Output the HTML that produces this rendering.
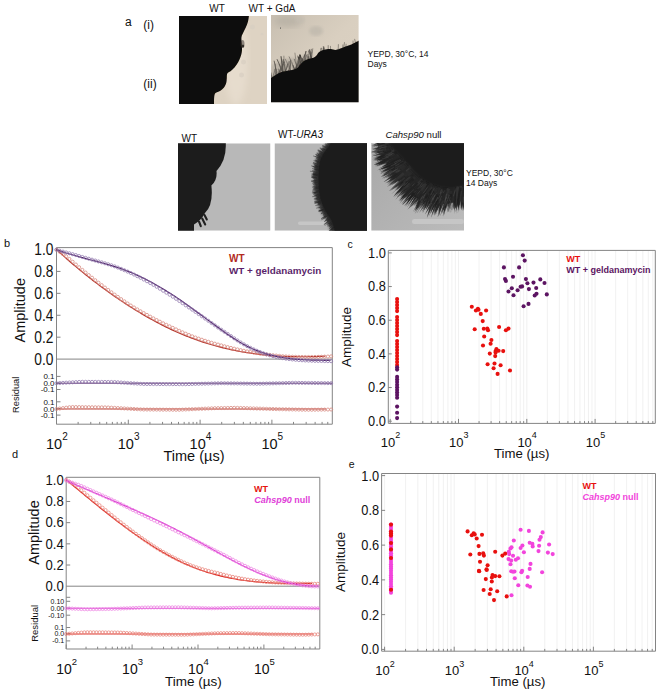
<!DOCTYPE html>
<html><head><meta charset="utf-8"><title>Figure</title>
<style>
html,body{margin:0;padding:0;background:#fff;width:660px;height:694px;overflow:hidden}
svg{display:block}
text{font-family:"Liberation Sans", sans-serif;}
</style></head><body>
<svg width="660" height="694" viewBox="0 0 660 694">
<defs><filter id="bl1" x="-5%" y="-5%" width="110%" height="110%"><feGaussianBlur stdDeviation="0.6"/></filter><filter id="bl2" x="-10%" y="-10%" width="120%" height="120%"><feGaussianBlur stdDeviation="1.6"/></filter><filter id="bl3" x="-10%" y="-10%" width="120%" height="120%"><feGaussianBlur stdDeviation="3"/></filter><clipPath id="c1"><rect x="179" y="16" width="88" height="88"/></clipPath><clipPath id="c2"><rect x="271" y="15" width="87.6" height="87.3"/></clipPath><clipPath id="c3"><rect x="178" y="143.3" width="92.5" height="87.4"/></clipPath><clipPath id="c4"><rect x="274.5" y="143.3" width="92.5" height="87.4"/></clipPath><clipPath id="c5"><rect x="371.2" y="143.3" width="92.8" height="87.4"/></clipPath><linearGradient id="g2" x1="0" y1="0" x2="1" y2="1"><stop offset="0" stop-color="#c8bfb1"/><stop offset="0.5" stop-color="#d9cfc0"/><stop offset="1" stop-color="#dcd2c3"/></linearGradient><linearGradient id="g5" x1="0" y1="0" x2="1" y2="1"><stop offset="0" stop-color="#a8a8a8"/><stop offset="1" stop-color="#bbbbbb"/></linearGradient></defs>
<g clip-path="url(#c1)">
<rect x="179" y="16" width="88" height="88" fill="#ded3c3"/>
<ellipse cx="236" cy="60" rx="12" ry="45" fill="#e6dccd" filter="url(#bl3)"/>
<circle cx="252.5" cy="27" r="2.5" fill="#d8cfc2" filter="url(#bl1)" opacity="0.7"/>
<circle cx="243.5" cy="62" r="2.5" fill="#d8cfc2" filter="url(#bl1)" opacity="0.7"/>
<circle cx="241.5" cy="75" r="2.5" fill="#d8cfc2" filter="url(#bl1)" opacity="0.7"/>
<circle cx="262" cy="34" r="1.5" fill="#d8cfc2" filter="url(#bl1)" opacity="0.7"/>
<path d="M249.3,13 C249.23,13.52 249.12,14.68 248.9,16.1 C248.68,17.52 248.48,19.68 248,21.5 C247.52,23.32 246.78,25.17 246,27 C245.22,28.83 244.05,30.83 243.3,32.5 C242.55,34.17 241.78,35.42 241.5,37 C241.22,38.58 241.52,40.33 241.6,42 C241.68,43.67 241.97,45.33 242,47 C242.03,48.67 242.05,50.33 241.8,52 C241.55,53.67 241.13,55.25 240.5,57 C239.87,58.75 239,60.75 238,62.5 C237,64.25 235.75,66.05 234.5,67.5 C233.25,68.95 231.7,70.2 230.5,71.2 C229.3,72.2 227.92,72.37 227.3,73.5 C226.68,74.63 226.98,76.42 226.8,78 C226.62,79.58 226.7,81.37 226.2,83 C225.7,84.63 224.83,86.47 223.8,87.8 C222.77,89.13 221.38,90.13 220,91 C218.62,91.87 216.47,92 215.5,93 C214.53,94 214.45,95.17 214.2,97 C213.95,98.83 214.03,102.33 214,104 C213.97,105.67 214,106.5 214,107 L170,107 L170,13 Z" fill="#0b0907" filter="url(#bl1)"/>
<ellipse cx="242.5" cy="44" rx="2" ry="4" fill="#3a3530" opacity="0.5" filter="url(#bl1)"/>
<ellipse cx="243" cy="46" rx="1.2" ry="1.5" fill="#1a1714" opacity="0.8"/>
</g>
<g clip-path="url(#c2)">
<rect x="271" y="15" width="88" height="88" fill="url(#g2)"/>
<ellipse cx="288" cy="21" rx="14" ry="6" fill="#b9b2a6" filter="url(#bl3)" opacity="0.9"/>
<ellipse cx="316" cy="31" rx="7" ry="5" fill="#c2bbaf" filter="url(#bl2)" opacity="0.9"/>
<ellipse cx="300" cy="20" rx="5" ry="3" fill="#c4bdb1" filter="url(#bl2)" opacity="0.8"/>
<circle cx="280.5" cy="28" r="0.6" fill="#333"/>
<line x1="296.5" y1="68.5" x2="300.5" y2="55.2" stroke="#2a2622" stroke-width="1.07" opacity="0.70"/>
<line x1="308.8" y1="59.9" x2="308.7" y2="56.3" stroke="#2a2622" stroke-width="1.07" opacity="0.66"/>
<line x1="307.9" y1="60.4" x2="307.8" y2="56.2" stroke="#2a2622" stroke-width="0.65" opacity="0.62"/>
<line x1="294.5" y1="70.2" x2="293.3" y2="65.2" stroke="#2a2622" stroke-width="0.67" opacity="0.77"/>
<line x1="302.4" y1="63.7" x2="303.5" y2="59.3" stroke="#2a2622" stroke-width="0.58" opacity="0.65"/>
<line x1="276.2" y1="76.0" x2="277.7" y2="71.3" stroke="#2a2622" stroke-width="0.63" opacity="0.49"/>
<line x1="311.3" y1="58.8" x2="309.4" y2="49.3" stroke="#2a2622" stroke-width="1.08" opacity="0.62"/>
<line x1="298.8" y1="66.5" x2="301.7" y2="59.7" stroke="#2a2622" stroke-width="0.91" opacity="0.79"/>
<line x1="307.6" y1="60.6" x2="307.0" y2="55.1" stroke="#2a2622" stroke-width="0.60" opacity="0.46"/>
<line x1="273.7" y1="77.4" x2="274.5" y2="68.9" stroke="#2a2622" stroke-width="0.50" opacity="0.67"/>
<line x1="284.9" y1="72.4" x2="287.4" y2="64.1" stroke="#2a2622" stroke-width="0.79" opacity="0.53"/>
<line x1="290.7" y1="71.1" x2="285.2" y2="58.9" stroke="#2a2622" stroke-width="1.09" opacity="0.41"/>
<line x1="301.7" y1="64.1" x2="297.6" y2="55.7" stroke="#2a2622" stroke-width="0.97" opacity="0.55"/>
<line x1="294.7" y1="70.1" x2="292.8" y2="65.4" stroke="#2a2622" stroke-width="0.61" opacity="0.78"/>
<line x1="279.1" y1="74.4" x2="284.7" y2="61.7" stroke="#2a2622" stroke-width="1.07" opacity="0.54"/>
<line x1="285.5" y1="72.2" x2="288.5" y2="61.3" stroke="#2a2622" stroke-width="0.56" opacity="0.70"/>
<line x1="303.7" y1="62.9" x2="299.7" y2="54.3" stroke="#2a2622" stroke-width="1.07" opacity="0.44"/>
<line x1="285.0" y1="72.3" x2="289.8" y2="61.1" stroke="#2a2622" stroke-width="0.70" opacity="0.77"/>
<line x1="293.4" y1="70.5" x2="291.9" y2="61.9" stroke="#2a2622" stroke-width="0.61" opacity="0.43"/>
<line x1="277.1" y1="75.5" x2="283.2" y2="63.9" stroke="#2a2622" stroke-width="0.60" opacity="0.42"/>
<line x1="311.5" y1="58.7" x2="310.8" y2="51.5" stroke="#2a2622" stroke-width="0.64" opacity="0.64"/>
<line x1="304.9" y1="62.2" x2="304.4" y2="55.6" stroke="#2a2622" stroke-width="0.53" opacity="0.77"/>
<line x1="272.3" y1="78.2" x2="275.8" y2="67.9" stroke="#2a2622" stroke-width="0.58" opacity="0.69"/>
<line x1="309.9" y1="59.4" x2="312.0" y2="51.7" stroke="#2a2622" stroke-width="0.56" opacity="0.57"/>
<line x1="277.1" y1="75.5" x2="274.1" y2="60.7" stroke="#2a2622" stroke-width="0.77" opacity="0.80"/>
<line x1="305.9" y1="61.6" x2="305.5" y2="51.2" stroke="#2a2622" stroke-width="0.79" opacity="0.69"/>
<line x1="290.6" y1="71.1" x2="289.9" y2="62.6" stroke="#2a2622" stroke-width="0.59" opacity="0.55"/>
<line x1="311.5" y1="58.6" x2="312.8" y2="48.4" stroke="#2a2622" stroke-width="0.80" opacity="0.54"/>
<line x1="274.7" y1="76.9" x2="276.8" y2="68.9" stroke="#2a2622" stroke-width="1.02" opacity="0.54"/>
<line x1="303.2" y1="63.2" x2="304.8" y2="54.4" stroke="#2a2622" stroke-width="0.90" opacity="0.70"/>
<line x1="285.9" y1="72.1" x2="283.1" y2="59.0" stroke="#2a2622" stroke-width="0.79" opacity="0.71"/>
<line x1="299.3" y1="66.0" x2="302.7" y2="58.3" stroke="#2a2622" stroke-width="0.89" opacity="0.63"/>
<line x1="271.5" y1="78.6" x2="268.7" y2="67.4" stroke="#2a2622" stroke-width="0.90" opacity="0.59"/>
<line x1="304.5" y1="62.5" x2="306.6" y2="54.7" stroke="#2a2622" stroke-width="0.71" opacity="0.66"/>
<line x1="301.3" y1="64.4" x2="299.9" y2="55.1" stroke="#2a2622" stroke-width="1.01" opacity="0.75"/>
<line x1="299.2" y1="66.1" x2="306.5" y2="51.2" stroke="#2a2622" stroke-width="0.81" opacity="0.61"/>
<line x1="277.8" y1="75.1" x2="284.0" y2="61.5" stroke="#2a2622" stroke-width="0.79" opacity="0.68"/>
<line x1="300.5" y1="65.0" x2="297.9" y2="56.8" stroke="#2a2622" stroke-width="0.97" opacity="0.63"/>
<line x1="298.3" y1="67.0" x2="299.5" y2="57.0" stroke="#2a2622" stroke-width="0.96" opacity="0.65"/>
<line x1="300.5" y1="65.0" x2="299.6" y2="61.5" stroke="#2a2622" stroke-width="0.76" opacity="0.66"/>
<line x1="280.0" y1="73.9" x2="281.7" y2="60.8" stroke="#2a2622" stroke-width="0.53" opacity="0.59"/>
<line x1="280.3" y1="73.8" x2="278.5" y2="68.5" stroke="#2a2622" stroke-width="0.69" opacity="0.47"/>
<line x1="278.9" y1="74.5" x2="278.8" y2="69.1" stroke="#2a2622" stroke-width="0.73" opacity="0.64"/>
<line x1="295.2" y1="69.7" x2="298.0" y2="62.4" stroke="#2a2622" stroke-width="0.50" opacity="0.56"/>
<line x1="282.4" y1="72.9" x2="278.9" y2="63.7" stroke="#2a2622" stroke-width="1.00" opacity="0.55"/>
<line x1="272.5" y1="78.1" x2="267.8" y2="66.7" stroke="#2a2622" stroke-width="0.83" opacity="0.54"/>
<line x1="294.8" y1="70.0" x2="299.9" y2="54.4" stroke="#2a2622" stroke-width="0.75" opacity="0.73"/>
<line x1="297.3" y1="67.8" x2="294.2" y2="58.9" stroke="#2a2622" stroke-width="0.86" opacity="0.63"/>
<line x1="310.2" y1="59.2" x2="311.3" y2="48.9" stroke="#2a2622" stroke-width="0.71" opacity="0.76"/>
<line x1="271.0" y1="78.9" x2="271.4" y2="72.6" stroke="#2a2622" stroke-width="0.87" opacity="0.46"/>
<line x1="296.8" y1="68.3" x2="294.9" y2="52.7" stroke="#2a2622" stroke-width="0.76" opacity="0.49"/>
<line x1="283.0" y1="72.8" x2="281.0" y2="56.2" stroke="#2a2622" stroke-width="1.08" opacity="0.77"/>
<line x1="295.4" y1="69.5" x2="298.9" y2="62.2" stroke="#2a2622" stroke-width="0.80" opacity="0.57"/>
<line x1="284.1" y1="72.5" x2="283.9" y2="55.7" stroke="#2a2622" stroke-width="0.67" opacity="0.59"/>
<line x1="276.0" y1="76.1" x2="275.3" y2="63.7" stroke="#2a2622" stroke-width="0.68" opacity="0.71"/>
<line x1="304.9" y1="62.2" x2="305.0" y2="58.7" stroke="#2a2622" stroke-width="0.66" opacity="0.77"/>
<line x1="303.1" y1="63.3" x2="302.1" y2="58.3" stroke="#2a2622" stroke-width="0.59" opacity="0.80"/>
<line x1="283.0" y1="72.8" x2="282.7" y2="60.5" stroke="#2a2622" stroke-width="0.89" opacity="0.64"/>
<line x1="301.5" y1="64.2" x2="302.4" y2="60.1" stroke="#2a2622" stroke-width="0.68" opacity="0.61"/>
<line x1="284.8" y1="72.4" x2="285.0" y2="63.8" stroke="#2a2622" stroke-width="0.78" opacity="0.54"/>
<line x1="301.5" y1="64.2" x2="298.4" y2="57.3" stroke="#2a2622" stroke-width="0.65" opacity="0.58"/>
<line x1="308.6" y1="60.1" x2="309.0" y2="50.3" stroke="#2a2622" stroke-width="0.51" opacity="0.71"/>
<line x1="288.5" y1="71.5" x2="290.9" y2="59.9" stroke="#2a2622" stroke-width="0.88" opacity="0.59"/>
<line x1="308.4" y1="60.2" x2="307.8" y2="54.0" stroke="#2a2622" stroke-width="1.01" opacity="0.48"/>
<line x1="283.2" y1="72.7" x2="277.0" y2="59.2" stroke="#2a2622" stroke-width="1.00" opacity="0.68"/>
<line x1="288.7" y1="71.5" x2="290.9" y2="63.4" stroke="#2a2622" stroke-width="1.05" opacity="0.46"/>
<line x1="290.6" y1="71.1" x2="290.6" y2="59.5" stroke="#2a2622" stroke-width="0.70" opacity="0.46"/>
<line x1="295.0" y1="69.8" x2="289.0" y2="56.5" stroke="#2a2622" stroke-width="0.64" opacity="0.73"/>
<line x1="303.5" y1="63.1" x2="300.0" y2="55.8" stroke="#2a2622" stroke-width="0.93" opacity="0.79"/>
<line x1="311.9" y1="58.5" x2="308.5" y2="50.8" stroke="#2a2622" stroke-width="1.01" opacity="0.49"/>
<line x1="343.8" y1="48.0" x2="344.5" y2="42.2" stroke="#2a2622" stroke-width="0.7" opacity="0.6"/>
<line x1="323.4" y1="51.3" x2="324.2" y2="47.6" stroke="#2a2622" stroke-width="0.7" opacity="0.6"/>
<line x1="324.0" y1="51.1" x2="323.8" y2="46.3" stroke="#2a2622" stroke-width="0.7" opacity="0.6"/>
<line x1="324.4" y1="50.9" x2="323.2" y2="46.2" stroke="#2a2622" stroke-width="0.7" opacity="0.6"/>
<line x1="322.3" y1="51.8" x2="321.4" y2="47.8" stroke="#2a2622" stroke-width="0.7" opacity="0.6"/>
<line x1="320.3" y1="52.6" x2="320.9" y2="47.9" stroke="#2a2622" stroke-width="0.7" opacity="0.6"/>
<line x1="353.1" y1="44.0" x2="353.0" y2="40.6" stroke="#2a2622" stroke-width="0.7" opacity="0.6"/>
<line x1="330.6" y1="50.7" x2="330.6" y2="45.9" stroke="#2a2622" stroke-width="0.7" opacity="0.6"/>
<line x1="355.5" y1="42.9" x2="354.6" y2="38.9" stroke="#2a2622" stroke-width="0.7" opacity="0.6"/>
<line x1="345.9" y1="47.2" x2="346.1" y2="43.8" stroke="#2a2622" stroke-width="0.7" opacity="0.6"/>
<line x1="338.2" y1="49.9" x2="338.4" y2="44.2" stroke="#2a2622" stroke-width="0.7" opacity="0.6"/>
<line x1="342.8" y1="48.3" x2="342.9" y2="44.5" stroke="#2a2622" stroke-width="0.7" opacity="0.6"/>
<line x1="328.2" y1="50.5" x2="328.2" y2="45.2" stroke="#2a2622" stroke-width="0.7" opacity="0.6"/>
<line x1="323.4" y1="51.4" x2="323.1" y2="47.7" stroke="#2a2622" stroke-width="0.7" opacity="0.6"/>
<path d="M271,80 L271,66 Q285,56 300,58 Q306,52 312,52 L312,60 Z" fill="#8f8a82" opacity="0.35" filter="url(#bl2)"/>
<path d="M268,79.5 C268.52,79.23 269.82,78.65 271.1,77.9 C272.38,77.15 273.97,75.97 275.7,75 C277.43,74.03 279.32,72.83 281.5,72.1 C283.68,71.37 286.62,71.08 288.8,70.6 C290.98,70.12 293.02,69.8 294.6,69.2 C296.18,68.6 297.2,67.97 298.3,67 C299.4,66.03 300.12,64.48 301.2,63.4 C302.28,62.32 303.47,61.28 304.8,60.5 C306.13,59.72 307.75,59.15 309.2,58.7 C310.65,58.25 312.28,58.35 313.5,57.8 C314.72,57.25 315.65,56.28 316.5,55.4 C317.35,54.52 317.63,53.35 318.6,52.5 C319.57,51.65 320.97,50.83 322.3,50.3 C323.63,49.77 325.15,49.5 326.6,49.3 C328.05,49.1 329.53,48.98 331,49.1 C332.47,49.22 333.95,50.05 335.4,50 C336.85,49.95 338.02,49.37 339.7,48.8 C341.38,48.23 343.55,47.32 345.5,46.6 C347.45,45.88 349.7,45.22 351.4,44.5 C353.1,43.78 354.5,42.92 355.7,42.3 C356.9,41.68 357.55,41.35 358.6,40.8 C359.65,40.25 361.43,39.3 362,39 L362,106 L268,106 Z" fill="#0d0b0a" filter="url(#bl1)"/>
</g>
<g clip-path="url(#c3)">
<rect x="178" y="143.3" width="92.5" height="87.4" fill="#b8b8b8"/>
<path d="M225.8,140 L225.8,143.3 Q226.5,160 216.5,171 Q217.5,180 211.4,185.5 Q213.5,205 205,213 Q201,220.5 194,224.5 L194,234 L170,234 L170,140 Z" fill="#1d1d1d" filter="url(#bl1)"/>
<line x1="204.5" y1="215" x2="206.8" y2="219.5" stroke="#1f1f1f" stroke-width="2.1" stroke-linecap="round"/>
<line x1="202.2" y1="218.5" x2="205.2" y2="224.5" stroke="#1f1f1f" stroke-width="2.1" stroke-linecap="round"/>
<line x1="199" y1="221.5" x2="200.8" y2="226.2" stroke="#1f1f1f" stroke-width="2.1" stroke-linecap="round"/>
</g>
<g clip-path="url(#c4)">
<rect x="274.5" y="143.3" width="92.5" height="87.4" fill="#b6b6b6"/>
<rect x="298" y="221.5" width="30" height="3.5" rx="1.7" fill="#c6c6c6" filter="url(#bl1)"/>
<path d="M327.5,138 C327.33,138.88 327.42,141.3 326.5,143.3 C325.58,145.3 323.5,147.72 322,150 C320.5,152.28 318.58,154.83 317.5,157 C316.42,159.17 316,160.5 315.5,163 C315,165.5 314.67,168.33 314.5,172 C314.33,175.67 314.33,181.17 314.5,185 C314.67,188.83 314.92,191.83 315.5,195 C316.08,198.17 316.83,201 318,204 C319.17,207 321,210.33 322.5,213 C324,215.67 325.83,217.83 327,220 C328.17,222.17 328.92,224.17 329.5,226 C330.08,227.83 330.25,229.33 330.5,231 C330.75,232.67 330.92,235.17 331,236 L372,236 L372,138 Z" fill="#2a2a2a" filter="url(#bl2)"/>
<path d="M331.5,138 C331.33,138.88 331.42,141.3 330.5,143.3 C329.58,145.3 327.5,147.72 326,150 C324.5,152.28 322.58,154.83 321.5,157 C320.42,159.17 320,160.5 319.5,163 C319,165.5 318.67,168.33 318.5,172 C318.33,175.67 318.33,181.17 318.5,185 C318.67,188.83 318.92,191.83 319.5,195 C320.08,198.17 320.83,201 322,204 C323.17,207 325,210.33 326.5,213 C328,215.67 329.83,217.83 331,220 C332.17,222.17 332.92,224.17 333.5,226 C334.08,227.83 334.25,229.33 334.5,231 C334.75,232.67 334.92,235.17 335,236 L372,236 L372,138 Z" fill="#1f1f1f" filter="url(#bl1)"/>
<line x1="317.4" y1="191.0" x2="312.2" y2="191.4" stroke="#262626" stroke-width="0.8" opacity="0.55"/>
<line x1="316.7" y1="183.2" x2="314.1" y2="183.1" stroke="#262626" stroke-width="0.8" opacity="0.55"/>
<line x1="316.5" y1="165.4" x2="314.3" y2="164.8" stroke="#262626" stroke-width="0.8" opacity="0.55"/>
<line x1="336.3" y1="239.0" x2="334.0" y2="242.7" stroke="#262626" stroke-width="0.8" opacity="0.55"/>
<line x1="347.7" y1="123.4" x2="345.9" y2="119.5" stroke="#262626" stroke-width="0.8" opacity="0.55"/>
<line x1="334.1" y1="227.3" x2="331.6" y2="230.3" stroke="#262626" stroke-width="0.8" opacity="0.55"/>
<line x1="332.3" y1="223.0" x2="330.7" y2="224.3" stroke="#262626" stroke-width="0.8" opacity="0.55"/>
<line x1="316.4" y1="192.7" x2="312.6" y2="193.0" stroke="#262626" stroke-width="0.8" opacity="0.55"/>
<line x1="316.5" y1="184.4" x2="312.9" y2="184.5" stroke="#262626" stroke-width="0.8" opacity="0.55"/>
<line x1="349.8" y1="122.2" x2="348.0" y2="117.6" stroke="#262626" stroke-width="0.8" opacity="0.55"/>
<line x1="324.4" y1="208.4" x2="321.8" y2="209.9" stroke="#262626" stroke-width="0.8" opacity="0.55"/>
<line x1="326.8" y1="148.3" x2="322.7" y2="145.6" stroke="#262626" stroke-width="0.8" opacity="0.55"/>
<line x1="344.7" y1="125.6" x2="343.5" y2="124.0" stroke="#262626" stroke-width="0.8" opacity="0.55"/>
<line x1="339.5" y1="131.1" x2="336.2" y2="126.8" stroke="#262626" stroke-width="0.8" opacity="0.55"/>
<line x1="338.9" y1="240.0" x2="336.3" y2="243.9" stroke="#262626" stroke-width="0.8" opacity="0.55"/>
<line x1="338.1" y1="237.6" x2="334.4" y2="241.6" stroke="#262626" stroke-width="0.8" opacity="0.55"/>
<line x1="334.9" y1="234.4" x2="333.5" y2="236.3" stroke="#262626" stroke-width="0.8" opacity="0.55"/>
<line x1="329.9" y1="145.1" x2="326.8" y2="142.6" stroke="#262626" stroke-width="0.8" opacity="0.55"/>
<line x1="330.6" y1="224.3" x2="328.6" y2="225.8" stroke="#262626" stroke-width="0.8" opacity="0.55"/>
<line x1="334.5" y1="235.1" x2="332.8" y2="237.2" stroke="#262626" stroke-width="0.8" opacity="0.55"/>
<line x1="346.5" y1="124.8" x2="345.3" y2="122.0" stroke="#262626" stroke-width="0.8" opacity="0.55"/>
<line x1="330.7" y1="220.8" x2="326.5" y2="223.6" stroke="#262626" stroke-width="0.8" opacity="0.55"/>
<line x1="334.7" y1="238.6" x2="333.0" y2="240.8" stroke="#262626" stroke-width="0.8" opacity="0.55"/>
<line x1="327.6" y1="147.8" x2="325.0" y2="146.3" stroke="#262626" stroke-width="0.8" opacity="0.55"/>
<line x1="337.0" y1="238.2" x2="335.2" y2="240.4" stroke="#262626" stroke-width="0.8" opacity="0.55"/>
<line x1="320.3" y1="201.8" x2="315.2" y2="203.1" stroke="#262626" stroke-width="0.8" opacity="0.55"/>
<line x1="315.5" y1="173.5" x2="312.8" y2="173.2" stroke="#262626" stroke-width="0.8" opacity="0.55"/>
<line x1="338.3" y1="130.0" x2="336.4" y2="127.8" stroke="#262626" stroke-width="0.8" opacity="0.55"/>
<line x1="322.7" y1="150.3" x2="320.6" y2="148.6" stroke="#262626" stroke-width="0.8" opacity="0.55"/>
<line x1="335.8" y1="133.2" x2="333.3" y2="130.8" stroke="#262626" stroke-width="0.8" opacity="0.55"/>
<line x1="342.3" y1="244.2" x2="340.6" y2="246.5" stroke="#262626" stroke-width="0.8" opacity="0.55"/>
<line x1="326.0" y1="216.4" x2="322.6" y2="218.6" stroke="#262626" stroke-width="0.8" opacity="0.55"/>
<line x1="331.1" y1="226.6" x2="329.5" y2="228.1" stroke="#262626" stroke-width="0.8" opacity="0.55"/>
<line x1="315.4" y1="175.7" x2="311.3" y2="175.3" stroke="#262626" stroke-width="0.8" opacity="0.55"/>
<line x1="341.1" y1="131.4" x2="339.8" y2="129.8" stroke="#262626" stroke-width="0.8" opacity="0.55"/>
<line x1="319.8" y1="191.7" x2="317.2" y2="192.0" stroke="#262626" stroke-width="0.8" opacity="0.55"/>
<line x1="318.7" y1="174.5" x2="315.6" y2="173.5" stroke="#262626" stroke-width="0.8" opacity="0.55"/>
<line x1="348.1" y1="124.7" x2="346.2" y2="120.7" stroke="#262626" stroke-width="0.8" opacity="0.55"/>
<line x1="334.2" y1="230.5" x2="332.6" y2="231.8" stroke="#262626" stroke-width="0.8" opacity="0.55"/>
<line x1="319.4" y1="155.1" x2="317.6" y2="154.1" stroke="#262626" stroke-width="0.8" opacity="0.55"/>
<line x1="316.3" y1="186.8" x2="313.2" y2="186.4" stroke="#262626" stroke-width="0.8" opacity="0.55"/>
<line x1="338.9" y1="239.5" x2="335.7" y2="242.8" stroke="#262626" stroke-width="0.8" opacity="0.55"/>
<line x1="323.4" y1="151.2" x2="319.7" y2="148.2" stroke="#262626" stroke-width="0.8" opacity="0.55"/>
<line x1="320.3" y1="204.6" x2="315.3" y2="205.6" stroke="#262626" stroke-width="0.8" opacity="0.55"/>
<line x1="317.2" y1="196.0" x2="312.2" y2="196.7" stroke="#262626" stroke-width="0.8" opacity="0.55"/>
<line x1="318.2" y1="166.7" x2="314.4" y2="165.3" stroke="#262626" stroke-width="0.8" opacity="0.55"/>
<line x1="338.0" y1="239.4" x2="334.2" y2="243.3" stroke="#262626" stroke-width="0.8" opacity="0.55"/>
<line x1="323.9" y1="153.0" x2="320.0" y2="150.6" stroke="#262626" stroke-width="0.8" opacity="0.55"/>
<line x1="316.4" y1="192.7" x2="314.1" y2="192.8" stroke="#262626" stroke-width="0.8" opacity="0.55"/>
<line x1="344.3" y1="243.6" x2="342.6" y2="246.8" stroke="#262626" stroke-width="0.8" opacity="0.55"/>
<line x1="321.1" y1="156.4" x2="317.6" y2="154.1" stroke="#262626" stroke-width="0.8" opacity="0.55"/>
<line x1="329.3" y1="214.7" x2="326.6" y2="216.1" stroke="#262626" stroke-width="0.8" opacity="0.55"/>
<line x1="331.9" y1="221.3" x2="327.6" y2="224.2" stroke="#262626" stroke-width="0.8" opacity="0.55"/>
<line x1="316.1" y1="192.6" x2="313.0" y2="192.8" stroke="#262626" stroke-width="0.8" opacity="0.55"/>
<line x1="331.2" y1="222.5" x2="327.0" y2="224.9" stroke="#262626" stroke-width="0.8" opacity="0.55"/>
<line x1="336.2" y1="134.2" x2="333.4" y2="131.2" stroke="#262626" stroke-width="0.8" opacity="0.55"/>
<line x1="332.8" y1="232.7" x2="329.0" y2="235.8" stroke="#262626" stroke-width="0.8" opacity="0.55"/>
<line x1="320.3" y1="153.8" x2="317.5" y2="152.6" stroke="#262626" stroke-width="0.8" opacity="0.55"/>
<line x1="318.7" y1="191.1" x2="316.0" y2="191.4" stroke="#262626" stroke-width="0.8" opacity="0.55"/>
<line x1="317.7" y1="166.4" x2="314.9" y2="165.2" stroke="#262626" stroke-width="0.8" opacity="0.55"/>
<line x1="348.8" y1="125.4" x2="347.5" y2="123.6" stroke="#262626" stroke-width="0.8" opacity="0.55"/>
<line x1="336.4" y1="136.1" x2="333.5" y2="132.6" stroke="#262626" stroke-width="0.8" opacity="0.55"/>
<line x1="322.5" y1="210.1" x2="320.7" y2="211.1" stroke="#262626" stroke-width="0.8" opacity="0.55"/>
<line x1="319.8" y1="190.5" x2="314.9" y2="191.2" stroke="#262626" stroke-width="0.8" opacity="0.55"/>
<line x1="334.2" y1="230.4" x2="331.2" y2="233.4" stroke="#262626" stroke-width="0.8" opacity="0.55"/>
<line x1="317.1" y1="165.6" x2="312.8" y2="163.5" stroke="#262626" stroke-width="0.8" opacity="0.55"/>
<line x1="321.2" y1="158.7" x2="317.8" y2="157.4" stroke="#262626" stroke-width="0.8" opacity="0.55"/>
<line x1="347.1" y1="244.5" x2="345.2" y2="248.6" stroke="#262626" stroke-width="0.8" opacity="0.55"/>
<line x1="326.8" y1="213.6" x2="322.9" y2="215.6" stroke="#262626" stroke-width="0.8" opacity="0.55"/>
<line x1="316.4" y1="167.7" x2="313.2" y2="166.5" stroke="#262626" stroke-width="0.8" opacity="0.55"/>
<line x1="340.0" y1="132.8" x2="337.2" y2="128.4" stroke="#262626" stroke-width="0.8" opacity="0.55"/>
<line x1="333.1" y1="233.8" x2="329.8" y2="236.4" stroke="#262626" stroke-width="0.8" opacity="0.55"/>
<line x1="319.6" y1="201.2" x2="314.6" y2="202.0" stroke="#262626" stroke-width="0.8" opacity="0.55"/>
<line x1="343.8" y1="128.2" x2="341.2" y2="124.8" stroke="#262626" stroke-width="0.8" opacity="0.55"/>
<line x1="321.7" y1="152.7" x2="318.1" y2="150.4" stroke="#262626" stroke-width="0.8" opacity="0.55"/>
<line x1="328.7" y1="221.8" x2="323.8" y2="224.3" stroke="#262626" stroke-width="0.8" opacity="0.55"/>
<line x1="315.6" y1="179.0" x2="312.6" y2="178.3" stroke="#262626" stroke-width="0.8" opacity="0.55"/>
<line x1="333.6" y1="136.7" x2="332.0" y2="135.1" stroke="#262626" stroke-width="0.8" opacity="0.55"/>
<line x1="315.7" y1="177.1" x2="312.0" y2="177.1" stroke="#262626" stroke-width="0.8" opacity="0.55"/>
<line x1="330.6" y1="143.4" x2="326.7" y2="140.6" stroke="#262626" stroke-width="0.8" opacity="0.55"/>
<line x1="320.9" y1="206.9" x2="318.6" y2="207.9" stroke="#262626" stroke-width="0.8" opacity="0.55"/>
<line x1="316.0" y1="182.0" x2="311.1" y2="181.4" stroke="#262626" stroke-width="0.8" opacity="0.55"/>
<line x1="343.9" y1="128.0" x2="340.6" y2="123.8" stroke="#262626" stroke-width="0.8" opacity="0.55"/>
<line x1="329.7" y1="219.8" x2="327.0" y2="221.3" stroke="#262626" stroke-width="0.8" opacity="0.55"/>
<line x1="317.9" y1="164.5" x2="313.2" y2="162.7" stroke="#262626" stroke-width="0.8" opacity="0.55"/>
<line x1="324.0" y1="209.1" x2="319.3" y2="210.5" stroke="#262626" stroke-width="0.8" opacity="0.55"/>
<line x1="329.1" y1="222.4" x2="324.7" y2="225.5" stroke="#262626" stroke-width="0.8" opacity="0.55"/>
<line x1="318.4" y1="174.3" x2="314.6" y2="173.6" stroke="#262626" stroke-width="0.8" opacity="0.55"/>
<line x1="319.4" y1="169.9" x2="314.2" y2="168.5" stroke="#262626" stroke-width="0.8" opacity="0.55"/>
<line x1="317.7" y1="198.3" x2="313.8" y2="199.0" stroke="#262626" stroke-width="0.8" opacity="0.55"/>
<line x1="322.3" y1="158.1" x2="318.7" y2="156.5" stroke="#262626" stroke-width="0.8" opacity="0.55"/>
<line x1="344.3" y1="125.4" x2="342.8" y2="122.9" stroke="#262626" stroke-width="0.8" opacity="0.55"/>
<line x1="333.4" y1="234.1" x2="329.6" y2="237.2" stroke="#262626" stroke-width="0.8" opacity="0.55"/>
<line x1="318.2" y1="187.6" x2="315.5" y2="187.6" stroke="#262626" stroke-width="0.8" opacity="0.55"/>
<line x1="342.2" y1="131.0" x2="339.0" y2="127.5" stroke="#262626" stroke-width="0.8" opacity="0.55"/>
<line x1="332.2" y1="222.5" x2="328.8" y2="225.4" stroke="#262626" stroke-width="0.8" opacity="0.55"/>
<line x1="320.4" y1="204.1" x2="318.1" y2="204.6" stroke="#262626" stroke-width="0.8" opacity="0.55"/>
<line x1="333.6" y1="234.7" x2="331.8" y2="237.0" stroke="#262626" stroke-width="0.8" opacity="0.55"/>
<line x1="317.2" y1="180.1" x2="313.9" y2="179.9" stroke="#262626" stroke-width="0.8" opacity="0.55"/>
<line x1="318.5" y1="180.4" x2="315.8" y2="180.0" stroke="#262626" stroke-width="0.8" opacity="0.55"/>
<line x1="317.9" y1="164.5" x2="313.2" y2="162.7" stroke="#262626" stroke-width="0.8" opacity="0.55"/>
<line x1="334.0" y1="137.0" x2="331.2" y2="133.4" stroke="#262626" stroke-width="0.8" opacity="0.55"/>
<line x1="339.0" y1="132.3" x2="337.4" y2="129.6" stroke="#262626" stroke-width="0.8" opacity="0.55"/>
<line x1="328.1" y1="221.4" x2="324.2" y2="224.7" stroke="#262626" stroke-width="0.8" opacity="0.55"/>
<line x1="327.8" y1="218.1" x2="325.5" y2="219.9" stroke="#262626" stroke-width="0.8" opacity="0.55"/>
<line x1="330.8" y1="139.0" x2="327.0" y2="136.1" stroke="#262626" stroke-width="0.8" opacity="0.55"/>
<line x1="318.1" y1="197.9" x2="316.1" y2="198.4" stroke="#262626" stroke-width="0.8" opacity="0.55"/>
<line x1="318.2" y1="157.6" x2="313.1" y2="155.9" stroke="#262626" stroke-width="0.8" opacity="0.55"/>
<line x1="316.0" y1="183.5" x2="312.2" y2="183.2" stroke="#262626" stroke-width="0.8" opacity="0.55"/>
<line x1="333.0" y1="222.7" x2="331.3" y2="224.4" stroke="#262626" stroke-width="0.8" opacity="0.55"/>
<line x1="316.9" y1="177.1" x2="312.9" y2="176.9" stroke="#262626" stroke-width="0.8" opacity="0.55"/>
<line x1="332.7" y1="223.7" x2="328.5" y2="226.2" stroke="#262626" stroke-width="0.8" opacity="0.55"/>
<line x1="342.5" y1="131.0" x2="341.5" y2="129.0" stroke="#262626" stroke-width="0.8" opacity="0.55"/>
<line x1="316.3" y1="189.7" x2="313.2" y2="189.9" stroke="#262626" stroke-width="0.8" opacity="0.55"/>
<line x1="317.3" y1="182.2" x2="313.2" y2="182.5" stroke="#262626" stroke-width="0.8" opacity="0.55"/>
<line x1="319.9" y1="155.3" x2="317.5" y2="154.2" stroke="#262626" stroke-width="0.8" opacity="0.55"/>
<line x1="324.7" y1="151.6" x2="322.3" y2="150.4" stroke="#262626" stroke-width="0.8" opacity="0.55"/>
<line x1="319.2" y1="182.7" x2="314.1" y2="182.0" stroke="#262626" stroke-width="0.8" opacity="0.55"/>
<line x1="320.1" y1="154.8" x2="316.3" y2="153.0" stroke="#262626" stroke-width="0.8" opacity="0.55"/>
<line x1="317.3" y1="170.2" x2="312.2" y2="168.4" stroke="#262626" stroke-width="0.8" opacity="0.55"/>
<line x1="325.6" y1="216.4" x2="321.4" y2="218.3" stroke="#262626" stroke-width="0.8" opacity="0.55"/>
<line x1="329.6" y1="141.5" x2="326.1" y2="137.7" stroke="#262626" stroke-width="0.8" opacity="0.55"/>
<line x1="319.7" y1="156.3" x2="315.4" y2="154.3" stroke="#262626" stroke-width="0.8" opacity="0.55"/>
<line x1="324.6" y1="154.3" x2="321.9" y2="152.8" stroke="#262626" stroke-width="0.8" opacity="0.55"/>
<line x1="347.4" y1="244.1" x2="345.2" y2="247.7" stroke="#262626" stroke-width="0.8" opacity="0.55"/>
<line x1="327.5" y1="219.5" x2="324.0" y2="221.9" stroke="#262626" stroke-width="0.8" opacity="0.55"/>
<line x1="318.5" y1="161.4" x2="314.9" y2="160.1" stroke="#262626" stroke-width="0.8" opacity="0.55"/>
<line x1="350.8" y1="123.4" x2="349.2" y2="119.3" stroke="#262626" stroke-width="0.8" opacity="0.55"/>
<line x1="349.4" y1="127.3" x2="347.7" y2="123.5" stroke="#262626" stroke-width="0.8" opacity="0.55"/>
<line x1="327.7" y1="215.5" x2="325.9" y2="216.7" stroke="#262626" stroke-width="0.8" opacity="0.55"/>
<line x1="321.7" y1="200.8" x2="318.9" y2="201.2" stroke="#262626" stroke-width="0.8" opacity="0.55"/>
<line x1="316.9" y1="177.3" x2="311.6" y2="176.5" stroke="#262626" stroke-width="0.8" opacity="0.55"/>
<line x1="350.2" y1="123.8" x2="347.6" y2="119.7" stroke="#262626" stroke-width="0.8" opacity="0.55"/>
<line x1="316.2" y1="170.2" x2="314.1" y2="169.5" stroke="#262626" stroke-width="0.8" opacity="0.55"/>
<line x1="332.5" y1="228.3" x2="330.5" y2="230.1" stroke="#262626" stroke-width="0.8" opacity="0.55"/>
<line x1="319.4" y1="169.1" x2="314.2" y2="167.7" stroke="#262626" stroke-width="0.8" opacity="0.55"/>
<line x1="316.5" y1="180.6" x2="313.2" y2="180.5" stroke="#262626" stroke-width="0.8" opacity="0.55"/>
<line x1="318.3" y1="162.1" x2="315.6" y2="160.8" stroke="#262626" stroke-width="0.8" opacity="0.55"/>
<line x1="326.6" y1="210.2" x2="324.1" y2="211.7" stroke="#262626" stroke-width="0.8" opacity="0.55"/>
<line x1="331.6" y1="229.7" x2="328.9" y2="231.7" stroke="#262626" stroke-width="0.8" opacity="0.55"/>
<line x1="326.8" y1="151.4" x2="322.6" y2="147.8" stroke="#262626" stroke-width="0.8" opacity="0.55"/>
<line x1="338.1" y1="240.9" x2="336.0" y2="243.7" stroke="#262626" stroke-width="0.8" opacity="0.55"/>
<line x1="348.0" y1="126.9" x2="346.6" y2="123.3" stroke="#262626" stroke-width="0.8" opacity="0.55"/>
<line x1="323.1" y1="153.4" x2="318.7" y2="150.3" stroke="#262626" stroke-width="0.8" opacity="0.55"/>
<line x1="319.0" y1="170.1" x2="315.0" y2="169.0" stroke="#262626" stroke-width="0.8" opacity="0.55"/>
<line x1="332.3" y1="220.8" x2="329.4" y2="223.4" stroke="#262626" stroke-width="0.8" opacity="0.55"/>
<line x1="317.1" y1="192.3" x2="313.5" y2="192.9" stroke="#262626" stroke-width="0.8" opacity="0.55"/>
<line x1="317.5" y1="172.8" x2="312.9" y2="171.8" stroke="#262626" stroke-width="0.8" opacity="0.55"/>
<line x1="349.9" y1="122.3" x2="347.7" y2="118.4" stroke="#262626" stroke-width="0.8" opacity="0.55"/>
<line x1="333.4" y1="236.9" x2="330.1" y2="240.3" stroke="#262626" stroke-width="0.8" opacity="0.55"/>
<line x1="321.7" y1="203.1" x2="317.5" y2="204.3" stroke="#262626" stroke-width="0.8" opacity="0.55"/>
<line x1="316.7" y1="171.2" x2="312.1" y2="170.6" stroke="#262626" stroke-width="0.8" opacity="0.55"/>
<line x1="326.0" y1="217.6" x2="321.3" y2="219.8" stroke="#262626" stroke-width="0.8" opacity="0.55"/>
<line x1="344.4" y1="240.7" x2="342.9" y2="243.2" stroke="#262626" stroke-width="0.8" opacity="0.55"/>
<line x1="319.4" y1="167.3" x2="315.5" y2="166.6" stroke="#262626" stroke-width="0.8" opacity="0.55"/>
<line x1="337.2" y1="238.9" x2="334.6" y2="241.9" stroke="#262626" stroke-width="0.8" opacity="0.55"/>
<line x1="320.2" y1="201.6" x2="317.6" y2="202.4" stroke="#262626" stroke-width="0.8" opacity="0.55"/>
<line x1="323.5" y1="149.9" x2="321.5" y2="148.9" stroke="#262626" stroke-width="0.8" opacity="0.55"/>
<line x1="328.7" y1="141.7" x2="324.9" y2="139.0" stroke="#262626" stroke-width="0.8" opacity="0.55"/>
<line x1="319.3" y1="194.6" x2="314.6" y2="195.5" stroke="#262626" stroke-width="0.8" opacity="0.55"/>
<line x1="316.5" y1="161.6" x2="313.6" y2="160.4" stroke="#262626" stroke-width="0.8" opacity="0.55"/>
<line x1="323.3" y1="149.5" x2="320.3" y2="147.7" stroke="#262626" stroke-width="0.8" opacity="0.55"/>
<line x1="335.4" y1="238.6" x2="334.1" y2="240.5" stroke="#262626" stroke-width="0.8" opacity="0.55"/>
<line x1="317.1" y1="175.3" x2="312.7" y2="174.8" stroke="#262626" stroke-width="0.8" opacity="0.55"/>
<line x1="328.8" y1="148.1" x2="326.6" y2="146.4" stroke="#262626" stroke-width="0.8" opacity="0.55"/>
<line x1="338.8" y1="238.0" x2="335.8" y2="241.4" stroke="#262626" stroke-width="0.8" opacity="0.55"/>
<line x1="326.9" y1="212.0" x2="323.9" y2="213.2" stroke="#262626" stroke-width="0.8" opacity="0.55"/>
<line x1="322.0" y1="202.0" x2="317.7" y2="203.2" stroke="#262626" stroke-width="0.8" opacity="0.55"/>
<line x1="339.3" y1="128.6" x2="336.2" y2="124.4" stroke="#262626" stroke-width="0.8" opacity="0.55"/>
<line x1="329.6" y1="143.7" x2="327.1" y2="141.8" stroke="#262626" stroke-width="0.8" opacity="0.55"/>
<line x1="341.5" y1="127.4" x2="339.8" y2="125.0" stroke="#262626" stroke-width="0.8" opacity="0.55"/>
<line x1="321.0" y1="202.4" x2="317.8" y2="203.5" stroke="#262626" stroke-width="0.8" opacity="0.55"/>
<line x1="330.9" y1="223.3" x2="327.1" y2="226.2" stroke="#262626" stroke-width="0.8" opacity="0.55"/>
<line x1="330.8" y1="138.1" x2="329.0" y2="136.2" stroke="#262626" stroke-width="0.8" opacity="0.55"/>
<line x1="336.6" y1="134.5" x2="335.2" y2="132.9" stroke="#262626" stroke-width="0.8" opacity="0.55"/>
<line x1="316.6" y1="178.1" x2="311.3" y2="177.2" stroke="#262626" stroke-width="0.8" opacity="0.55"/>
<line x1="330.4" y1="144.2" x2="327.7" y2="141.4" stroke="#262626" stroke-width="0.8" opacity="0.55"/>
<line x1="339.1" y1="237.0" x2="335.9" y2="240.3" stroke="#262626" stroke-width="0.8" opacity="0.55"/>
<line x1="337.5" y1="238.9" x2="335.8" y2="240.8" stroke="#262626" stroke-width="0.8" opacity="0.55"/>
<line x1="319.4" y1="163.4" x2="316.9" y2="162.3" stroke="#262626" stroke-width="0.8" opacity="0.55"/>
<line x1="315.8" y1="181.2" x2="312.4" y2="181.1" stroke="#262626" stroke-width="0.8" opacity="0.55"/>
<line x1="346.4" y1="125.5" x2="344.7" y2="122.2" stroke="#262626" stroke-width="0.8" opacity="0.55"/>
<line x1="322.0" y1="153.1" x2="317.4" y2="150.7" stroke="#262626" stroke-width="0.8" opacity="0.55"/>
<line x1="329.4" y1="138.9" x2="326.0" y2="135.2" stroke="#262626" stroke-width="0.8" opacity="0.55"/>
<line x1="329.5" y1="137.4" x2="325.8" y2="133.5" stroke="#262626" stroke-width="0.8" opacity="0.55"/>
<line x1="316.0" y1="180.9" x2="311.2" y2="180.7" stroke="#262626" stroke-width="0.8" opacity="0.55"/>
<line x1="319.9" y1="195.1" x2="315.4" y2="195.1" stroke="#262626" stroke-width="0.8" opacity="0.55"/>
<line x1="321.4" y1="200.9" x2="318.8" y2="201.7" stroke="#262626" stroke-width="0.8" opacity="0.55"/>
<line x1="322.9" y1="212.5" x2="321.0" y2="213.5" stroke="#262626" stroke-width="0.8" opacity="0.55"/>
<line x1="334.0" y1="236.0" x2="331.2" y2="239.8" stroke="#262626" stroke-width="0.8" opacity="0.55"/>
<line x1="340.7" y1="240.3" x2="337.9" y2="243.3" stroke="#262626" stroke-width="0.8" opacity="0.55"/>
<line x1="344.7" y1="241.2" x2="343.4" y2="243.5" stroke="#262626" stroke-width="0.8" opacity="0.55"/>
<line x1="328.1" y1="218.5" x2="324.8" y2="221.0" stroke="#262626" stroke-width="0.8" opacity="0.55"/>
<line x1="332.4" y1="223.8" x2="330.3" y2="225.3" stroke="#262626" stroke-width="0.8" opacity="0.55"/>
<line x1="323.3" y1="209.4" x2="318.8" y2="211.3" stroke="#262626" stroke-width="0.8" opacity="0.55"/>
<line x1="325.5" y1="216.1" x2="321.1" y2="218.8" stroke="#262626" stroke-width="0.8" opacity="0.55"/>
<line x1="314.9" y1="177.4" x2="311.2" y2="177.2" stroke="#262626" stroke-width="0.8" opacity="0.55"/>
<line x1="341.0" y1="243.2" x2="338.4" y2="247.3" stroke="#262626" stroke-width="0.8" opacity="0.55"/>
<line x1="316.9" y1="180.5" x2="314.0" y2="179.8" stroke="#262626" stroke-width="0.8" opacity="0.55"/>
<line x1="319.8" y1="162.3" x2="317.9" y2="161.5" stroke="#262626" stroke-width="0.8" opacity="0.55"/>
<line x1="318.9" y1="202.2" x2="314.5" y2="203.2" stroke="#262626" stroke-width="0.8" opacity="0.55"/>
<line x1="333.6" y1="227.8" x2="331.4" y2="230.0" stroke="#262626" stroke-width="0.8" opacity="0.55"/>
<line x1="334.5" y1="134.8" x2="332.2" y2="131.3" stroke="#262626" stroke-width="0.8" opacity="0.55"/>
<line x1="326.5" y1="214.6" x2="324.2" y2="215.7" stroke="#262626" stroke-width="0.8" opacity="0.55"/>
<line x1="347.6" y1="246.6" x2="344.8" y2="250.7" stroke="#262626" stroke-width="0.8" opacity="0.55"/>
<line x1="338.8" y1="237.8" x2="336.4" y2="241.7" stroke="#262626" stroke-width="0.8" opacity="0.55"/>
<line x1="317.5" y1="187.1" x2="312.1" y2="187.1" stroke="#262626" stroke-width="0.8" opacity="0.55"/>
<line x1="333.9" y1="136.7" x2="330.5" y2="133.3" stroke="#262626" stroke-width="0.8" opacity="0.55"/>
<line x1="341.3" y1="131.9" x2="338.1" y2="128.1" stroke="#262626" stroke-width="0.8" opacity="0.55"/>
<line x1="316.8" y1="178.2" x2="314.3" y2="177.7" stroke="#262626" stroke-width="0.8" opacity="0.55"/>
<line x1="324.3" y1="209.0" x2="322.3" y2="210.0" stroke="#262626" stroke-width="0.8" opacity="0.55"/>
<line x1="316.5" y1="189.0" x2="313.2" y2="188.9" stroke="#262626" stroke-width="0.8" opacity="0.55"/>
<line x1="335.8" y1="236.1" x2="333.1" y2="238.4" stroke="#262626" stroke-width="0.8" opacity="0.55"/>
<line x1="329.8" y1="138.6" x2="328.3" y2="137.2" stroke="#262626" stroke-width="0.8" opacity="0.55"/>
<line x1="323.0" y1="155.5" x2="319.5" y2="153.6" stroke="#262626" stroke-width="0.8" opacity="0.55"/>
<line x1="346.0" y1="246.6" x2="344.0" y2="250.9" stroke="#262626" stroke-width="0.8" opacity="0.55"/>
<line x1="318.4" y1="168.1" x2="315.3" y2="167.1" stroke="#262626" stroke-width="0.8" opacity="0.55"/>
<line x1="325.1" y1="210.6" x2="322.0" y2="211.8" stroke="#262626" stroke-width="0.8" opacity="0.55"/>
<line x1="328.5" y1="215.0" x2="324.7" y2="217.5" stroke="#262626" stroke-width="0.8" opacity="0.55"/>
<line x1="343.6" y1="127.8" x2="341.1" y2="124.0" stroke="#262626" stroke-width="0.8" opacity="0.55"/>
<line x1="331.3" y1="140.6" x2="329.3" y2="139.1" stroke="#262626" stroke-width="0.8" opacity="0.55"/>
<line x1="318.8" y1="158.7" x2="316.4" y2="157.7" stroke="#262626" stroke-width="0.8" opacity="0.55"/>
<line x1="330.7" y1="138.0" x2="329.0" y2="136.5" stroke="#262626" stroke-width="0.8" opacity="0.55"/>
<line x1="333.7" y1="227.7" x2="331.5" y2="230.3" stroke="#262626" stroke-width="0.8" opacity="0.55"/>
<line x1="340.9" y1="130.3" x2="338.8" y2="127.1" stroke="#262626" stroke-width="0.8" opacity="0.55"/>
<line x1="325.3" y1="147.2" x2="322.5" y2="145.4" stroke="#262626" stroke-width="0.8" opacity="0.55"/>
<line x1="320.8" y1="196.1" x2="317.4" y2="196.5" stroke="#262626" stroke-width="0.8" opacity="0.55"/>
<line x1="348.0" y1="124.1" x2="346.2" y2="120.2" stroke="#262626" stroke-width="0.8" opacity="0.55"/>
<line x1="346.4" y1="243.4" x2="344.7" y2="246.1" stroke="#262626" stroke-width="0.8" opacity="0.55"/>
<line x1="335.8" y1="236.0" x2="333.1" y2="238.6" stroke="#262626" stroke-width="0.8" opacity="0.55"/>
<line x1="329.5" y1="139.2" x2="327.7" y2="137.3" stroke="#262626" stroke-width="0.8" opacity="0.55"/>
<line x1="338.4" y1="131.4" x2="336.4" y2="128.9" stroke="#262626" stroke-width="0.8" opacity="0.55"/>
<line x1="332.0" y1="232.4" x2="328.1" y2="236.1" stroke="#262626" stroke-width="0.8" opacity="0.55"/>
<line x1="321.1" y1="153.5" x2="318.9" y2="151.9" stroke="#262626" stroke-width="0.8" opacity="0.55"/>
<line x1="319.0" y1="166.6" x2="316.8" y2="166.1" stroke="#262626" stroke-width="0.8" opacity="0.55"/>
<line x1="316.2" y1="173.4" x2="313.2" y2="172.4" stroke="#262626" stroke-width="0.8" opacity="0.55"/>
<line x1="320.8" y1="203.1" x2="318.4" y2="203.5" stroke="#262626" stroke-width="0.8" opacity="0.55"/>
<line x1="331.5" y1="234.1" x2="328.7" y2="236.8" stroke="#262626" stroke-width="0.8" opacity="0.55"/>
<line x1="318.0" y1="176.0" x2="313.1" y2="174.5" stroke="#262626" stroke-width="0.8" opacity="0.55"/>
<line x1="329.0" y1="140.4" x2="327.4" y2="138.6" stroke="#262626" stroke-width="0.8" opacity="0.55"/>
<line x1="323.5" y1="212.8" x2="320.9" y2="213.9" stroke="#262626" stroke-width="0.8" opacity="0.55"/>
<line x1="331.4" y1="139.9" x2="328.3" y2="137.6" stroke="#262626" stroke-width="0.8" opacity="0.55"/>
<line x1="345.1" y1="241.8" x2="341.6" y2="246.0" stroke="#262626" stroke-width="0.8" opacity="0.55"/>
<line x1="319.5" y1="162.0" x2="315.6" y2="160.2" stroke="#262626" stroke-width="0.8" opacity="0.55"/>
<line x1="319.3" y1="200.6" x2="314.8" y2="202.3" stroke="#262626" stroke-width="0.8" opacity="0.55"/>
<line x1="331.0" y1="222.5" x2="329.0" y2="224.0" stroke="#262626" stroke-width="0.8" opacity="0.55"/>
<line x1="318.5" y1="174.8" x2="314.7" y2="174.4" stroke="#262626" stroke-width="0.8" opacity="0.55"/>
<line x1="317.8" y1="174.9" x2="313.5" y2="174.7" stroke="#262626" stroke-width="0.8" opacity="0.55"/>
<line x1="320.8" y1="160.6" x2="315.9" y2="158.4" stroke="#262626" stroke-width="0.8" opacity="0.55"/>
<line x1="317.8" y1="188.5" x2="313.6" y2="188.5" stroke="#262626" stroke-width="0.8" opacity="0.55"/>
<line x1="324.9" y1="148.4" x2="322.1" y2="145.9" stroke="#262626" stroke-width="0.8" opacity="0.55"/>
<line x1="330.0" y1="137.0" x2="327.6" y2="134.6" stroke="#262626" stroke-width="0.8" opacity="0.55"/>
<line x1="315.2" y1="174.7" x2="311.4" y2="174.0" stroke="#262626" stroke-width="0.8" opacity="0.55"/>
<line x1="316.3" y1="193.9" x2="313.2" y2="194.7" stroke="#262626" stroke-width="0.8" opacity="0.55"/>
<line x1="321.7" y1="152.1" x2="317.8" y2="149.7" stroke="#262626" stroke-width="0.8" opacity="0.55"/>
<line x1="326.1" y1="150.3" x2="322.4" y2="148.5" stroke="#262626" stroke-width="0.8" opacity="0.55"/>
<line x1="333.6" y1="234.4" x2="331.1" y2="237.2" stroke="#262626" stroke-width="0.8" opacity="0.55"/>
<line x1="341.3" y1="242.1" x2="339.4" y2="245.4" stroke="#262626" stroke-width="0.8" opacity="0.55"/>
<line x1="324.3" y1="209.8" x2="321.9" y2="211.2" stroke="#262626" stroke-width="0.8" opacity="0.55"/>
<line x1="338.3" y1="129.2" x2="336.1" y2="125.4" stroke="#262626" stroke-width="0.8" opacity="0.55"/>
<line x1="317.0" y1="195.4" x2="314.2" y2="195.6" stroke="#262626" stroke-width="0.8" opacity="0.55"/>
<line x1="315.2" y1="174.6" x2="313.0" y2="174.0" stroke="#262626" stroke-width="0.8" opacity="0.55"/>
<line x1="333.4" y1="234.7" x2="330.3" y2="239.1" stroke="#262626" stroke-width="0.8" opacity="0.55"/>
<line x1="329.1" y1="216.6" x2="326.6" y2="218.6" stroke="#262626" stroke-width="0.8" opacity="0.55"/>
<line x1="336.7" y1="131.2" x2="334.5" y2="128.7" stroke="#262626" stroke-width="0.8" opacity="0.55"/>
<line x1="319.2" y1="172.7" x2="317.2" y2="172.0" stroke="#262626" stroke-width="0.8" opacity="0.55"/>
<line x1="323.8" y1="209.8" x2="318.7" y2="211.1" stroke="#262626" stroke-width="0.8" opacity="0.55"/>
<line x1="318.7" y1="188.1" x2="315.7" y2="187.9" stroke="#262626" stroke-width="0.8" opacity="0.55"/>
<line x1="338.6" y1="133.3" x2="335.4" y2="129.5" stroke="#262626" stroke-width="0.8" opacity="0.55"/>
<line x1="318.9" y1="188.1" x2="313.8" y2="187.6" stroke="#262626" stroke-width="0.8" opacity="0.55"/>
<line x1="330.3" y1="222.6" x2="328.0" y2="223.9" stroke="#262626" stroke-width="0.8" opacity="0.55"/>
<line x1="343.1" y1="240.1" x2="340.7" y2="243.9" stroke="#262626" stroke-width="0.8" opacity="0.55"/>
<line x1="337.2" y1="130.5" x2="334.1" y2="127.3" stroke="#262626" stroke-width="0.8" opacity="0.55"/>
<line x1="319.1" y1="155.8" x2="315.7" y2="154.6" stroke="#262626" stroke-width="0.8" opacity="0.55"/>
<line x1="330.4" y1="219.0" x2="326.9" y2="221.8" stroke="#262626" stroke-width="0.8" opacity="0.55"/>
<line x1="332.7" y1="224.3" x2="329.1" y2="226.8" stroke="#262626" stroke-width="0.8" opacity="0.55"/>
<line x1="319.4" y1="201.9" x2="314.4" y2="203.1" stroke="#262626" stroke-width="0.8" opacity="0.55"/>
<line x1="330.2" y1="218.3" x2="325.6" y2="220.9" stroke="#262626" stroke-width="0.8" opacity="0.55"/>
<line x1="325.3" y1="213.7" x2="323.1" y2="214.4" stroke="#262626" stroke-width="0.8" opacity="0.55"/>
<line x1="317.8" y1="192.6" x2="314.0" y2="193.5" stroke="#262626" stroke-width="0.8" opacity="0.55"/>
<line x1="318.3" y1="170.4" x2="315.5" y2="169.5" stroke="#262626" stroke-width="0.8" opacity="0.55"/>
<line x1="338.2" y1="237.5" x2="335.6" y2="241.3" stroke="#262626" stroke-width="0.8" opacity="0.55"/>
<line x1="325.5" y1="213.2" x2="323.0" y2="214.1" stroke="#262626" stroke-width="0.8" opacity="0.55"/>
<line x1="350.4" y1="126.7" x2="349.0" y2="123.4" stroke="#262626" stroke-width="0.8" opacity="0.55"/>
<line x1="317.7" y1="200.5" x2="314.2" y2="201.7" stroke="#262626" stroke-width="0.8" opacity="0.55"/>
<line x1="316.3" y1="176.4" x2="313.1" y2="175.7" stroke="#262626" stroke-width="0.8" opacity="0.55"/>
<line x1="327.8" y1="146.0" x2="325.0" y2="143.5" stroke="#262626" stroke-width="0.8" opacity="0.55"/>
<line x1="319.9" y1="158.1" x2="314.9" y2="156.3" stroke="#262626" stroke-width="0.8" opacity="0.55"/>
<line x1="328.8" y1="147.4" x2="325.3" y2="145.1" stroke="#262626" stroke-width="0.8" opacity="0.55"/>
<line x1="316.7" y1="192.7" x2="311.9" y2="192.8" stroke="#262626" stroke-width="0.8" opacity="0.55"/>
<line x1="329.0" y1="217.9" x2="326.6" y2="219.4" stroke="#262626" stroke-width="0.8" opacity="0.55"/>
<line x1="319.3" y1="184.5" x2="315.2" y2="184.2" stroke="#262626" stroke-width="0.8" opacity="0.55"/>
<line x1="315.4" y1="173.8" x2="312.8" y2="173.5" stroke="#262626" stroke-width="0.8" opacity="0.55"/>
<line x1="346.1" y1="244.1" x2="344.4" y2="247.1" stroke="#262626" stroke-width="0.8" opacity="0.55"/>
<line x1="325.7" y1="215.6" x2="323.6" y2="216.5" stroke="#262626" stroke-width="0.8" opacity="0.55"/>
<line x1="316.8" y1="174.6" x2="312.1" y2="174.1" stroke="#262626" stroke-width="0.8" opacity="0.55"/>
<line x1="333.2" y1="230.3" x2="331.8" y2="231.8" stroke="#262626" stroke-width="0.8" opacity="0.55"/>
<line x1="317.5" y1="167.0" x2="314.7" y2="166.1" stroke="#262626" stroke-width="0.8" opacity="0.55"/>
<line x1="336.5" y1="239.2" x2="335.0" y2="241.3" stroke="#262626" stroke-width="0.8" opacity="0.55"/>
<line x1="331.7" y1="229.0" x2="327.8" y2="232.0" stroke="#262626" stroke-width="0.8" opacity="0.55"/>
<line x1="340.9" y1="240.2" x2="339.2" y2="243.0" stroke="#262626" stroke-width="0.8" opacity="0.55"/>
<line x1="348.1" y1="127.8" x2="346.6" y2="124.5" stroke="#262626" stroke-width="0.8" opacity="0.55"/>
<line x1="349.9" y1="126.4" x2="348.5" y2="123.1" stroke="#262626" stroke-width="0.8" opacity="0.55"/>
<line x1="344.0" y1="241.4" x2="341.7" y2="246.0" stroke="#262626" stroke-width="0.8" opacity="0.55"/>
<line x1="320.2" y1="198.8" x2="316.9" y2="200.0" stroke="#262626" stroke-width="0.8" opacity="0.55"/>
<line x1="342.8" y1="244.7" x2="340.1" y2="248.5" stroke="#262626" stroke-width="0.8" opacity="0.55"/>
<line x1="330.3" y1="218.0" x2="327.2" y2="220.4" stroke="#262626" stroke-width="0.8" opacity="0.55"/>
<line x1="315.6" y1="189.8" x2="312.3" y2="190.1" stroke="#262626" stroke-width="0.8" opacity="0.55"/>
<line x1="348.3" y1="124.8" x2="347.3" y2="123.0" stroke="#262626" stroke-width="0.8" opacity="0.55"/>
<line x1="320.2" y1="163.6" x2="317.3" y2="162.3" stroke="#262626" stroke-width="0.8" opacity="0.55"/>
<line x1="333.8" y1="135.1" x2="330.3" y2="131.3" stroke="#262626" stroke-width="0.8" opacity="0.55"/>
<line x1="317.8" y1="199.3" x2="314.5" y2="199.8" stroke="#262626" stroke-width="0.8" opacity="0.55"/>
<line x1="330.6" y1="220.1" x2="328.4" y2="221.6" stroke="#262626" stroke-width="0.8" opacity="0.55"/>
<line x1="333.2" y1="226.9" x2="331.2" y2="228.7" stroke="#262626" stroke-width="0.8" opacity="0.55"/>
<line x1="324.0" y1="209.6" x2="318.8" y2="211.4" stroke="#262626" stroke-width="0.8" opacity="0.55"/>
<line x1="334.8" y1="136.5" x2="332.2" y2="134.3" stroke="#262626" stroke-width="0.8" opacity="0.55"/>
<line x1="321.1" y1="157.5" x2="318.3" y2="156.6" stroke="#262626" stroke-width="0.8" opacity="0.55"/>
<line x1="332.6" y1="224.2" x2="329.7" y2="226.0" stroke="#262626" stroke-width="0.8" opacity="0.55"/>
<line x1="323.3" y1="154.8" x2="320.3" y2="153.5" stroke="#262626" stroke-width="0.8" opacity="0.55"/>
<line x1="343.1" y1="129.2" x2="340.7" y2="125.1" stroke="#262626" stroke-width="0.8" opacity="0.55"/>
<line x1="340.3" y1="133.0" x2="338.4" y2="130.5" stroke="#262626" stroke-width="0.8" opacity="0.55"/>
<line x1="337.0" y1="239.9" x2="334.9" y2="242.2" stroke="#262626" stroke-width="0.8" opacity="0.55"/>
<line x1="319.0" y1="181.8" x2="315.6" y2="181.8" stroke="#262626" stroke-width="0.8" opacity="0.55"/>
<line x1="344.0" y1="241.0" x2="342.3" y2="244.7" stroke="#262626" stroke-width="0.8" opacity="0.55"/>
<line x1="323.8" y1="209.1" x2="320.4" y2="210.9" stroke="#262626" stroke-width="0.8" opacity="0.55"/>
<line x1="322.6" y1="155.8" x2="318.7" y2="153.5" stroke="#262626" stroke-width="0.8" opacity="0.55"/>
<line x1="333.6" y1="229.8" x2="331.3" y2="231.7" stroke="#262626" stroke-width="0.8" opacity="0.55"/>
<line x1="319.4" y1="197.3" x2="314.5" y2="198.6" stroke="#262626" stroke-width="0.8" opacity="0.55"/>
<line x1="325.5" y1="211.3" x2="323.2" y2="212.8" stroke="#262626" stroke-width="0.8" opacity="0.55"/>
<line x1="344.9" y1="244.1" x2="342.6" y2="247.3" stroke="#262626" stroke-width="0.8" opacity="0.55"/>
<line x1="348.2" y1="126.5" x2="346.6" y2="122.4" stroke="#262626" stroke-width="0.8" opacity="0.55"/>
<line x1="329.3" y1="220.9" x2="325.5" y2="222.9" stroke="#262626" stroke-width="0.8" opacity="0.55"/>
<line x1="335.3" y1="135.8" x2="332.1" y2="133.0" stroke="#262626" stroke-width="0.8" opacity="0.55"/>
<line x1="318.7" y1="194.3" x2="316.5" y2="194.6" stroke="#262626" stroke-width="0.8" opacity="0.55"/>
<line x1="322.5" y1="207.3" x2="319.8" y2="208.6" stroke="#262626" stroke-width="0.8" opacity="0.55"/>
<line x1="319.1" y1="197.7" x2="316.5" y2="198.1" stroke="#262626" stroke-width="0.8" opacity="0.55"/>
<line x1="330.2" y1="216.6" x2="327.5" y2="218.3" stroke="#262626" stroke-width="0.8" opacity="0.55"/>
<line x1="332.3" y1="230.2" x2="329.0" y2="233.2" stroke="#262626" stroke-width="0.8" opacity="0.55"/>
<line x1="323.1" y1="157.1" x2="320.0" y2="155.7" stroke="#262626" stroke-width="0.8" opacity="0.55"/>
<line x1="340.7" y1="240.1" x2="339.4" y2="241.8" stroke="#262626" stroke-width="0.8" opacity="0.55"/>
<line x1="317.3" y1="172.2" x2="314.2" y2="171.8" stroke="#262626" stroke-width="0.8" opacity="0.55"/>
<line x1="345.7" y1="243.1" x2="343.0" y2="247.4" stroke="#262626" stroke-width="0.8" opacity="0.55"/>
<line x1="326.3" y1="215.5" x2="324.0" y2="216.8" stroke="#262626" stroke-width="0.8" opacity="0.55"/>
<line x1="315.6" y1="167.4" x2="312.4" y2="166.4" stroke="#262626" stroke-width="0.8" opacity="0.55"/>
<line x1="342.8" y1="127.2" x2="340.7" y2="123.6" stroke="#262626" stroke-width="0.8" opacity="0.55"/>
<line x1="319.0" y1="196.5" x2="316.1" y2="196.8" stroke="#262626" stroke-width="0.8" opacity="0.55"/>
<line x1="336.1" y1="134.2" x2="332.3" y2="130.7" stroke="#262626" stroke-width="0.8" opacity="0.55"/>
<line x1="332.8" y1="232.8" x2="330.7" y2="235.1" stroke="#262626" stroke-width="0.8" opacity="0.55"/>
<line x1="348.7" y1="127.0" x2="347.3" y2="124.7" stroke="#262626" stroke-width="0.8" opacity="0.55"/>
<line x1="320.9" y1="159.2" x2="319.1" y2="158.4" stroke="#262626" stroke-width="0.8" opacity="0.55"/>
<line x1="320.4" y1="198.6" x2="316.7" y2="199.3" stroke="#262626" stroke-width="0.8" opacity="0.55"/>
<line x1="316.4" y1="177.5" x2="312.5" y2="176.6" stroke="#262626" stroke-width="0.8" opacity="0.55"/>
<line x1="347.3" y1="126.8" x2="346.0" y2="123.9" stroke="#262626" stroke-width="0.8" opacity="0.55"/>
<line x1="322.5" y1="209.5" x2="318.3" y2="210.9" stroke="#262626" stroke-width="0.8" opacity="0.55"/>
<line x1="345.5" y1="125.3" x2="344.3" y2="123.0" stroke="#262626" stroke-width="0.8" opacity="0.55"/>
<line x1="317.0" y1="185.7" x2="313.7" y2="185.8" stroke="#262626" stroke-width="0.8" opacity="0.55"/>
<line x1="325.0" y1="150.1" x2="322.5" y2="148.7" stroke="#262626" stroke-width="0.8" opacity="0.55"/>
<line x1="324.0" y1="207.2" x2="320.6" y2="208.9" stroke="#262626" stroke-width="0.8" opacity="0.55"/>
<line x1="341.6" y1="238.8" x2="340.1" y2="240.6" stroke="#262626" stroke-width="0.8" opacity="0.55"/>
<line x1="334.9" y1="235.6" x2="331.7" y2="239.1" stroke="#262626" stroke-width="0.8" opacity="0.55"/>
<line x1="331.0" y1="229.1" x2="327.7" y2="232.9" stroke="#262626" stroke-width="0.8" opacity="0.55"/>
<line x1="327.5" y1="216.0" x2="323.4" y2="218.5" stroke="#262626" stroke-width="0.8" opacity="0.55"/>
<line x1="323.4" y1="154.7" x2="319.4" y2="152.7" stroke="#262626" stroke-width="0.8" opacity="0.55"/>
<line x1="321.0" y1="207.0" x2="316.2" y2="208.2" stroke="#262626" stroke-width="0.8" opacity="0.55"/>
<line x1="317.4" y1="174.9" x2="313.0" y2="173.9" stroke="#262626" stroke-width="0.8" opacity="0.55"/>
<line x1="329.4" y1="138.0" x2="327.6" y2="136.3" stroke="#262626" stroke-width="0.8" opacity="0.55"/>
<line x1="320.4" y1="160.7" x2="317.8" y2="160.0" stroke="#262626" stroke-width="0.8" opacity="0.55"/>
<line x1="315.3" y1="171.8" x2="309.9" y2="171.2" stroke="#262626" stroke-width="0.8" opacity="0.55"/>
<line x1="320.6" y1="157.9" x2="316.7" y2="156.2" stroke="#262626" stroke-width="0.8" opacity="0.55"/>
<line x1="341.1" y1="127.1" x2="340.0" y2="125.2" stroke="#262626" stroke-width="0.8" opacity="0.55"/>
<line x1="335.5" y1="233.7" x2="333.3" y2="235.7" stroke="#262626" stroke-width="0.8" opacity="0.55"/>
<line x1="351.0" y1="126.0" x2="349.2" y2="123.3" stroke="#262626" stroke-width="0.8" opacity="0.55"/>
<line x1="317.0" y1="178.4" x2="313.7" y2="178.1" stroke="#262626" stroke-width="0.8" opacity="0.55"/>
<line x1="327.7" y1="142.6" x2="325.3" y2="140.8" stroke="#262626" stroke-width="0.8" opacity="0.55"/>
<line x1="316.4" y1="167.2" x2="311.2" y2="165.8" stroke="#262626" stroke-width="0.8" opacity="0.55"/>
<line x1="320.5" y1="156.8" x2="316.0" y2="155.1" stroke="#262626" stroke-width="0.8" opacity="0.55"/>
<line x1="333.3" y1="224.9" x2="329.5" y2="228.5" stroke="#262626" stroke-width="0.8" opacity="0.55"/>
<line x1="319.0" y1="186.0" x2="315.9" y2="186.4" stroke="#262626" stroke-width="0.8" opacity="0.55"/>
<line x1="318.6" y1="175.3" x2="314.4" y2="174.9" stroke="#262626" stroke-width="0.8" opacity="0.55"/>
<line x1="329.5" y1="218.9" x2="326.9" y2="220.9" stroke="#262626" stroke-width="0.8" opacity="0.55"/>
</g>
<g clip-path="url(#c5)">
<rect x="371.2" y="143.3" width="92.8" height="87.4" fill="url(#g5)"/>
<rect x="412" y="219" width="52" height="5" rx="2.5" fill="#c6c6c6" filter="url(#bl1)"/>
<path d="M480.44,198.54 C479.9,198.62 478.29,198.89 477.21,199.03 C476.13,199.17 475.04,199.29 473.96,199.38 C472.87,199.47 471.78,199.54 470.69,199.58 C469.6,199.62 468.52,199.51 467.42,199.63 C466.33,199.74 465.23,200.02 464.11,200.28 C463,200.53 461.86,200.88 460.71,201.17 C459.55,201.45 458.38,201.75 457.2,202 C456.01,202.24 454.81,202.44 453.59,202.66 C452.37,202.89 451.12,203.15 449.86,203.33 C448.6,203.52 447.33,203.66 446.05,203.79 C444.76,203.91 443.47,203.99 442.15,204.07 C440.83,204.15 439.48,204.24 438.13,204.27 C436.78,204.3 435.38,204.39 434.04,204.27 C432.71,204.14 431.43,203.85 430.15,203.54 C428.86,203.24 427.61,202.84 426.35,202.44 C425.08,202.04 423.8,201.63 422.57,201.14 C421.34,200.65 420.13,200.08 418.94,199.48 C417.76,198.87 416.61,198.2 415.47,197.51 C414.33,196.82 413.2,196.11 412.11,195.33 C411.03,194.56 409.95,193.75 408.95,192.88 C407.94,192 407.01,191.04 406.08,190.09 C405.15,189.13 404.24,188.15 403.36,187.15 C402.48,186.15 401.64,185.12 400.79,184.09 C399.95,183.06 399.1,182.03 398.28,180.98 C397.46,179.93 396.65,178.87 395.86,177.79 C395.07,176.72 394.34,175.61 393.55,174.52 C392.77,173.43 391.94,172.37 391.16,171.27 C390.38,170.17 389.62,169.05 388.88,167.91 C388.14,166.78 387.42,165.62 386.72,164.45 C386.03,163.28 385.38,162.07 384.71,160.87 C384.05,159.67 383.37,158.46 382.73,157.23 C382.09,156 381.47,154.75 380.89,153.49 C380.31,152.22 379.73,150.93 379.23,149.63 C378.72,148.32 378.34,146.98 377.84,145.65 C377.34,144.32 377.78,142.9 376.21,141.66 C374.64,140.41 369.87,139.53 368.43,138.19 C367,136.86 367.77,135.95 367.62,133.67 C367.46,131.38 367.54,125.26 367.52,124.49 C367.49,123.73 367.47,128.32 367.46,129.08 L362,140 L470,140 L470,198.5 Z" fill="#2c2c2c" filter="url(#bl1)"/>
<path d="M386,140 C386.33,140.67 386.17,141.67 388,144 C389.83,146.33 393.67,150.33 397,154 C400.33,157.67 404.5,162.17 408,166 C411.5,169.83 414.67,174 418,177 C421.33,180 424.33,182.17 428,184 C431.67,185.83 436,187.17 440,188 C444,188.83 448,189.17 452,189 C456,188.83 461.67,187.33 464,187 C466.33,186.67 465.67,187 466,187 L466,140 Z" fill="#1c1c1c" filter="url(#bl2)"/>
<path d="M441.7,189.0 L435.5,215.8 L444.0,189.6 Z" fill="#2a2a2a" opacity="0.85"/>
<path d="M401.7,182.7 L396.2,190.1 L403.3,184.2 Z" fill="#242424" opacity="0.85"/>
<path d="M469.7,191.3 L473.3,209.2 L471.5,191.0 Z" fill="#1e1e1e" opacity="0.85"/>
<path d="M409.4,176.7 L393.2,196.9 L411.6,178.6 Z" fill="#2a2a2a" opacity="0.85"/>
<path d="M425.6,192.3 L415.4,210.2 L427.8,193.7 Z" fill="#1e1e1e" opacity="0.85"/>
<path d="M406.1,179.6 L394.4,190.2 L407.0,180.8 Z" fill="#1e1e1e" opacity="0.85"/>
<path d="M404.6,173.4 L388.5,184.7 L405.7,175.3 Z" fill="#333" opacity="0.85"/>
<path d="M436.5,189.9 L425.7,209.6 L437.9,190.7 Z" fill="#2a2a2a" opacity="0.85"/>
<path d="M407.9,188.6 L399.5,201.1 L410.4,190.7 Z" fill="#1e1e1e" opacity="0.85"/>
<path d="M419.6,179.7 L400.6,197.5 L421.0,181.3 Z" fill="#1e1e1e" opacity="0.85"/>
<path d="M390.3,156.4 L374.0,165.0 L391.3,158.8 Z" fill="#333" opacity="0.85"/>
<path d="M408.8,177.2 L389.8,191.0 L410.0,179.0 Z" fill="#1e1e1e" opacity="0.85"/>
<path d="M473.1,194.9 L474.0,207.5 L476.0,195.0 Z" fill="#2a2a2a" opacity="0.85"/>
<path d="M389.7,165.1 L381.2,169.1 L390.4,167.1 Z" fill="#1e1e1e" opacity="0.85"/>
<path d="M420.8,182.0 L404.4,200.3 L422.3,183.5 Z" fill="#333" opacity="0.85"/>
<path d="M470.4,191.4 L471.1,206.8 L473.3,191.5 Z" fill="#2a2a2a" opacity="0.85"/>
<path d="M389.0,167.5 L380.0,173.5 L389.8,169.1 Z" fill="#1e1e1e" opacity="0.85"/>
<path d="M459.6,189.3 L458.8,206.8 L462.0,189.5 Z" fill="#2a2a2a" opacity="0.85"/>
<path d="M447.2,189.2 L439.9,212.6 L449.1,189.8 Z" fill="#242424" opacity="0.85"/>
<path d="M397.9,165.7 L381.3,174.6 L398.6,167.0 Z" fill="#333" opacity="0.85"/>
<path d="M430.3,191.0 L420.3,211.3 L431.8,191.9 Z" fill="#242424" opacity="0.85"/>
<path d="M427.7,184.0 L414.9,210.5 L429.9,185.2 Z" fill="#1e1e1e" opacity="0.85"/>
<path d="M372.9,129.3 L364.8,131.2 L373.1,131.4 Z" fill="#2a2a2a" opacity="0.85"/>
<path d="M373.0,128.1 L361.2,130.6 L373.2,130.3 Z" fill="#333" opacity="0.85"/>
<path d="M420.8,184.3 L407.3,200.8 L422.8,186.1 Z" fill="#333" opacity="0.85"/>
<path d="M390.4,146.3 L377.3,149.1 L390.7,148.7 Z" fill="#242424" opacity="0.85"/>
<path d="M391.4,168.8 L381.0,176.7 L392.7,170.9 Z" fill="#1e1e1e" opacity="0.85"/>
<path d="M400.9,162.4 L384.2,175.1 L402.5,164.7 Z" fill="#2a2a2a" opacity="0.85"/>
<path d="M401.3,172.8 L384.9,183.5 L402.2,174.3 Z" fill="#242424" opacity="0.85"/>
<path d="M383.5,150.0 L376.2,153.0 L384.0,152.0 Z" fill="#1e1e1e" opacity="0.85"/>
<path d="M370.5,121.8 L361.2,123.4 L370.6,124.3 Z" fill="#2a2a2a" opacity="0.85"/>
<path d="M417.6,197.1 L407.4,209.7 L419.2,198.5 Z" fill="#242424" opacity="0.85"/>
<path d="M467.7,191.9 L469.6,205.0 L470.9,191.8 Z" fill="#1e1e1e" opacity="0.85"/>
<path d="M416.5,189.9 L406.8,207.8 L418.7,191.3 Z" fill="#333" opacity="0.85"/>
<path d="M386.0,154.9 L376.1,160.8 L387.2,157.4 Z" fill="#2a2a2a" opacity="0.85"/>
<path d="M470.1,198.8 L472.0,208.4 L472.8,198.7 Z" fill="#1e1e1e" opacity="0.85"/>
<path d="M399.7,158.4 L383.7,169.7 L401.2,161.0 Z" fill="#242424" opacity="0.85"/>
<path d="M403.9,175.6 L389.4,184.9 L404.8,177.0 Z" fill="#242424" opacity="0.85"/>
<path d="M478.3,196.1 L482.9,207.1 L480.9,195.3 Z" fill="#242424" opacity="0.85"/>
<path d="M420.2,197.2 L413.1,211.7 L421.8,198.1 Z" fill="#2a2a2a" opacity="0.85"/>
<path d="M412.4,189.5 L404.2,200.8 L414.5,191.4 Z" fill="#1e1e1e" opacity="0.85"/>
<path d="M377.4,135.3 L361.7,137.9 L377.6,138.3 Z" fill="#333" opacity="0.85"/>
<path d="M380.8,149.1 L376.9,151.7 L381.6,151.2 Z" fill="#333" opacity="0.85"/>
<path d="M388.9,155.4 L374.2,163.3 L389.6,156.9 Z" fill="#1e1e1e" opacity="0.85"/>
<path d="M412.6,177.8 L396.1,194.6 L414.5,179.9 Z" fill="#1e1e1e" opacity="0.85"/>
<path d="M387.1,139.1 L373.8,143.7 L387.5,140.6 Z" fill="#333" opacity="0.85"/>
<path d="M405.9,183.1 L393.3,196.7 L407.7,184.9 Z" fill="#242424" opacity="0.85"/>
<path d="M398.3,164.2 L382.3,174.8 L399.8,166.9 Z" fill="#2a2a2a" opacity="0.85"/>
<path d="M369.1,134.2 L363.8,135.7 L369.3,136.3 Z" fill="#333" opacity="0.85"/>
<path d="M427.9,183.3 L416.4,207.6 L430.2,184.5 Z" fill="#1e1e1e" opacity="0.85"/>
<path d="M383.0,137.5 L362.1,139.9 L383.1,139.1 Z" fill="#242424" opacity="0.85"/>
<path d="M378.5,126.0 L356.8,127.5 L378.5,128.3 Z" fill="#242424" opacity="0.85"/>
<path d="M461.4,192.1 L461.5,208.7 L463.1,192.1 Z" fill="#2a2a2a" opacity="0.85"/>
<path d="M469.1,190.4 L471.2,205.0 L471.8,190.3 Z" fill="#333" opacity="0.85"/>
<path d="M436.7,197.2 L433.4,214.3 L439.8,198.0 Z" fill="#242424" opacity="0.85"/>
<path d="M380.0,125.1 L363.1,128.4 L380.3,127.9 Z" fill="#2a2a2a" opacity="0.85"/>
<path d="M387.2,158.8 L374.2,164.9 L388.2,161.7 Z" fill="#333" opacity="0.85"/>
<path d="M462.5,199.1 L462.1,208.6 L464.0,199.3 Z" fill="#1e1e1e" opacity="0.85"/>
<path d="M393.0,150.5 L371.8,159.4 L393.5,151.9 Z" fill="#1e1e1e" opacity="0.85"/>
<path d="M393.8,149.2 L372.5,160.3 L395.0,151.9 Z" fill="#333" opacity="0.85"/>
<path d="M480.1,198.4 L481.8,204.5 L482.6,198.2 Z" fill="#1e1e1e" opacity="0.85"/>
<path d="M417.2,179.9 L404.0,197.6 L418.3,180.8 Z" fill="#242424" opacity="0.85"/>
<path d="M372.7,132.2 L360.8,135.0 L373.0,134.4 Z" fill="#242424" opacity="0.85"/>
<path d="M445.6,200.4 L443.6,217.1 L447.0,200.7 Z" fill="#242424" opacity="0.85"/>
<path d="M418.1,180.6 L401.1,199.3 L419.9,182.4 Z" fill="#333" opacity="0.85"/>
<path d="M406.0,186.9 L395.3,199.8 L407.3,188.1 Z" fill="#242424" opacity="0.85"/>
<path d="M433.9,200.8 L428.0,215.1 L435.8,201.7 Z" fill="#2a2a2a" opacity="0.85"/>
<path d="M369.9,122.9 L365.3,124.1 L369.7,125.9 Z" fill="#333" opacity="0.85"/>
<path d="M461.3,186.5 L457.7,211.3 L463.8,187.0 Z" fill="#2a2a2a" opacity="0.85"/>
<path d="M403.5,178.2 L395.7,186.9 L404.8,179.6 Z" fill="#1e1e1e" opacity="0.85"/>
<path d="M445.7,202.9 L442.7,216.2 L447.5,203.4 Z" fill="#2a2a2a" opacity="0.85"/>
<path d="M455.0,189.5 L454.4,209.5 L456.9,189.7 Z" fill="#242424" opacity="0.85"/>
<path d="M448.9,199.5 L446.8,207.9 L450.5,200.1 Z" fill="#1e1e1e" opacity="0.85"/>
<path d="M431.1,189.4 L422.4,213.7 L434.0,190.6 Z" fill="#242424" opacity="0.85"/>
<path d="M397.8,171.2 L383.1,182.3 L398.9,172.9 Z" fill="#333" opacity="0.85"/>
<path d="M462.0,196.3 L464.2,209.3 L464.9,196.1 Z" fill="#333" opacity="0.85"/>
<path d="M389.2,162.2 L382.0,166.6 L390.1,164.3 Z" fill="#1e1e1e" opacity="0.85"/>
<path d="M384.9,148.0 L369.9,152.4 L385.5,150.6 Z" fill="#242424" opacity="0.85"/>
<path d="M470.0,185.5 L469.3,207.6 L472.0,185.6 Z" fill="#333" opacity="0.85"/>
<path d="M408.3,181.7 L394.8,194.5 L409.8,183.5 Z" fill="#1e1e1e" opacity="0.85"/>
<path d="M426.8,182.4 L404.9,207.3 L428.0,183.5 Z" fill="#1e1e1e" opacity="0.85"/>
<path d="M393.6,158.5 L374.9,165.3 L394.2,160.3 Z" fill="#242424" opacity="0.85"/>
<path d="M451.9,197.2 L448.4,210.4 L453.4,197.6 Z" fill="#2a2a2a" opacity="0.85"/>
<path d="M389.6,156.8 L376.1,164.7 L390.3,158.2 Z" fill="#2a2a2a" opacity="0.85"/>
<path d="M398.5,171.7 L386.4,182.9 L399.9,173.4 Z" fill="#333" opacity="0.85"/>
<path d="M446.3,198.0 L441.8,213.7 L448.1,198.7 Z" fill="#2a2a2a" opacity="0.85"/>
<path d="M421.1,188.2 L409.4,201.8 L422.4,189.4 Z" fill="#1e1e1e" opacity="0.85"/>
<path d="M381.6,130.6 L361.3,131.3 L381.4,133.7 Z" fill="#333" opacity="0.85"/>
<path d="M376.4,121.9 L357.5,119.2 L376.2,123.4 Z" fill="#1e1e1e" opacity="0.85"/>
<path d="M463.1,193.1 L465.5,211.7 L466.0,192.9 Z" fill="#2a2a2a" opacity="0.85"/>
<path d="M378.4,139.4 L371.3,140.8 L378.4,141.7 Z" fill="#1e1e1e" opacity="0.85"/>
<path d="M460.5,200.0 L461.3,210.1 L463.2,200.2 Z" fill="#333" opacity="0.85"/>
<path d="M437.6,191.6 L431.3,217.7 L440.2,192.4 Z" fill="#333" opacity="0.85"/>
<path d="M466.2,198.4 L465.9,208.4 L468.1,198.7 Z" fill="#2a2a2a" opacity="0.85"/>
<path d="M472.1,190.8 L477.5,209.2 L475.1,190.2 Z" fill="#2a2a2a" opacity="0.85"/>
<path d="M386.5,143.2 L376.5,146.0 L386.9,145.7 Z" fill="#242424" opacity="0.85"/>
<path d="M450.7,191.3 L448.2,212.2 L452.7,191.6 Z" fill="#333" opacity="0.85"/>
<path d="M377.9,139.5 L369.0,141.3 L378.0,142.6 Z" fill="#242424" opacity="0.85"/>
<path d="M402.2,158.2 L378.4,171.6 L403.4,160.6 Z" fill="#2a2a2a" opacity="0.85"/>
<path d="M412.6,193.5 L406.3,204.8 L414.4,194.8 Z" fill="#2a2a2a" opacity="0.85"/>
<path d="M441.3,199.3 L437.5,217.4 L443.8,200.0 Z" fill="#2a2a2a" opacity="0.85"/>
<path d="M416.4,190.1 L407.7,201.0 L417.5,191.1 Z" fill="#333" opacity="0.85"/>
<path d="M411.6,180.3 L397.3,193.5 L413.0,182.0 Z" fill="#242424" opacity="0.85"/>
<path d="M451.7,189.7 L448.4,212.3 L453.7,190.1 Z" fill="#242424" opacity="0.85"/>
<path d="M377.5,139.5 L369.6,141.9 L377.9,141.8 Z" fill="#333" opacity="0.85"/>
<path d="M445.6,199.4 L442.5,212.2 L447.5,200.0 Z" fill="#242424" opacity="0.85"/>
<path d="M469.6,198.1 L470.7,205.4 L471.8,198.1 Z" fill="#2a2a2a" opacity="0.85"/>
<path d="M379.4,145.5 L377.0,147.8 L380.3,148.1 Z" fill="#333" opacity="0.85"/>
<path d="M374.9,125.4 L364.8,125.7 L374.5,128.5 Z" fill="#333" opacity="0.85"/>
<path d="M378.0,125.2 L364.4,127.4 L378.2,127.5 Z" fill="#1e1e1e" opacity="0.85"/>
<path d="M371.5,130.6 L359.6,131.3 L371.4,132.8 Z" fill="#1e1e1e" opacity="0.85"/>
<path d="M478.8,186.1 L486.8,204.8 L481.4,185.2 Z" fill="#242424" opacity="0.85"/>
<path d="M403.6,173.1 L388.5,183.2 L404.4,174.5 Z" fill="#2a2a2a" opacity="0.85"/>
<path d="M412.3,184.7 L402.0,199.3 L414.2,186.3 Z" fill="#1e1e1e" opacity="0.85"/>
<path d="M405.0,189.0 L400.4,196.2 L407.2,191.0 Z" fill="#242424" opacity="0.85"/>
<path d="M422.4,183.4 L406.3,200.9 L424.3,185.3 Z" fill="#2a2a2a" opacity="0.85"/>
<path d="M473.6,187.6 L475.9,209.6 L475.2,187.5 Z" fill="#242424" opacity="0.85"/>
<path d="M393.4,172.1 L387.5,178.2 L394.7,173.7 Z" fill="#333" opacity="0.85"/>
<path d="M434.4,192.3 L428.7,209.4 L437.1,193.4 Z" fill="#1e1e1e" opacity="0.85"/>
<path d="M454.4,201.7 L453.6,208.4 L456.2,202.1 Z" fill="#242424" opacity="0.85"/>
<path d="M445.5,201.5 L444.5,208.7 L447.9,202.3 Z" fill="#242424" opacity="0.85"/>
<path d="M412.5,193.2 L408.1,200.6 L414.8,195.2 Z" fill="#1e1e1e" opacity="0.85"/>
<path d="M453.4,202.1 L453.8,207.4 L454.9,202.2 Z" fill="#333" opacity="0.85"/>
<path d="M420.0,193.5 L413.5,206.7 L421.4,194.3 Z" fill="#242424" opacity="0.85"/>
<path d="M441.2,189.5 L428.5,216.3 L442.5,190.2 Z" fill="#333" opacity="0.85"/>
<path d="M378.8,147.9 L373.8,150.5 L379.3,149.4 Z" fill="#1e1e1e" opacity="0.85"/>
<path d="M431.8,202.8 L428.3,209.9 L433.2,203.7 Z" fill="#2a2a2a" opacity="0.85"/>
<path d="M393.9,154.3 L374.9,165.5 L395.1,156.7 Z" fill="#242424" opacity="0.85"/>
<path d="M428.2,201.1 L425.6,210.2 L431.0,202.4 Z" fill="#1e1e1e" opacity="0.85"/>
<path d="M407.2,169.4 L387.7,185.1 L408.5,171.0 Z" fill="#333" opacity="0.85"/>
<path d="M473.1,198.2 L474.7,204.0 L476.1,198.1 Z" fill="#2a2a2a" opacity="0.85"/>
<path d="M434.9,191.3 L427.1,217.9 L437.5,192.2 Z" fill="#2a2a2a" opacity="0.85"/>
<path d="M377.6,132.9 L359.1,135.2 L377.7,135.8 Z" fill="#1e1e1e" opacity="0.85"/>
<path d="M476.3,187.7 L478.6,205.5 L479.5,187.6 Z" fill="#333" opacity="0.85"/>
<path d="M383.1,154.9 L372.9,160.7 L384.0,157.0 Z" fill="#1e1e1e" opacity="0.85"/>
<path d="M384.8,152.0 L371.5,156.3 L385.3,154.5 Z" fill="#2a2a2a" opacity="0.85"/>
<path d="M383.9,142.7 L370.1,146.1 L384.3,145.0 Z" fill="#333" opacity="0.85"/>
<path d="M396.2,156.0 L382.2,165.4 L397.4,158.1 Z" fill="#2a2a2a" opacity="0.85"/>
<path d="M461.1,192.0 L462.8,205.0 L463.6,191.9 Z" fill="#242424" opacity="0.85"/>
<path d="M469.1,192.3 L470.7,208.4 L470.9,192.2 Z" fill="#333" opacity="0.85"/>
<path d="M416.0,195.1 L410.8,204.2 L418.2,196.8 Z" fill="#1e1e1e" opacity="0.85"/>
<path d="M393.3,153.3 L378.0,160.8 L394.0,155.0 Z" fill="#2a2a2a" opacity="0.85"/>
<path d="M456.5,190.1 L456.9,208.0 L459.5,190.3 Z" fill="#242424" opacity="0.85"/>
<path d="M439.9,193.3 L430.7,217.5 L441.5,194.0 Z" fill="#1e1e1e" opacity="0.85"/>
<path d="M393.6,174.2 L389.1,178.8 L395.2,176.6 Z" fill="#333" opacity="0.85"/>
<path d="M381.2,134.8 L363.4,139.3 L381.6,136.5 Z" fill="#242424" opacity="0.85"/>
<path d="M376.5,132.5 L357.8,134.8 L376.6,134.4 Z" fill="#1e1e1e" opacity="0.85"/>
<path d="M467.9,193.8 L470.2,207.5 L469.9,193.6 Z" fill="#242424" opacity="0.85"/>
<path d="M475.6,199.1 L477.3,202.0 L478.6,198.9 Z" fill="#1e1e1e" opacity="0.85"/>
<path d="M388.0,148.9 L374.8,152.8 L388.4,150.4 Z" fill="#1e1e1e" opacity="0.85"/>
<path d="M388.0,152.4 L379.0,157.6 L388.8,154.4 Z" fill="#242424" opacity="0.85"/>
<path d="M409.1,166.8 L389.3,180.0 L410.2,168.6 Z" fill="#2a2a2a" opacity="0.85"/>
<path d="M401.3,166.7 L387.6,175.4 L402.7,169.3 Z" fill="#333" opacity="0.85"/>
<path d="M422.8,198.2 L414.7,214.1 L424.4,199.1 Z" fill="#333" opacity="0.85"/>
<path d="M456.7,186.3 L454.1,213.8 L459.5,186.7 Z" fill="#333" opacity="0.85"/>
<path d="M410.4,176.7 L394.0,195.1 L411.5,177.7 Z" fill="#242424" opacity="0.85"/>
<path d="M396.2,175.3 L390.3,180.3 L397.3,177.1 Z" fill="#242424" opacity="0.85"/>
<path d="M463.5,189.2 L461.0,207.7 L465.1,189.5 Z" fill="#333" opacity="0.85"/>
<path d="M387.7,159.1 L375.3,166.5 L389.0,161.7 Z" fill="#1e1e1e" opacity="0.85"/>
<path d="M375.0,124.7 L365.0,124.3 L374.7,126.7 Z" fill="#242424" opacity="0.85"/>
<path d="M397.2,174.9 L386.3,182.9 L398.1,176.4 Z" fill="#333" opacity="0.85"/>
<path d="M459.0,189.2 L457.5,208.5 L461.1,189.5 Z" fill="#1e1e1e" opacity="0.85"/>
<path d="M461.7,200.1 L463.4,210.8 L464.7,200.0 Z" fill="#1e1e1e" opacity="0.85"/>
<path d="M402.7,165.8 L385.7,178.2 L404.3,168.3 Z" fill="#2a2a2a" opacity="0.85"/>
<path d="M404.9,168.1 L388.8,180.6 L406.1,169.8 Z" fill="#333" opacity="0.85"/>
<path d="M459.9,185.8 L457.8,213.7 L462.0,186.0 Z" fill="#333" opacity="0.85"/>
<path d="M381.1,147.5 L374.3,151.1 L381.8,149.5 Z" fill="#2a2a2a" opacity="0.85"/>
<path d="M469.3,191.6 L473.1,206.4 L471.8,191.2 Z" fill="#1e1e1e" opacity="0.85"/>
<path d="M377.2,133.4 L359.4,138.2 L377.7,136.1 Z" fill="#333" opacity="0.85"/>
<path d="M396.9,172.4 L390.4,179.4 L398.5,174.3 Z" fill="#1e1e1e" opacity="0.85"/>
<path d="M455.5,201.4 L454.7,209.6 L458.4,202.2 Z" fill="#242424" opacity="0.85"/>
<path d="M394.9,167.5 L384.8,173.4 L396.0,169.8 Z" fill="#2a2a2a" opacity="0.85"/>
<path d="M461.2,199.1 L460.7,206.3 L462.8,199.4 Z" fill="#333" opacity="0.85"/>
<path d="M456.1,190.6 L454.4,210.5 L457.6,190.8 Z" fill="#242424" opacity="0.85"/>
<path d="M426.9,194.9 L420.4,209.5 L428.8,195.9 Z" fill="#2a2a2a" opacity="0.85"/>
<path d="M466.3,192.8 L468.3,207.7 L469.3,192.7 Z" fill="#1e1e1e" opacity="0.85"/>
<path d="M449.2,195.6 L443.9,214.6 L451.1,196.2 Z" fill="#333" opacity="0.85"/>
<path d="M373.7,122.0 L362.3,121.6 L373.4,124.2 Z" fill="#242424" opacity="0.85"/>
<path d="M397.9,179.2 L391.5,185.2 L399.1,180.7 Z" fill="#2a2a2a" opacity="0.85"/>
<path d="M390.2,161.8 L381.6,167.7 L391.3,164.0 Z" fill="#333" opacity="0.85"/>
<path d="M409.3,190.5 L404.6,198.7 L411.3,192.1 Z" fill="#1e1e1e" opacity="0.85"/>
<path d="M473.9,193.0 L476.3,204.3 L476.3,192.8 Z" fill="#333" opacity="0.85"/>
<path d="M406.4,178.5 L395.2,188.7 L407.8,180.2 Z" fill="#242424" opacity="0.85"/>
<path d="M479.8,195.7 L482.8,207.0 L481.3,195.4 Z" fill="#242424" opacity="0.85"/>
<path d="M379.8,142.3 L373.6,144.5 L380.1,143.7 Z" fill="#2a2a2a" opacity="0.85"/>
<path d="M405.5,177.1 L391.5,189.7 L406.9,178.9 Z" fill="#242424" opacity="0.85"/>
<path d="M383.2,136.3 L361.3,140.2 L383.4,138.2 Z" fill="#1e1e1e" opacity="0.85"/>
<path d="M380.8,135.3 L360.2,137.2 L380.8,137.1 Z" fill="#333" opacity="0.85"/>
<path d="M455.6,195.7 L454.2,210.0 L458.5,196.3 Z" fill="#242424" opacity="0.85"/>
<path d="M421.1,178.2 L398.6,199.0 L422.9,180.3 Z" fill="#333" opacity="0.85"/>
<path d="M403.4,158.5 L376.9,170.5 L404.3,160.5 Z" fill="#333" opacity="0.85"/>
<path d="M458.7,201.3 L458.6,207.0 L460.3,201.5 Z" fill="#2a2a2a" opacity="0.85"/>
<path d="M399.5,160.7 L380.6,172.1 L400.8,163.2 Z" fill="#2a2a2a" opacity="0.85"/>
<path d="M440.6,202.6 L438.6,216.7 L442.8,203.2 Z" fill="#242424" opacity="0.85"/>
<path d="M449.1,190.5 L441.1,213.2 L451.7,191.5 Z" fill="#2a2a2a" opacity="0.85"/>
<path d="M457.1,192.1 L456.5,210.8 L460.0,192.5 Z" fill="#333" opacity="0.85"/>
<path d="M418.7,188.5 L412.1,202.7 L421.4,190.1 Z" fill="#242424" opacity="0.85"/>
<path d="M412.0,176.6 L396.4,190.5 L413.0,177.8 Z" fill="#242424" opacity="0.85"/>
<path d="M463.7,185.2 L461.3,203.9 L465.7,185.6 Z" fill="#242424" opacity="0.85"/>
<path d="M404.6,160.5 L384.2,171.0 L405.2,161.8 Z" fill="#1e1e1e" opacity="0.85"/>
<path d="M400.4,156.4 L378.5,168.7 L401.6,159.0 Z" fill="#1e1e1e" opacity="0.85"/>
<path d="M379.6,140.7 L370.6,143.3 L380.0,142.5 Z" fill="#242424" opacity="0.85"/>
<path d="M466.9,185.4 L466.1,209.6 L469.4,185.6 Z" fill="#2a2a2a" opacity="0.85"/>
<path d="M423.7,182.0 L404.3,205.8 L425.2,183.2 Z" fill="#2a2a2a" opacity="0.85"/>
<path d="M430.6,183.2 L417.9,208.5 L433.0,184.6 Z" fill="#2a2a2a" opacity="0.85"/>
<path d="M371.4,136.3 L360.4,138.4 L371.6,138.3 Z" fill="#1e1e1e" opacity="0.85"/>
<path d="M396.1,150.7 L376.0,161.2 L397.0,152.7 Z" fill="#1e1e1e" opacity="0.85"/>
<path d="M415.8,178.2 L398.8,201.8 L418.0,179.9 Z" fill="#242424" opacity="0.85"/>
<path d="M424.1,191.2 L413.3,206.1 L425.3,192.2 Z" fill="#2a2a2a" opacity="0.85"/>
<path d="M417.4,186.5 L404.8,206.5 L419.2,187.8 Z" fill="#2a2a2a" opacity="0.85"/>
<path d="M374.2,127.5 L360.2,130.4 L374.5,130.3 Z" fill="#242424" opacity="0.85"/>
<path d="M421.3,179.9 L405.7,205.5 L423.6,181.5 Z" fill="#1e1e1e" opacity="0.85"/>
<path d="M405.6,170.6 L389.8,184.4 L407.4,173.0 Z" fill="#1e1e1e" opacity="0.85"/>
<path d="M424.2,194.1 L416.9,209.1 L426.1,195.1 Z" fill="#242424" opacity="0.85"/>
<path d="M427.9,200.3 L424.1,210.1 L430.0,201.4 Z" fill="#1e1e1e" opacity="0.85"/>
<path d="M437.1,191.4 L427.8,209.8 L439.3,192.7 Z" fill="#2a2a2a" opacity="0.85"/>
<path d="M460.4,192.4 L458.9,211.3 L462.1,192.6 Z" fill="#333" opacity="0.85"/>
<path d="M399.1,172.6 L387.7,183.1 L400.8,174.8 Z" fill="#242424" opacity="0.85"/>
<path d="M387.7,164.9 L377.9,170.3 L388.5,166.8 Z" fill="#242424" opacity="0.85"/>
<path d="M441.3,189.6 L428.7,216.6 L442.7,190.3 Z" fill="#1e1e1e" opacity="0.85"/>
<path d="M457.7,188.5 L456.9,206.9 L459.7,188.7 Z" fill="#2a2a2a" opacity="0.85"/>
<path d="M456.4,196.3 L456.7,206.5 L458.5,196.4 Z" fill="#1e1e1e" opacity="0.85"/>
<path d="M479.3,196.7 L483.1,204.5 L482.4,195.9 Z" fill="#2a2a2a" opacity="0.85"/>
<path d="M424.7,182.9 L409.1,207.1 L427.0,184.5 Z" fill="#333" opacity="0.85"/>
<path d="M395.6,164.5 L379.8,172.3 L396.6,166.9 Z" fill="#242424" opacity="0.85"/>
<path d="M396.6,167.7 L384.4,177.1 L398.0,169.8 Z" fill="#1e1e1e" opacity="0.85"/>
<path d="M382.3,137.9 L366.0,139.8 L382.4,139.6 Z" fill="#333" opacity="0.85"/>
<path d="M424.3,179.6 L403.9,206.4 L426.3,181.3 Z" fill="#242424" opacity="0.85"/>
<path d="M381.1,137.4 L369.6,139.3 L381.2,140.5 Z" fill="#1e1e1e" opacity="0.85"/>
<path d="M475.4,192.4 L477.6,202.8 L478.5,192.2 Z" fill="#2a2a2a" opacity="0.85"/>
<path d="M468.3,193.4 L469.0,206.9 L470.6,193.4 Z" fill="#2a2a2a" opacity="0.85"/>
<path d="M414.9,182.4 L399.5,203.8 L417.0,184.1 Z" fill="#333" opacity="0.85"/>
<path d="M408.8,190.8 L399.9,201.7 L410.6,192.6 Z" fill="#2a2a2a" opacity="0.85"/>
<path d="M446.7,193.5 L443.7,208.3 L448.8,194.1 Z" fill="#2a2a2a" opacity="0.85"/>
<path d="M413.4,172.6 L395.6,190.7 L415.5,174.9 Z" fill="#242424" opacity="0.85"/>
<path d="M368.1,120.6 L361.4,122.3 L368.2,123.6 Z" fill="#1e1e1e" opacity="0.85"/>
<path d="M385.7,151.0 L374.4,154.9 L386.1,152.7 Z" fill="#242424" opacity="0.85"/>
<path d="M434.0,196.9 L424.6,215.1 L435.9,198.1 Z" fill="#2a2a2a" opacity="0.85"/>
<path d="M389.5,157.3 L374.8,164.8 L390.5,159.9 Z" fill="#242424" opacity="0.85"/>
<path d="M448.0,193.1 L444.3,210.2 L449.7,193.6 Z" fill="#1e1e1e" opacity="0.85"/>
<path d="M383.7,152.1 L375.5,155.2 L384.2,154.1 Z" fill="#333" opacity="0.85"/>
<path d="M423.1,193.3 L414.3,210.7 L425.7,194.9 Z" fill="#333" opacity="0.85"/>
<path d="M474.3,196.8 L475.5,209.8 L476.0,196.7 Z" fill="#2a2a2a" opacity="0.85"/>
<path d="M410.7,166.4 L390.2,178.6 L411.9,168.7 Z" fill="#2a2a2a" opacity="0.85"/>
<path d="M404.2,175.6 L389.4,190.7 L405.7,177.3 Z" fill="#242424" opacity="0.85"/>
<path d="M455.1,192.6 L452.7,210.5 L457.7,193.2 Z" fill="#1e1e1e" opacity="0.85"/>
<path d="M394.0,171.7 L381.8,178.5 L394.8,173.2 Z" fill="#242424" opacity="0.85"/>
<path d="M409.6,186.2 L398.8,196.7 L411.1,188.1 Z" fill="#2a2a2a" opacity="0.85"/>
<path d="M422.7,197.3 L416.0,209.5 L424.6,198.5 Z" fill="#242424" opacity="0.85"/>
<path d="M400.9,161.8 L384.2,171.5 L402.1,164.2 Z" fill="#242424" opacity="0.85"/>
<path d="M385.2,145.4 L372.4,149.2 L385.8,148.3 Z" fill="#2a2a2a" opacity="0.85"/>
<path d="M419.8,199.9 L415.0,211.2 L421.7,200.9 Z" fill="#1e1e1e" opacity="0.85"/>
<path d="M476.4,184.9 L478.6,207.8 L479.3,184.8 Z" fill="#1e1e1e" opacity="0.85"/>
<path d="M415.0,184.6 L402.2,205.6 L417.2,186.1 Z" fill="#242424" opacity="0.85"/>
<path d="M434.2,201.3 L430.6,212.5 L436.4,202.3 Z" fill="#242424" opacity="0.85"/>
<path d="M445.8,192.6 L443.3,211.1 L447.7,193.0 Z" fill="#2a2a2a" opacity="0.85"/>
<path d="M387.1,147.4 L373.7,152.9 L387.8,149.6 Z" fill="#242424" opacity="0.85"/>
<path d="M396.8,172.4 L387.6,180.2 L398.0,174.0 Z" fill="#1e1e1e" opacity="0.85"/>
<path d="M396.7,151.1 L372.8,157.7 L397.2,153.4 Z" fill="#1e1e1e" opacity="0.85"/>
<path d="M433.0,185.8 L419.8,206.4 L434.8,187.1 Z" fill="#1e1e1e" opacity="0.85"/>
<path d="M383.3,154.8 L374.2,158.8 L384.0,157.2 Z" fill="#1e1e1e" opacity="0.85"/>
<path d="M454.4,197.0 L451.8,209.9 L455.9,197.4 Z" fill="#242424" opacity="0.85"/>
<path d="M384.1,141.9 L376.1,143.0 L384.2,143.3 Z" fill="#242424" opacity="0.85"/>
<path d="M388.6,153.6 L377.6,159.2 L389.4,155.6 Z" fill="#2a2a2a" opacity="0.85"/>
<path d="M478.0,192.4 L479.9,206.2 L480.3,192.3 Z" fill="#1e1e1e" opacity="0.85"/>
<path d="M382.6,149.1 L374.2,151.9 L383.0,151.2 Z" fill="#1e1e1e" opacity="0.85"/>
<path d="M477.8,189.7 L480.4,206.3 L481.0,189.5 Z" fill="#333" opacity="0.85"/>
<path d="M390.2,155.3 L379.9,160.8 L391.3,158.1 Z" fill="#1e1e1e" opacity="0.85"/>
<path d="M430.4,182.6 L410.4,207.8 L432.7,184.5 Z" fill="#242424" opacity="0.85"/>
<path d="M387.4,141.0 L376.8,143.1 L387.6,142.9 Z" fill="#242424" opacity="0.85"/>
<path d="M376.7,133.8 L358.9,135.0 L376.7,135.5 Z" fill="#1e1e1e" opacity="0.85"/>
<path d="M442.9,196.0 L437.9,212.5 L445.7,197.1 Z" fill="#1e1e1e" opacity="0.85"/>
<path d="M403.1,158.0 L383.9,168.0 L404.2,160.7 Z" fill="#1e1e1e" opacity="0.85"/>
<path d="M431.9,189.5 L418.1,210.7 L434.2,191.3 Z" fill="#1e1e1e" opacity="0.85"/>
<path d="M437.5,203.1 L433.7,215.3 L439.1,203.7 Z" fill="#1e1e1e" opacity="0.85"/>
<path d="M432.5,196.8 L425.5,214.1 L434.4,197.7 Z" fill="#333" opacity="0.85"/>
<path d="M370.5,130.4 L360.3,132.1 L370.6,131.9 Z" fill="#2a2a2a" opacity="0.85"/>
<path d="M380.3,141.7 L377.0,144.1 L381.0,144.5 Z" fill="#333" opacity="0.85"/>
<path d="M378.2,124.3 L361.9,125.8 L378.2,127.0 Z" fill="#242424" opacity="0.85"/>
<path d="M390.6,149.7 L378.9,155.1 L391.4,151.7 Z" fill="#1e1e1e" opacity="0.85"/>
<path d="M446.6,189.0 L434.8,214.6 L448.1,189.8 Z" fill="#333" opacity="0.85"/>
<path d="M439.7,187.3 L426.2,213.0 L441.2,188.2 Z" fill="#242424" opacity="0.85"/>
<path d="M443.9,187.2 L434.6,211.7 L446.7,188.5 Z" fill="#1e1e1e" opacity="0.85"/>
<path d="M389.7,152.1 L378.3,156.2 L390.3,154.8 Z" fill="#242424" opacity="0.85"/>
<path d="M429.0,193.1 L419.3,208.3 L430.6,194.2 Z" fill="#242424" opacity="0.85"/>
<path d="M458.3,188.9 L455.9,206.7 L460.4,189.3 Z" fill="#2a2a2a" opacity="0.85"/>
<path d="M427.8,192.8 L422.4,209.1 L430.7,194.0 Z" fill="#2a2a2a" opacity="0.85"/>
<path d="M384.6,142.0 L373.3,146.4 L385.2,143.8 Z" fill="#1e1e1e" opacity="0.85"/>
<path d="M435.6,195.1 L432.5,210.4 L438.6,196.1 Z" fill="#333" opacity="0.85"/>
<path d="M411.8,173.8 L391.4,194.2 L412.9,175.0 Z" fill="#333" opacity="0.85"/>
<path d="M386.5,158.0 L373.1,164.9 L387.2,159.3 Z" fill="#242424" opacity="0.85"/>
<path d="M376.4,121.5 L365.3,123.3 L376.5,123.5 Z" fill="#333" opacity="0.85"/>
<path d="M413.3,192.1 L401.9,205.2 L415.1,193.9 Z" fill="#1e1e1e" opacity="0.85"/>
<path d="M403.0,160.4 L383.6,173.2 L403.8,161.7 Z" fill="#333" opacity="0.85"/>
<path d="M457.4,199.3 L458.3,208.3 L460.1,199.4 Z" fill="#242424" opacity="0.85"/>
<path d="M474.8,188.2 L476.8,204.6 L477.9,188.2 Z" fill="#1e1e1e" opacity="0.85"/>
<path d="M448.4,195.2 L443.1,213.7 L450.5,196.0 Z" fill="#1e1e1e" opacity="0.85"/>
<path d="M463.0,196.5 L462.4,211.6 L464.9,196.7 Z" fill="#333" opacity="0.85"/>
<path d="M398.2,154.9 L379.3,164.8 L398.9,156.3 Z" fill="#333" opacity="0.85"/>
<path d="M431.8,192.2 L419.1,213.1 L434.3,193.9 Z" fill="#333" opacity="0.85"/>
<path d="M400.5,159.9 L383.3,166.8 L401.1,161.6 Z" fill="#2a2a2a" opacity="0.85"/>
<path d="M384.8,137.9 L368.9,143.5 L385.5,140.8 Z" fill="#1e1e1e" opacity="0.85"/>
<path d="M404.4,171.8 L388.9,182.1 L405.6,173.7 Z" fill="#2a2a2a" opacity="0.85"/>
<path d="M463.5,188.3 L462.9,203.6 L465.9,188.5 Z" fill="#242424" opacity="0.85"/>
<path d="M427.9,185.0 L414.9,208.6 L429.2,185.7 Z" fill="#2a2a2a" opacity="0.85"/>
<path d="M439.9,188.9 L432.1,214.0 L442.7,190.0 Z" fill="#1e1e1e" opacity="0.85"/>
<path d="M461.6,192.9 L460.6,209.2 L464.7,193.3 Z" fill="#333" opacity="0.85"/>
<path d="M390.4,145.5 L370.5,148.6 L390.6,147.6 Z" fill="#2a2a2a" opacity="0.85"/>
<path d="M368.7,119.9 L364.7,121.4 L368.7,122.9 Z" fill="#1e1e1e" opacity="0.85"/>
<path d="M379.3,148.6 L376.4,150.3 L379.8,150.8 Z" fill="#2a2a2a" opacity="0.85"/>
<path d="M416.0,184.0 L398.2,200.7 L417.3,185.5 Z" fill="#2a2a2a" opacity="0.85"/>
<path d="M419.7,197.8 L414.7,206.3 L421.1,198.7 Z" fill="#242424" opacity="0.85"/>
<path d="M417.4,179.6 L402.2,196.9 L419.4,181.7 Z" fill="#333" opacity="0.85"/>
<path d="M396.8,154.4 L379.7,161.5 L397.6,156.8 Z" fill="#242424" opacity="0.85"/>
<path d="M412.2,173.8 L395.7,187.3 L413.5,175.5 Z" fill="#1e1e1e" opacity="0.85"/>
<path d="M416.0,181.5 L401.8,197.9 L418.2,183.7 Z" fill="#1e1e1e" opacity="0.85"/>
<path d="M479.7,197.2 L481.3,205.1 L481.6,197.1 Z" fill="#242424" opacity="0.85"/>
<path d="M402.6,185.8 L398.6,190.7 L404.2,187.7 Z" fill="#1e1e1e" opacity="0.85"/>
<path d="M431.0,202.3 L426.8,217.7 L433.0,203.0 Z" fill="#242424" opacity="0.85"/>
<path d="M381.9,150.7 L375.4,153.2 L382.4,152.7 Z" fill="#1e1e1e" opacity="0.85"/>
<path d="M446.5,188.6 L438.7,214.9 L447.9,189.0 Z" fill="#242424" opacity="0.85"/>
<path d="M479.4,198.3 L481.4,202.8 L480.9,197.9 Z" fill="#2a2a2a" opacity="0.85"/>
<path d="M403.9,186.2 L399.3,191.3 L405.5,188.4 Z" fill="#2a2a2a" opacity="0.85"/>
<path d="M478.3,193.0 L481.8,206.0 L480.9,192.5 Z" fill="#1e1e1e" opacity="0.85"/>
<path d="M438.8,187.4 L430.5,211.5 L440.9,188.2 Z" fill="#2a2a2a" opacity="0.85"/>
<path d="M467.4,186.8 L468.2,210.0 L469.2,186.8 Z" fill="#242424" opacity="0.85"/>
<path d="M462.4,193.9 L464.4,210.1 L465.3,193.8 Z" fill="#333" opacity="0.85"/>
<path d="M395.7,165.4 L382.7,176.7 L397.6,167.9 Z" fill="#1e1e1e" opacity="0.85"/>
<path d="M392.9,153.7 L378.4,160.8 L393.7,155.7 Z" fill="#2a2a2a" opacity="0.85"/>
<path d="M382.1,150.4 L377.9,153.2 L382.9,153.4 Z" fill="#2a2a2a" opacity="0.85"/>
<path d="M449.9,193.7 L446.9,213.1 L452.2,194.2 Z" fill="#1e1e1e" opacity="0.85"/>
<path d="M441.4,189.8 L434.2,215.6 L443.4,190.5 Z" fill="#333" opacity="0.85"/>
<path d="M383.9,156.5 L374.6,160.5 L384.7,159.4 Z" fill="#1e1e1e" opacity="0.85"/>
<path d="M476.7,193.8 L478.6,203.7 L478.6,193.6 Z" fill="#1e1e1e" opacity="0.85"/>
<path d="M407.8,170.1 L389.5,185.9 L409.6,172.6 Z" fill="#2a2a2a" opacity="0.85"/>
<path d="M466.5,190.3 L469.7,203.4 L469.6,189.9 Z" fill="#2a2a2a" opacity="0.85"/>
<path d="M470.3,193.6 L472.7,210.3 L472.6,193.5 Z" fill="#2a2a2a" opacity="0.85"/>
<path d="M373.8,134.8 L363.2,136.4 L373.8,137.5 Z" fill="#2a2a2a" opacity="0.85"/>
<path d="M383.6,146.6 L372.3,149.6 L383.9,148.3 Z" fill="#2a2a2a" opacity="0.85"/>
<path d="M420.4,189.8 L409.0,207.1 L422.0,191.0 Z" fill="#242424" opacity="0.85"/>
<path d="M440.4,189.3 L427.8,212.4 L442.2,190.4 Z" fill="#2a2a2a" opacity="0.85"/>
<path d="M460.5,200.2 L461.1,207.0 L462.4,200.3 Z" fill="#242424" opacity="0.85"/>
<path d="M441.2,199.9 L440.5,210.3 L444.1,200.5 Z" fill="#333" opacity="0.85"/>
<path d="M400.7,168.9 L383.6,182.3 L402.2,171.2 Z" fill="#242424" opacity="0.85"/>
<path d="M372.2,121.9 L357.1,122.8 L372.1,124.5 Z" fill="#242424" opacity="0.85"/>
<path d="M397.6,168.0 L380.5,177.3 L398.6,170.1 Z" fill="#333" opacity="0.85"/>
<path d="M446.4,197.3 L441.8,213.1 L448.4,198.0 Z" fill="#1e1e1e" opacity="0.85"/>
<path d="M480.1,195.1 L483.9,205.7 L483.2,194.5 Z" fill="#242424" opacity="0.85"/>
<path d="M423.4,196.6 L414.0,212.4 L425.1,197.8 Z" fill="#333" opacity="0.85"/>
<path d="M401.0,163.2 L384.1,174.7 L402.2,165.2 Z" fill="#333" opacity="0.85"/>
<path d="M409.8,165.0 L382.7,179.0 L410.7,166.9 Z" fill="#2a2a2a" opacity="0.85"/>
<path d="M458.5,190.6 L457.3,206.3 L460.9,190.9 Z" fill="#1e1e1e" opacity="0.85"/>
<path d="M388.8,148.1 L369.5,153.6 L389.2,149.9 Z" fill="#2a2a2a" opacity="0.85"/>
<path d="M456.2,193.2 L456.2,214.1 L457.6,193.2 Z" fill="#333" opacity="0.85"/>
<path d="M442.5,195.8 L437.5,211.2 L444.5,196.6 Z" fill="#333" opacity="0.85"/>
<path d="M431.2,190.5 L421.6,212.8 L433.9,191.9 Z" fill="#1e1e1e" opacity="0.85"/>
<path d="M418.9,177.6 L401.5,198.7 L420.7,179.3 Z" fill="#242424" opacity="0.85"/>
<path d="M377.2,140.7 L372.5,142.8 L377.6,143.2 Z" fill="#2a2a2a" opacity="0.85"/>
<path d="M394.0,167.3 L386.0,173.3 L395.1,169.1 Z" fill="#1e1e1e" opacity="0.85"/>
<path d="M386.0,147.8 L376.8,150.4 L386.4,150.4 Z" fill="#333" opacity="0.85"/>
<path d="M402.7,172.1 L387.1,187.0 L404.6,174.4 Z" fill="#333" opacity="0.85"/>
<path d="M457.7,195.7 L458.0,210.4 L460.9,196.0 Z" fill="#1e1e1e" opacity="0.85"/>
<path d="M405.6,160.8 L385.9,171.4 L406.6,163.0 Z" fill="#2a2a2a" opacity="0.85"/>
<path d="M433.3,186.0 L424.8,208.8 L434.9,186.7 Z" fill="#2a2a2a" opacity="0.85"/>
<path d="M378.4,142.4 L372.7,144.9 L378.9,144.1 Z" fill="#1e1e1e" opacity="0.85"/>
<path d="M463.4,193.0 L465.2,207.9 L464.9,192.9 Z" fill="#333" opacity="0.85"/>
<path d="M384.8,149.2 L371.6,155.2 L385.3,150.5 Z" fill="#2a2a2a" opacity="0.85"/>
<path d="M463.3,188.8 L465.8,205.7 L465.8,188.6 Z" fill="#1e1e1e" opacity="0.85"/>
<path d="M435.7,193.8 L430.9,213.5 L438.6,194.7 Z" fill="#1e1e1e" opacity="0.85"/>
<path d="M421.7,192.4 L415.8,207.3 L424.5,193.8 Z" fill="#242424" opacity="0.85"/>
<path d="M437.7,202.1 L434.3,216.2 L440.0,202.9 Z" fill="#333" opacity="0.85"/>
<path d="M380.8,124.0 L359.4,123.5 L380.6,126.4 Z" fill="#333" opacity="0.85"/>
<path d="M439.1,201.7 L434.8,212.7 L440.7,202.5 Z" fill="#242424" opacity="0.85"/>
<path d="M460.3,191.3 L458.6,204.3 L462.3,191.8 Z" fill="#2a2a2a" opacity="0.85"/>
<path d="M467.0,192.8 L468.1,205.5 L468.6,192.8 Z" fill="#1e1e1e" opacity="0.85"/>
<path d="M421.3,198.6 L415.6,210.2 L423.2,199.7 Z" fill="#2a2a2a" opacity="0.85"/>
<path d="M453.3,187.3 L449.3,213.0 L454.9,187.6 Z" fill="#242424" opacity="0.85"/>
<path d="M469.2,189.1 L473.2,209.3 L471.4,188.8 Z" fill="#242424" opacity="0.85"/>
<path d="M461.1,190.7 L461.6,210.5 L464.2,190.9 Z" fill="#242424" opacity="0.85"/>
<path d="M443.0,194.6 L437.3,209.8 L445.4,195.7 Z" fill="#2a2a2a" opacity="0.85"/>
<path d="M407.5,175.4 L388.6,191.6 L408.8,177.0 Z" fill="#242424" opacity="0.85"/>
<path d="M465.0,196.1 L467.6,208.1 L467.9,195.8 Z" fill="#333" opacity="0.85"/>
<path d="M477.2,195.1 L480.8,202.2 L479.8,194.3 Z" fill="#242424" opacity="0.85"/>
<path d="M394.8,153.5 L378.1,158.2 L395.1,154.9 Z" fill="#2a2a2a" opacity="0.85"/>
<path d="M384.4,152.2 L377.0,154.7 L384.7,153.7 Z" fill="#2a2a2a" opacity="0.85"/>
<path d="M464.9,195.5 L466.4,204.5 L467.9,195.5 Z" fill="#242424" opacity="0.85"/>
<path d="M379.3,130.9 L362.1,131.6 L379.2,133.5 Z" fill="#333" opacity="0.85"/>
<path d="M477.8,194.4 L479.2,205.3 L480.0,194.4 Z" fill="#1e1e1e" opacity="0.85"/>
<path d="M459.1,187.5 L455.5,212.8 L461.7,188.0 Z" fill="#1e1e1e" opacity="0.85"/>
<path d="M427.3,194.4 L417.7,209.5 L428.7,195.4 Z" fill="#1e1e1e" opacity="0.85"/>
<path d="M409.0,182.6 L393.8,197.7 L410.2,184.0 Z" fill="#333" opacity="0.85"/>
<path d="M399.5,160.3 L380.5,169.5 L400.3,162.2 Z" fill="#1e1e1e" opacity="0.85"/>
<path d="M466.7,196.0 L466.9,207.9 L469.6,196.3 Z" fill="#1e1e1e" opacity="0.85"/>
<path d="M372.0,124.5 L365.0,126.1 L372.0,127.3 Z" fill="#2a2a2a" opacity="0.85"/>
<path d="M399.0,155.2 L376.5,166.8 L400.1,157.7 Z" fill="#242424" opacity="0.85"/>
<path d="M447.1,188.1 L440.2,216.5 L450.0,189.0 Z" fill="#333" opacity="0.85"/>
<path d="M412.7,187.4 L403.6,198.7 L414.8,189.5 Z" fill="#242424" opacity="0.85"/>
<path d="M421.5,181.7 L400.4,204.5 L423.2,183.5 Z" fill="#242424" opacity="0.85"/>
<path d="M404.8,187.9 L396.7,196.9 L406.1,189.2 Z" fill="#1e1e1e" opacity="0.85"/>
<path d="M460.8,190.9 L459.6,205.1 L462.4,191.1 Z" fill="#333" opacity="0.85"/>
<path d="M404.0,165.1 L386.4,176.8 L405.2,167.0 Z" fill="#2a2a2a" opacity="0.85"/>
<path d="M403.1,161.5 L380.1,174.0 L403.9,163.1 Z" fill="#1e1e1e" opacity="0.85"/>
<path d="M407.4,184.6 L399.2,193.4 L409.0,186.4 Z" fill="#333" opacity="0.85"/>
<path d="M386.3,146.2 L375.5,148.8 L386.5,147.6 Z" fill="#333" opacity="0.85"/>
<path d="M456.3,187.3 L455.8,208.6 L459.0,187.5 Z" fill="#333" opacity="0.85"/>
<path d="M379.4,126.9 L361.3,127.5 L379.3,128.9 Z" fill="#1e1e1e" opacity="0.85"/>
<path d="M474.6,191.5 L478.4,210.2 L477.3,191.2 Z" fill="#2a2a2a" opacity="0.85"/>
<path d="M373.7,123.8 L364.4,124.6 L373.7,126.0 Z" fill="#242424" opacity="0.85"/>
<path d="M392.4,152.9 L377.4,161.1 L393.2,154.6 Z" fill="#2a2a2a" opacity="0.85"/>
<path d="M408.1,165.3 L386.6,185.0 L409.4,166.9 Z" fill="#242424" opacity="0.85"/>
<path d="M444.7,189.5 L435.4,213.2 L447.5,190.8 Z" fill="#242424" opacity="0.85"/>
<path d="M468.3,195.5 L469.3,204.8 L470.4,195.5 Z" fill="#2a2a2a" opacity="0.85"/>
<path d="M440.4,192.7 L434.2,214.1 L443.1,193.7 Z" fill="#242424" opacity="0.85"/>
<path d="M472.4,186.3 L473.7,208.9 L475.6,186.3 Z" fill="#333" opacity="0.85"/>
<path d="M369.3,137.6 L361.5,139.3 L369.5,139.3 Z" fill="#2a2a2a" opacity="0.85"/>
<path d="M404.2,177.0 L394.6,186.9 L405.3,178.3 Z" fill="#333" opacity="0.85"/>
<path d="M469.2,185.7 L473.1,205.8 L471.8,185.4 Z" fill="#1e1e1e" opacity="0.85"/>
<path d="M477.0,193.3 L480.2,208.6 L478.7,193.1 Z" fill="#1e1e1e" opacity="0.85"/>
<path d="M400.5,168.7 L386.3,179.7 L401.7,170.5 Z" fill="#242424" opacity="0.85"/>
<path d="M381.2,136.2 L363.3,139.6 L381.5,138.6 Z" fill="#2a2a2a" opacity="0.85"/>
<line x1="407.9" y1="182.3" x2="403.7" y2="186.1" stroke="#5a5a5a" stroke-width="0.7" opacity="0.5"/>
<line x1="422.9" y1="195.7" x2="419.8" y2="201.0" stroke="#5a5a5a" stroke-width="0.7" opacity="0.5"/>
<line x1="425.6" y1="198.7" x2="423.7" y2="201.5" stroke="#5a5a5a" stroke-width="0.7" opacity="0.5"/>
<line x1="396.4" y1="163.3" x2="390.7" y2="166.0" stroke="#5a5a5a" stroke-width="0.7" opacity="0.5"/>
<line x1="426.0" y1="192.7" x2="423.0" y2="198.3" stroke="#5a5a5a" stroke-width="0.7" opacity="0.5"/>
<line x1="382.4" y1="145.8" x2="376.3" y2="146.6" stroke="#5a5a5a" stroke-width="0.7" opacity="0.5"/>
<line x1="451.3" y1="202.1" x2="450.4" y2="208.5" stroke="#5a5a5a" stroke-width="0.7" opacity="0.5"/>
<line x1="405.3" y1="182.3" x2="399.7" y2="187.6" stroke="#5a5a5a" stroke-width="0.7" opacity="0.5"/>
<line x1="450.1" y1="197.1" x2="449.3" y2="201.3" stroke="#5a5a5a" stroke-width="0.7" opacity="0.5"/>
<line x1="376.8" y1="129.9" x2="370.0" y2="130.5" stroke="#5a5a5a" stroke-width="0.7" opacity="0.5"/>
<line x1="382.6" y1="150.2" x2="378.8" y2="151.1" stroke="#5a5a5a" stroke-width="0.7" opacity="0.5"/>
<line x1="399.5" y1="163.9" x2="394.8" y2="166.3" stroke="#5a5a5a" stroke-width="0.7" opacity="0.5"/>
<line x1="391.5" y1="170.3" x2="384.8" y2="173.9" stroke="#5a5a5a" stroke-width="0.7" opacity="0.5"/>
<line x1="381.4" y1="148.2" x2="374.8" y2="150.3" stroke="#5a5a5a" stroke-width="0.7" opacity="0.5"/>
<line x1="413.9" y1="189.5" x2="408.7" y2="194.4" stroke="#5a5a5a" stroke-width="0.7" opacity="0.5"/>
<line x1="393.7" y1="182.2" x2="389.2" y2="185.5" stroke="#5a5a5a" stroke-width="0.7" opacity="0.5"/>
<line x1="395.9" y1="169.7" x2="389.4" y2="174.1" stroke="#5a5a5a" stroke-width="0.7" opacity="0.5"/>
<line x1="423.6" y1="183.9" x2="420.5" y2="187.7" stroke="#5a5a5a" stroke-width="0.7" opacity="0.5"/>
<line x1="432.3" y1="186.9" x2="430.5" y2="189.6" stroke="#5a5a5a" stroke-width="0.7" opacity="0.5"/>
<line x1="373.2" y1="132.2" x2="369.6" y2="132.6" stroke="#5a5a5a" stroke-width="0.7" opacity="0.5"/>
<line x1="382.9" y1="138.9" x2="375.1" y2="140.5" stroke="#5a5a5a" stroke-width="0.7" opacity="0.5"/>
<line x1="465.9" y1="198.1" x2="465.9" y2="202.8" stroke="#5a5a5a" stroke-width="0.7" opacity="0.5"/>
<line x1="380.4" y1="150.1" x2="374.1" y2="152.4" stroke="#5a5a5a" stroke-width="0.7" opacity="0.5"/>
<line x1="449.1" y1="193.5" x2="447.6" y2="198.9" stroke="#5a5a5a" stroke-width="0.7" opacity="0.5"/>
<line x1="433.2" y1="198.0" x2="430.3" y2="204.5" stroke="#5a5a5a" stroke-width="0.7" opacity="0.5"/>
<line x1="435.1" y1="194.6" x2="433.0" y2="200.3" stroke="#5a5a5a" stroke-width="0.7" opacity="0.5"/>
<line x1="380.3" y1="139.0" x2="375.6" y2="139.4" stroke="#5a5a5a" stroke-width="0.7" opacity="0.5"/>
<line x1="478.1" y1="201.2" x2="478.5" y2="206.4" stroke="#5a5a5a" stroke-width="0.7" opacity="0.5"/>
<line x1="422.5" y1="182.7" x2="420.0" y2="186.1" stroke="#5a5a5a" stroke-width="0.7" opacity="0.5"/>
<line x1="367.5" y1="136.8" x2="361.2" y2="136.9" stroke="#5a5a5a" stroke-width="0.7" opacity="0.5"/>
<line x1="409.7" y1="176.9" x2="403.4" y2="181.7" stroke="#5a5a5a" stroke-width="0.7" opacity="0.5"/>
<line x1="446.2" y1="197.5" x2="445.0" y2="200.4" stroke="#5a5a5a" stroke-width="0.7" opacity="0.5"/>
<line x1="416.2" y1="190.4" x2="414.0" y2="192.7" stroke="#5a5a5a" stroke-width="0.7" opacity="0.5"/>
<line x1="470.9" y1="196.3" x2="471.0" y2="202.5" stroke="#5a5a5a" stroke-width="0.7" opacity="0.5"/>
<line x1="378.2" y1="150.4" x2="371.9" y2="152.1" stroke="#5a5a5a" stroke-width="0.7" opacity="0.5"/>
<line x1="449.4" y1="206.3" x2="448.2" y2="211.8" stroke="#5a5a5a" stroke-width="0.7" opacity="0.5"/>
<line x1="414.5" y1="183.7" x2="411.9" y2="186.2" stroke="#5a5a5a" stroke-width="0.7" opacity="0.5"/>
<line x1="452.6" y1="203.2" x2="451.5" y2="209.8" stroke="#5a5a5a" stroke-width="0.7" opacity="0.5"/>
<line x1="411.8" y1="200.6" x2="409.1" y2="204.3" stroke="#5a5a5a" stroke-width="0.7" opacity="0.5"/>
<line x1="420.6" y1="185.9" x2="417.7" y2="188.9" stroke="#5a5a5a" stroke-width="0.7" opacity="0.5"/>
<line x1="401.2" y1="180.0" x2="396.3" y2="184.5" stroke="#5a5a5a" stroke-width="0.7" opacity="0.5"/>
<line x1="434.4" y1="188.0" x2="430.8" y2="195.1" stroke="#5a5a5a" stroke-width="0.7" opacity="0.5"/>
<line x1="405.4" y1="183.4" x2="402.5" y2="185.7" stroke="#5a5a5a" stroke-width="0.7" opacity="0.5"/>
<line x1="368.9" y1="139.6" x2="365.5" y2="140.2" stroke="#5a5a5a" stroke-width="0.7" opacity="0.5"/>
<line x1="422.7" y1="196.6" x2="420.5" y2="199.4" stroke="#5a5a5a" stroke-width="0.7" opacity="0.5"/>
<line x1="392.1" y1="154.3" x2="385.7" y2="157.1" stroke="#5a5a5a" stroke-width="0.7" opacity="0.5"/>
<line x1="471.4" y1="201.4" x2="471.8" y2="206.1" stroke="#5a5a5a" stroke-width="0.7" opacity="0.5"/>
<line x1="386.6" y1="146.7" x2="379.4" y2="148.1" stroke="#5a5a5a" stroke-width="0.7" opacity="0.5"/>
<line x1="434.3" y1="203.2" x2="431.3" y2="208.8" stroke="#5a5a5a" stroke-width="0.7" opacity="0.5"/>
<line x1="388.7" y1="157.1" x2="381.5" y2="159.3" stroke="#5a5a5a" stroke-width="0.7" opacity="0.5"/>
<line x1="377.5" y1="125.4" x2="373.5" y2="124.9" stroke="#5a5a5a" stroke-width="0.7" opacity="0.5"/>
<line x1="399.8" y1="169.9" x2="395.4" y2="172.2" stroke="#5a5a5a" stroke-width="0.7" opacity="0.5"/>
<line x1="371.6" y1="136.8" x2="367.9" y2="136.9" stroke="#5a5a5a" stroke-width="0.7" opacity="0.5"/>
<line x1="447.8" y1="199.7" x2="445.5" y2="205.6" stroke="#5a5a5a" stroke-width="0.7" opacity="0.5"/>
<line x1="470.7" y1="189.8" x2="470.9" y2="197.4" stroke="#5a5a5a" stroke-width="0.7" opacity="0.5"/>
<line x1="441.9" y1="195.9" x2="439.5" y2="200.6" stroke="#5a5a5a" stroke-width="0.7" opacity="0.5"/>
<line x1="392.3" y1="171.0" x2="385.4" y2="174.3" stroke="#5a5a5a" stroke-width="0.7" opacity="0.5"/>
<line x1="441.4" y1="192.1" x2="438.4" y2="199.0" stroke="#5a5a5a" stroke-width="0.7" opacity="0.5"/>
<line x1="388.4" y1="161.2" x2="384.7" y2="163.2" stroke="#5a5a5a" stroke-width="0.7" opacity="0.5"/>
<line x1="473.9" y1="193.5" x2="474.9" y2="200.9" stroke="#5a5a5a" stroke-width="0.7" opacity="0.5"/>
<line x1="420.6" y1="182.1" x2="418.2" y2="185.5" stroke="#5a5a5a" stroke-width="0.7" opacity="0.5"/>
<line x1="464.7" y1="187.8" x2="464.3" y2="191.1" stroke="#5a5a5a" stroke-width="0.7" opacity="0.5"/>
<line x1="402.9" y1="185.2" x2="400.7" y2="187.3" stroke="#5a5a5a" stroke-width="0.7" opacity="0.5"/>
<line x1="409.3" y1="168.3" x2="405.8" y2="171.3" stroke="#5a5a5a" stroke-width="0.7" opacity="0.5"/>
<line x1="435.0" y1="206.6" x2="433.8" y2="209.5" stroke="#5a5a5a" stroke-width="0.7" opacity="0.5"/>
<line x1="398.1" y1="182.2" x2="394.9" y2="184.3" stroke="#5a5a5a" stroke-width="0.7" opacity="0.5"/>
<line x1="394.2" y1="153.1" x2="388.3" y2="154.7" stroke="#5a5a5a" stroke-width="0.7" opacity="0.5"/>
<line x1="373.9" y1="126.8" x2="366.3" y2="126.1" stroke="#5a5a5a" stroke-width="0.7" opacity="0.5"/>
<line x1="476.2" y1="191.3" x2="477.2" y2="197.4" stroke="#5a5a5a" stroke-width="0.7" opacity="0.5"/>
<line x1="422.3" y1="200.1" x2="419.0" y2="206.4" stroke="#5a5a5a" stroke-width="0.7" opacity="0.5"/>
<line x1="476.8" y1="189.6" x2="477.2" y2="195.2" stroke="#5a5a5a" stroke-width="0.7" opacity="0.5"/>
<line x1="434.5" y1="195.3" x2="432.2" y2="199.4" stroke="#5a5a5a" stroke-width="0.7" opacity="0.5"/>
<line x1="386.6" y1="144.8" x2="378.9" y2="146.3" stroke="#5a5a5a" stroke-width="0.7" opacity="0.5"/>
<line x1="450.7" y1="200.2" x2="449.1" y2="207.0" stroke="#5a5a5a" stroke-width="0.7" opacity="0.5"/>
<line x1="476.1" y1="196.3" x2="476.8" y2="202.5" stroke="#5a5a5a" stroke-width="0.7" opacity="0.5"/>
<line x1="393.8" y1="167.4" x2="389.6" y2="169.6" stroke="#5a5a5a" stroke-width="0.7" opacity="0.5"/>
<line x1="446.7" y1="193.8" x2="445.4" y2="199.5" stroke="#5a5a5a" stroke-width="0.7" opacity="0.5"/>
<line x1="379.4" y1="155.9" x2="375.8" y2="156.9" stroke="#5a5a5a" stroke-width="0.7" opacity="0.5"/>
<line x1="421.1" y1="206.4" x2="417.0" y2="212.9" stroke="#5a5a5a" stroke-width="0.7" opacity="0.5"/>
<line x1="465.1" y1="195.6" x2="464.7" y2="199.6" stroke="#5a5a5a" stroke-width="0.7" opacity="0.5"/>
<line x1="446.6" y1="200.5" x2="444.2" y2="206.7" stroke="#5a5a5a" stroke-width="0.7" opacity="0.5"/>
<line x1="378.6" y1="145.7" x2="371.9" y2="147.0" stroke="#5a5a5a" stroke-width="0.7" opacity="0.5"/>
<line x1="431.8" y1="203.0" x2="429.2" y2="207.5" stroke="#5a5a5a" stroke-width="0.7" opacity="0.5"/>
<line x1="452.0" y1="204.9" x2="450.7" y2="212.3" stroke="#5a5a5a" stroke-width="0.7" opacity="0.5"/>
<line x1="452.6" y1="202.7" x2="451.9" y2="205.8" stroke="#5a5a5a" stroke-width="0.7" opacity="0.5"/>
<line x1="478.4" y1="198.4" x2="479.3" y2="205.9" stroke="#5a5a5a" stroke-width="0.7" opacity="0.5"/>
<line x1="436.8" y1="192.7" x2="434.3" y2="196.9" stroke="#5a5a5a" stroke-width="0.7" opacity="0.5"/>
<line x1="428.7" y1="200.9" x2="425.9" y2="207.6" stroke="#5a5a5a" stroke-width="0.7" opacity="0.5"/>
<line x1="477.6" y1="197.0" x2="478.3" y2="201.2" stroke="#5a5a5a" stroke-width="0.7" opacity="0.5"/>
<line x1="438.2" y1="197.3" x2="436.2" y2="201.2" stroke="#5a5a5a" stroke-width="0.7" opacity="0.5"/>
<line x1="406.9" y1="198.6" x2="402.4" y2="203.9" stroke="#5a5a5a" stroke-width="0.7" opacity="0.5"/>
<line x1="369.0" y1="136.2" x2="361.3" y2="137.4" stroke="#5a5a5a" stroke-width="0.7" opacity="0.5"/>
<line x1="444.5" y1="190.5" x2="443.2" y2="193.2" stroke="#5a5a5a" stroke-width="0.7" opacity="0.5"/>
<line x1="449.5" y1="195.0" x2="447.3" y2="200.6" stroke="#5a5a5a" stroke-width="0.7" opacity="0.5"/>
<line x1="455.3" y1="189.6" x2="453.4" y2="196.3" stroke="#5a5a5a" stroke-width="0.7" opacity="0.5"/>
<line x1="400.3" y1="159.5" x2="394.1" y2="162.5" stroke="#5a5a5a" stroke-width="0.7" opacity="0.5"/>
<line x1="427.4" y1="187.4" x2="422.8" y2="193.5" stroke="#5a5a5a" stroke-width="0.7" opacity="0.5"/>
<line x1="392.3" y1="152.4" x2="385.3" y2="155.3" stroke="#5a5a5a" stroke-width="0.7" opacity="0.5"/>
<line x1="441.0" y1="198.9" x2="439.0" y2="203.3" stroke="#5a5a5a" stroke-width="0.7" opacity="0.5"/>
<line x1="420.3" y1="190.5" x2="417.1" y2="194.4" stroke="#5a5a5a" stroke-width="0.7" opacity="0.5"/>
<line x1="400.5" y1="170.4" x2="396.3" y2="172.6" stroke="#5a5a5a" stroke-width="0.7" opacity="0.5"/>
<line x1="410.9" y1="176.5" x2="406.6" y2="180.9" stroke="#5a5a5a" stroke-width="0.7" opacity="0.5"/>
<line x1="463.5" y1="196.8" x2="462.9" y2="202.6" stroke="#5a5a5a" stroke-width="0.7" opacity="0.5"/>
<line x1="400.9" y1="160.3" x2="394.5" y2="164.1" stroke="#5a5a5a" stroke-width="0.7" opacity="0.5"/>
<line x1="466.4" y1="201.4" x2="466.2" y2="209.2" stroke="#5a5a5a" stroke-width="0.7" opacity="0.5"/>
<line x1="478.6" y1="189.5" x2="479.4" y2="195.1" stroke="#5a5a5a" stroke-width="0.7" opacity="0.5"/>
<line x1="401.3" y1="193.2" x2="397.0" y2="196.9" stroke="#5a5a5a" stroke-width="0.7" opacity="0.5"/>
<line x1="378.6" y1="131.7" x2="370.8" y2="131.4" stroke="#5a5a5a" stroke-width="0.7" opacity="0.5"/>
<line x1="376.4" y1="129.4" x2="373.1" y2="129.3" stroke="#5a5a5a" stroke-width="0.7" opacity="0.5"/>
<line x1="477.3" y1="190.4" x2="478.9" y2="198.0" stroke="#5a5a5a" stroke-width="0.7" opacity="0.5"/>
<line x1="474.3" y1="198.6" x2="475.4" y2="206.3" stroke="#5a5a5a" stroke-width="0.7" opacity="0.5"/>
<line x1="441.7" y1="189.2" x2="439.9" y2="194.1" stroke="#5a5a5a" stroke-width="0.7" opacity="0.5"/>
<line x1="437.7" y1="197.0" x2="434.1" y2="204.1" stroke="#5a5a5a" stroke-width="0.7" opacity="0.5"/>
<line x1="446.4" y1="197.1" x2="444.8" y2="202.5" stroke="#5a5a5a" stroke-width="0.7" opacity="0.5"/>
<line x1="461.1" y1="200.2" x2="460.0" y2="207.5" stroke="#5a5a5a" stroke-width="0.7" opacity="0.5"/>
<line x1="379.2" y1="141.1" x2="375.0" y2="141.7" stroke="#5a5a5a" stroke-width="0.7" opacity="0.5"/>
<line x1="369.7" y1="126.6" x2="363.1" y2="125.8" stroke="#5a5a5a" stroke-width="0.7" opacity="0.5"/>
<line x1="383.1" y1="152.0" x2="379.8" y2="152.9" stroke="#5a5a5a" stroke-width="0.7" opacity="0.5"/>
<line x1="476.0" y1="197.3" x2="476.5" y2="202.3" stroke="#5a5a5a" stroke-width="0.7" opacity="0.5"/>
<line x1="397.8" y1="168.8" x2="392.4" y2="172.0" stroke="#5a5a5a" stroke-width="0.7" opacity="0.5"/>
</g>
<text x="125" y="25.6" font-size="12" fill="#111" text-anchor="start" font-weight="normal" font-style="normal" >a</text>
<text x="143.3" y="29" font-size="12" fill="#111" text-anchor="start" font-weight="normal" font-style="normal" >(i)</text>
<text x="143.3" y="88" font-size="12" fill="#111" text-anchor="start" font-weight="normal" font-style="normal" >(ii)</text>
<text x="209.3" y="11.8" font-size="10" fill="#111" text-anchor="start" font-weight="normal" font-style="normal" >WT</text>
<text x="248.6" y="11.8" font-size="10" fill="#111" text-anchor="start" font-weight="normal" font-style="normal" >WT + GdA</text>
<text x="367.5" y="56.7" font-size="8.5" fill="#111" text-anchor="start" font-weight="normal" font-style="normal" >YEPD, 30°C, 14</text>
<text x="367.5" y="67.2" font-size="8.5" fill="#111" text-anchor="start" font-weight="normal" font-style="normal" >Days</text>
<text x="181.5" y="141.7" font-size="10" fill="#111" text-anchor="start" font-weight="normal" font-style="normal" >WT</text>
<text x="278" y="138.3" font-size="10" fill="#111">WT-<tspan font-style="italic">URA3</tspan></text>
<text x="385.5" y="138.3" font-size="9.6" fill="#111"><tspan font-style="italic">Cahsp90</tspan> null</text>
<text x="466" y="175.9" font-size="8.5" fill="#111" text-anchor="start" font-weight="normal" font-style="normal" >YEPD, 30°C</text>
<text x="466" y="186.4" font-size="8.5" fill="#111" text-anchor="start" font-weight="normal" font-style="normal" >14 Days</text>
<text x="4" y="246.8" font-size="11" fill="#111">b</text>
<line x1="56.5" y1="247.6" x2="332.3" y2="247.6" stroke="#848484" stroke-width="1"/>
<line x1="56.5" y1="247.6" x2="56.5" y2="424.2" stroke="#848484" stroke-width="1"/>
<line x1="332.3" y1="247.6" x2="332.3" y2="424.2" stroke="#848484" stroke-width="1"/>
<line x1="56.5" y1="424.2" x2="332.3" y2="424.2" stroke="#848484" stroke-width="1"/>
<line x1="56.5" y1="359.1" x2="332.3" y2="359.1" stroke="#848484" stroke-width="1"/>
<text transform="matrix(0.95 0 0 1.1 53.5 364.54)" font-size="14.5" fill="#111" text-anchor="end">0.0</text>
<line x1="56.5" y1="337.18" x2="60.5" y2="337.18" stroke="#848484" stroke-width="1"/>
<text transform="matrix(0.95 0 0 1.1 53.5 342.62)" font-size="14.5" fill="#111" text-anchor="end">0.2</text>
<line x1="56.5" y1="315.26" x2="60.5" y2="315.26" stroke="#848484" stroke-width="1"/>
<text transform="matrix(0.95 0 0 1.1 53.5 320.7)" font-size="14.5" fill="#111" text-anchor="end">0.4</text>
<line x1="56.5" y1="293.34" x2="60.5" y2="293.34" stroke="#848484" stroke-width="1"/>
<text transform="matrix(0.95 0 0 1.1 53.5 298.78)" font-size="14.5" fill="#111" text-anchor="end">0.6</text>
<line x1="56.5" y1="271.42" x2="60.5" y2="271.42" stroke="#848484" stroke-width="1"/>
<text transform="matrix(0.95 0 0 1.1 53.5 276.86)" font-size="14.5" fill="#111" text-anchor="end">0.8</text>
<text transform="matrix(0.95 0 0 1.1 53.5 254.94)" font-size="14.5" fill="#111" text-anchor="end">1.0</text>
<line x1="56.5" y1="376.4" x2="60.5" y2="376.4" stroke="#848484" stroke-width="1"/>
<text x="54.5" y="379.28" font-size="8" fill="#111" text-anchor="end">0.1</text>
<line x1="56.5" y1="383.1" x2="60.5" y2="383.1" stroke="#848484" stroke-width="1"/>
<text x="54.5" y="385.98" font-size="8" fill="#111" text-anchor="end">0.0</text>
<line x1="56.5" y1="389.5" x2="60.5" y2="389.5" stroke="#848484" stroke-width="1"/>
<text x="54.5" y="392.38" font-size="8" fill="#111" text-anchor="end">-0.1</text>
<line x1="56.5" y1="401.8" x2="60.5" y2="401.8" stroke="#848484" stroke-width="1"/>
<text x="54.5" y="404.68" font-size="8" fill="#111" text-anchor="end">0.1</text>
<line x1="56.5" y1="408.7" x2="60.5" y2="408.7" stroke="#848484" stroke-width="1"/>
<text x="54.5" y="411.58" font-size="8" fill="#111" text-anchor="end">0.0</text>
<line x1="56.5" y1="415.1" x2="60.5" y2="415.1" stroke="#848484" stroke-width="1"/>
<text x="54.5" y="417.98" font-size="8" fill="#111" text-anchor="end">-0.1</text>
<line x1="56.5" y1="424.2" x2="56.5" y2="419.7" stroke="#848484" stroke-width="1"/>
<line x1="78.11" y1="424.2" x2="78.11" y2="421.9" stroke="#848484" stroke-width="1"/>
<line x1="90.76" y1="424.2" x2="90.76" y2="421.9" stroke="#848484" stroke-width="1"/>
<line x1="99.73" y1="424.2" x2="99.73" y2="421.9" stroke="#848484" stroke-width="1"/>
<line x1="106.69" y1="424.2" x2="106.69" y2="421.9" stroke="#848484" stroke-width="1"/>
<line x1="112.37" y1="424.2" x2="112.37" y2="421.9" stroke="#848484" stroke-width="1"/>
<line x1="117.18" y1="424.2" x2="117.18" y2="421.9" stroke="#848484" stroke-width="1"/>
<line x1="121.34" y1="424.2" x2="121.34" y2="421.9" stroke="#848484" stroke-width="1"/>
<line x1="125.01" y1="424.2" x2="125.01" y2="421.9" stroke="#848484" stroke-width="1"/>
<line x1="128.3" y1="424.2" x2="128.3" y2="419.7" stroke="#848484" stroke-width="1"/>
<line x1="149.91" y1="424.2" x2="149.91" y2="421.9" stroke="#848484" stroke-width="1"/>
<line x1="162.56" y1="424.2" x2="162.56" y2="421.9" stroke="#848484" stroke-width="1"/>
<line x1="171.53" y1="424.2" x2="171.53" y2="421.9" stroke="#848484" stroke-width="1"/>
<line x1="178.49" y1="424.2" x2="178.49" y2="421.9" stroke="#848484" stroke-width="1"/>
<line x1="184.17" y1="424.2" x2="184.17" y2="421.9" stroke="#848484" stroke-width="1"/>
<line x1="188.98" y1="424.2" x2="188.98" y2="421.9" stroke="#848484" stroke-width="1"/>
<line x1="193.14" y1="424.2" x2="193.14" y2="421.9" stroke="#848484" stroke-width="1"/>
<line x1="196.81" y1="424.2" x2="196.81" y2="421.9" stroke="#848484" stroke-width="1"/>
<line x1="200.1" y1="424.2" x2="200.1" y2="419.7" stroke="#848484" stroke-width="1"/>
<line x1="221.71" y1="424.2" x2="221.71" y2="421.9" stroke="#848484" stroke-width="1"/>
<line x1="234.36" y1="424.2" x2="234.36" y2="421.9" stroke="#848484" stroke-width="1"/>
<line x1="243.33" y1="424.2" x2="243.33" y2="421.9" stroke="#848484" stroke-width="1"/>
<line x1="250.29" y1="424.2" x2="250.29" y2="421.9" stroke="#848484" stroke-width="1"/>
<line x1="255.97" y1="424.2" x2="255.97" y2="421.9" stroke="#848484" stroke-width="1"/>
<line x1="260.78" y1="424.2" x2="260.78" y2="421.9" stroke="#848484" stroke-width="1"/>
<line x1="264.94" y1="424.2" x2="264.94" y2="421.9" stroke="#848484" stroke-width="1"/>
<line x1="268.61" y1="424.2" x2="268.61" y2="421.9" stroke="#848484" stroke-width="1"/>
<line x1="271.9" y1="424.2" x2="271.9" y2="419.7" stroke="#848484" stroke-width="1"/>
<line x1="293.51" y1="424.2" x2="293.51" y2="421.9" stroke="#848484" stroke-width="1"/>
<line x1="306.16" y1="424.2" x2="306.16" y2="421.9" stroke="#848484" stroke-width="1"/>
<line x1="315.13" y1="424.2" x2="315.13" y2="421.9" stroke="#848484" stroke-width="1"/>
<line x1="322.09" y1="424.2" x2="322.09" y2="421.9" stroke="#848484" stroke-width="1"/>
<line x1="327.77" y1="424.2" x2="327.77" y2="421.9" stroke="#848484" stroke-width="1"/>
<path d="M56.5,249.59 L58.23,251.18 L59.97,252.76 L61.7,254.32 L63.44,255.87 L65.17,257.41 L66.9,258.94 L68.64,260.45 L70.37,261.96 L72.11,263.45 L73.84,264.93 L75.57,266.39 L77.31,267.85 L79.04,269.29 L80.78,270.72 L82.51,272.14 L84.24,273.55 L85.98,274.94 L87.71,276.33 L89.45,277.7 L91.18,279.06 L92.91,280.41 L94.65,281.75 L96.38,283.07 L98.12,284.39 L99.85,285.69 L101.58,286.98 L103.32,288.26 L105.05,289.53 L106.79,290.79 L108.52,292.04 L110.26,293.27 L111.99,294.5 L113.72,295.71 L115.46,296.91 L117.19,298.1 L118.93,299.28 L120.66,300.45 L122.39,301.61 L124.13,302.75 L125.86,303.89 L127.6,305.01 L129.33,306.13 L131.06,307.23 L132.8,308.32 L134.53,309.4 L136.27,310.47 L138,311.53 L139.73,312.58 L141.47,313.62 L143.2,314.64 L144.94,315.65 L146.67,316.65 L148.4,317.64 L150.14,318.62 L151.87,319.58 L153.61,320.53 L155.34,321.47 L157.07,322.4 L158.81,323.31 L160.54,324.22 L162.28,325.1 L164.01,325.98 L165.74,326.84 L167.48,327.69 L169.21,328.53 L170.95,329.35 L172.68,330.16 L174.41,330.95 L176.15,331.73 L177.88,332.5 L179.62,333.26 L181.35,334 L183.08,334.72 L184.82,335.43 L186.55,336.13 L188.29,336.81 L190.02,337.49 L191.75,338.14 L193.49,338.79 L195.22,339.42 L196.96,340.04 L198.69,340.64 L200.43,341.23 L202.16,341.81 L203.89,342.38 L205.63,342.93 L207.36,343.47 L209.1,344 L210.83,344.52 L212.56,345.02 L214.3,345.51 L216.03,345.99 L217.77,346.46 L219.5,346.92 L221.23,347.36 L222.97,347.8 L224.7,348.22 L226.44,348.63 L228.17,349.02 L229.9,349.41 L231.64,349.79 L233.37,350.15 L235.11,350.51 L236.84,350.85 L238.57,351.18 L240.31,351.5 L242.04,351.81 L243.78,352.11 L245.51,352.4 L247.24,352.68 L248.98,352.95 L250.71,353.21 L252.45,353.46 L254.18,353.7 L255.91,353.93 L257.65,354.15 L259.38,354.36 L261.12,354.56 L262.85,354.75 L264.58,354.93 L266.32,355.1 L268.05,355.27 L269.79,355.42 L271.52,355.57 L273.25,355.7 L274.99,355.83 L276.72,355.95 L278.46,356.06 L280.19,356.16 L281.92,356.26 L283.66,356.34 L285.39,356.42 L287.13,356.49 L288.86,356.55 L290.6,356.6 L292.33,356.65 L294.06,356.69 L295.8,356.72 L297.53,356.74 L299.27,356.76 L301,356.77 L302.73,356.77 L304.47,356.76 L306.2,356.75 L307.94,356.73 L309.67,356.7 L311.4,356.67 L313.14,356.63 L314.87,356.58 L316.61,356.53 L318.34,356.47 L320.07,356.4 L321.81,356.33 L323.54,356.25 L325.28,356.17" fill="none" stroke="#b5362c" stroke-width="1.2"/>
<line x1="56.5" y1="409" x2="326" y2="409" stroke="#b5362c" stroke-width="0.9"/>
<circle cx="56.5" cy="249.59" r="1.55" fill="none" stroke="#d5857c" stroke-width="0.75"/>
<circle cx="56.5" cy="409" r="1.55" fill="none" stroke="#d5857c" stroke-width="0.75"/>
<circle cx="59.73" cy="251.88" r="1.55" fill="none" stroke="#d5857c" stroke-width="0.75"/>
<circle cx="59.73" cy="408.55" r="1.55" fill="none" stroke="#d5857c" stroke-width="0.75"/>
<circle cx="62.96" cy="254.13" r="1.55" fill="none" stroke="#d5857c" stroke-width="0.75"/>
<circle cx="62.96" cy="408.1" r="1.55" fill="none" stroke="#d5857c" stroke-width="0.75"/>
<circle cx="66.19" cy="256.33" r="1.55" fill="none" stroke="#d5857c" stroke-width="0.75"/>
<circle cx="66.19" cy="407.65" r="1.55" fill="none" stroke="#d5857c" stroke-width="0.75"/>
<circle cx="69.42" cy="258.95" r="1.55" fill="none" stroke="#d5857c" stroke-width="0.75"/>
<circle cx="69.42" cy="407.2" r="1.55" fill="none" stroke="#d5857c" stroke-width="0.75"/>
<circle cx="72.65" cy="261.75" r="1.55" fill="none" stroke="#d5857c" stroke-width="0.75"/>
<circle cx="72.65" cy="407.02" r="1.55" fill="none" stroke="#d5857c" stroke-width="0.75"/>
<circle cx="75.89" cy="264.51" r="1.55" fill="none" stroke="#d5857c" stroke-width="0.75"/>
<circle cx="75.89" cy="407.06" r="1.55" fill="none" stroke="#d5857c" stroke-width="0.75"/>
<circle cx="79.12" cy="267.23" r="1.55" fill="none" stroke="#d5857c" stroke-width="0.75"/>
<circle cx="79.12" cy="407.09" r="1.55" fill="none" stroke="#d5857c" stroke-width="0.75"/>
<circle cx="82.35" cy="269.9" r="1.55" fill="none" stroke="#d5857c" stroke-width="0.75"/>
<circle cx="82.35" cy="407.13" r="1.55" fill="none" stroke="#d5857c" stroke-width="0.75"/>
<circle cx="85.58" cy="272.54" r="1.55" fill="none" stroke="#d5857c" stroke-width="0.75"/>
<circle cx="85.58" cy="407.16" r="1.55" fill="none" stroke="#d5857c" stroke-width="0.75"/>
<circle cx="88.81" cy="275.13" r="1.55" fill="none" stroke="#d5857c" stroke-width="0.75"/>
<circle cx="88.81" cy="407.2" r="1.55" fill="none" stroke="#d5857c" stroke-width="0.75"/>
<circle cx="92.04" cy="277.69" r="1.55" fill="none" stroke="#d5857c" stroke-width="0.75"/>
<circle cx="92.04" cy="407.24" r="1.55" fill="none" stroke="#d5857c" stroke-width="0.75"/>
<circle cx="95.27" cy="280.2" r="1.55" fill="none" stroke="#d5857c" stroke-width="0.75"/>
<circle cx="95.27" cy="407.27" r="1.55" fill="none" stroke="#d5857c" stroke-width="0.75"/>
<circle cx="98.5" cy="282.67" r="1.55" fill="none" stroke="#d5857c" stroke-width="0.75"/>
<circle cx="98.5" cy="407.31" r="1.55" fill="none" stroke="#d5857c" stroke-width="0.75"/>
<circle cx="101.73" cy="285.13" r="1.55" fill="none" stroke="#d5857c" stroke-width="0.75"/>
<circle cx="101.73" cy="407.34" r="1.55" fill="none" stroke="#d5857c" stroke-width="0.75"/>
<circle cx="104.96" cy="287.56" r="1.55" fill="none" stroke="#d5857c" stroke-width="0.75"/>
<circle cx="104.96" cy="407.38" r="1.55" fill="none" stroke="#d5857c" stroke-width="0.75"/>
<circle cx="108.2" cy="289.95" r="1.55" fill="none" stroke="#d5857c" stroke-width="0.75"/>
<circle cx="108.2" cy="407.48" r="1.55" fill="none" stroke="#d5857c" stroke-width="0.75"/>
<circle cx="111.43" cy="292.31" r="1.55" fill="none" stroke="#d5857c" stroke-width="0.75"/>
<circle cx="111.43" cy="407.67" r="1.55" fill="none" stroke="#d5857c" stroke-width="0.75"/>
<circle cx="114.66" cy="294.62" r="1.55" fill="none" stroke="#d5857c" stroke-width="0.75"/>
<circle cx="114.66" cy="407.86" r="1.55" fill="none" stroke="#d5857c" stroke-width="0.75"/>
<circle cx="117.89" cy="296.9" r="1.55" fill="none" stroke="#d5857c" stroke-width="0.75"/>
<circle cx="117.89" cy="408.05" r="1.55" fill="none" stroke="#d5857c" stroke-width="0.75"/>
<circle cx="121.12" cy="299.13" r="1.55" fill="none" stroke="#d5857c" stroke-width="0.75"/>
<circle cx="121.12" cy="408.24" r="1.55" fill="none" stroke="#d5857c" stroke-width="0.75"/>
<circle cx="124.35" cy="301.33" r="1.55" fill="none" stroke="#d5857c" stroke-width="0.75"/>
<circle cx="124.35" cy="408.43" r="1.55" fill="none" stroke="#d5857c" stroke-width="0.75"/>
<circle cx="127.58" cy="303.49" r="1.55" fill="none" stroke="#d5857c" stroke-width="0.75"/>
<circle cx="127.58" cy="408.62" r="1.55" fill="none" stroke="#d5857c" stroke-width="0.75"/>
<circle cx="130.81" cy="305.51" r="1.55" fill="none" stroke="#d5857c" stroke-width="0.75"/>
<circle cx="130.81" cy="408.81" r="1.55" fill="none" stroke="#d5857c" stroke-width="0.75"/>
<circle cx="134.04" cy="307.47" r="1.55" fill="none" stroke="#d5857c" stroke-width="0.75"/>
<circle cx="134.04" cy="409" r="1.55" fill="none" stroke="#d5857c" stroke-width="0.75"/>
<circle cx="137.27" cy="309.38" r="1.55" fill="none" stroke="#d5857c" stroke-width="0.75"/>
<circle cx="137.27" cy="409.19" r="1.55" fill="none" stroke="#d5857c" stroke-width="0.75"/>
<circle cx="140.51" cy="311.26" r="1.55" fill="none" stroke="#d5857c" stroke-width="0.75"/>
<circle cx="140.51" cy="409.37" r="1.55" fill="none" stroke="#d5857c" stroke-width="0.75"/>
<circle cx="143.74" cy="313.09" r="1.55" fill="none" stroke="#d5857c" stroke-width="0.75"/>
<circle cx="143.74" cy="409.51" r="1.55" fill="none" stroke="#d5857c" stroke-width="0.75"/>
<circle cx="146.97" cy="314.89" r="1.55" fill="none" stroke="#d5857c" stroke-width="0.75"/>
<circle cx="146.97" cy="409.54" r="1.55" fill="none" stroke="#d5857c" stroke-width="0.75"/>
<circle cx="150.2" cy="316.64" r="1.55" fill="none" stroke="#d5857c" stroke-width="0.75"/>
<circle cx="150.2" cy="409.56" r="1.55" fill="none" stroke="#d5857c" stroke-width="0.75"/>
<circle cx="153.43" cy="318.37" r="1.55" fill="none" stroke="#d5857c" stroke-width="0.75"/>
<circle cx="153.43" cy="409.59" r="1.55" fill="none" stroke="#d5857c" stroke-width="0.75"/>
<circle cx="156.66" cy="320.05" r="1.55" fill="none" stroke="#d5857c" stroke-width="0.75"/>
<circle cx="156.66" cy="409.62" r="1.55" fill="none" stroke="#d5857c" stroke-width="0.75"/>
<circle cx="159.89" cy="321.69" r="1.55" fill="none" stroke="#d5857c" stroke-width="0.75"/>
<circle cx="159.89" cy="409.64" r="1.55" fill="none" stroke="#d5857c" stroke-width="0.75"/>
<circle cx="163.12" cy="323.29" r="1.55" fill="none" stroke="#d5857c" stroke-width="0.75"/>
<circle cx="163.12" cy="409.67" r="1.55" fill="none" stroke="#d5857c" stroke-width="0.75"/>
<circle cx="166.35" cy="324.84" r="1.55" fill="none" stroke="#d5857c" stroke-width="0.75"/>
<circle cx="166.35" cy="409.7" r="1.55" fill="none" stroke="#d5857c" stroke-width="0.75"/>
<circle cx="169.58" cy="326.34" r="1.55" fill="none" stroke="#d5857c" stroke-width="0.75"/>
<circle cx="169.58" cy="409.73" r="1.55" fill="none" stroke="#d5857c" stroke-width="0.75"/>
<circle cx="172.82" cy="327.85" r="1.55" fill="none" stroke="#d5857c" stroke-width="0.75"/>
<circle cx="172.82" cy="409.75" r="1.55" fill="none" stroke="#d5857c" stroke-width="0.75"/>
<circle cx="176.05" cy="329.38" r="1.55" fill="none" stroke="#d5857c" stroke-width="0.75"/>
<circle cx="176.05" cy="409.78" r="1.55" fill="none" stroke="#d5857c" stroke-width="0.75"/>
<circle cx="179.28" cy="330.86" r="1.55" fill="none" stroke="#d5857c" stroke-width="0.75"/>
<circle cx="179.28" cy="409.77" r="1.55" fill="none" stroke="#d5857c" stroke-width="0.75"/>
<circle cx="182.51" cy="332.29" r="1.55" fill="none" stroke="#d5857c" stroke-width="0.75"/>
<circle cx="182.51" cy="409.62" r="1.55" fill="none" stroke="#d5857c" stroke-width="0.75"/>
<circle cx="185.74" cy="333.67" r="1.55" fill="none" stroke="#d5857c" stroke-width="0.75"/>
<circle cx="185.74" cy="409.48" r="1.55" fill="none" stroke="#d5857c" stroke-width="0.75"/>
<circle cx="188.97" cy="335.01" r="1.55" fill="none" stroke="#d5857c" stroke-width="0.75"/>
<circle cx="188.97" cy="409.34" r="1.55" fill="none" stroke="#d5857c" stroke-width="0.75"/>
<circle cx="192.2" cy="336.3" r="1.55" fill="none" stroke="#d5857c" stroke-width="0.75"/>
<circle cx="192.2" cy="409.19" r="1.55" fill="none" stroke="#d5857c" stroke-width="0.75"/>
<circle cx="195.43" cy="337.49" r="1.55" fill="none" stroke="#d5857c" stroke-width="0.75"/>
<circle cx="195.43" cy="409.05" r="1.55" fill="none" stroke="#d5857c" stroke-width="0.75"/>
<circle cx="198.66" cy="338.63" r="1.55" fill="none" stroke="#d5857c" stroke-width="0.75"/>
<circle cx="198.66" cy="408.9" r="1.55" fill="none" stroke="#d5857c" stroke-width="0.75"/>
<circle cx="201.89" cy="339.72" r="1.55" fill="none" stroke="#d5857c" stroke-width="0.75"/>
<circle cx="201.89" cy="408.76" r="1.55" fill="none" stroke="#d5857c" stroke-width="0.75"/>
<circle cx="205.13" cy="340.77" r="1.55" fill="none" stroke="#d5857c" stroke-width="0.75"/>
<circle cx="205.13" cy="408.62" r="1.55" fill="none" stroke="#d5857c" stroke-width="0.75"/>
<circle cx="208.36" cy="341.78" r="1.55" fill="none" stroke="#d5857c" stroke-width="0.75"/>
<circle cx="208.36" cy="408.47" r="1.55" fill="none" stroke="#d5857c" stroke-width="0.75"/>
<circle cx="211.59" cy="342.74" r="1.55" fill="none" stroke="#d5857c" stroke-width="0.75"/>
<circle cx="211.59" cy="408.33" r="1.55" fill="none" stroke="#d5857c" stroke-width="0.75"/>
<circle cx="214.82" cy="343.66" r="1.55" fill="none" stroke="#d5857c" stroke-width="0.75"/>
<circle cx="214.82" cy="408.19" r="1.55" fill="none" stroke="#d5857c" stroke-width="0.75"/>
<circle cx="218.05" cy="344.54" r="1.55" fill="none" stroke="#d5857c" stroke-width="0.75"/>
<circle cx="218.05" cy="408.13" r="1.55" fill="none" stroke="#d5857c" stroke-width="0.75"/>
<circle cx="221.28" cy="345.37" r="1.55" fill="none" stroke="#d5857c" stroke-width="0.75"/>
<circle cx="221.28" cy="408.07" r="1.55" fill="none" stroke="#d5857c" stroke-width="0.75"/>
<circle cx="224.51" cy="346.25" r="1.55" fill="none" stroke="#d5857c" stroke-width="0.75"/>
<circle cx="224.51" cy="408.01" r="1.55" fill="none" stroke="#d5857c" stroke-width="0.75"/>
<circle cx="227.74" cy="347.1" r="1.55" fill="none" stroke="#d5857c" stroke-width="0.75"/>
<circle cx="227.74" cy="407.95" r="1.55" fill="none" stroke="#d5857c" stroke-width="0.75"/>
<circle cx="230.97" cy="347.9" r="1.55" fill="none" stroke="#d5857c" stroke-width="0.75"/>
<circle cx="230.97" cy="407.89" r="1.55" fill="none" stroke="#d5857c" stroke-width="0.75"/>
<circle cx="234.2" cy="348.67" r="1.55" fill="none" stroke="#d5857c" stroke-width="0.75"/>
<circle cx="234.2" cy="407.83" r="1.55" fill="none" stroke="#d5857c" stroke-width="0.75"/>
<circle cx="237.44" cy="349.4" r="1.55" fill="none" stroke="#d5857c" stroke-width="0.75"/>
<circle cx="237.44" cy="407.85" r="1.55" fill="none" stroke="#d5857c" stroke-width="0.75"/>
<circle cx="240.67" cy="350.1" r="1.55" fill="none" stroke="#d5857c" stroke-width="0.75"/>
<circle cx="240.67" cy="407.96" r="1.55" fill="none" stroke="#d5857c" stroke-width="0.75"/>
<circle cx="243.9" cy="350.75" r="1.55" fill="none" stroke="#d5857c" stroke-width="0.75"/>
<circle cx="243.9" cy="408.06" r="1.55" fill="none" stroke="#d5857c" stroke-width="0.75"/>
<circle cx="247.13" cy="351.37" r="1.55" fill="none" stroke="#d5857c" stroke-width="0.75"/>
<circle cx="247.13" cy="408.17" r="1.55" fill="none" stroke="#d5857c" stroke-width="0.75"/>
<circle cx="250.36" cy="351.96" r="1.55" fill="none" stroke="#d5857c" stroke-width="0.75"/>
<circle cx="250.36" cy="408.28" r="1.55" fill="none" stroke="#d5857c" stroke-width="0.75"/>
<circle cx="253.59" cy="352.53" r="1.55" fill="none" stroke="#d5857c" stroke-width="0.75"/>
<circle cx="253.59" cy="408.39" r="1.55" fill="none" stroke="#d5857c" stroke-width="0.75"/>
<circle cx="256.82" cy="353.06" r="1.55" fill="none" stroke="#d5857c" stroke-width="0.75"/>
<circle cx="256.82" cy="408.5" r="1.55" fill="none" stroke="#d5857c" stroke-width="0.75"/>
<circle cx="260.05" cy="353.56" r="1.55" fill="none" stroke="#d5857c" stroke-width="0.75"/>
<circle cx="260.05" cy="408.6" r="1.55" fill="none" stroke="#d5857c" stroke-width="0.75"/>
<circle cx="263.28" cy="354.03" r="1.55" fill="none" stroke="#d5857c" stroke-width="0.75"/>
<circle cx="263.28" cy="408.71" r="1.55" fill="none" stroke="#d5857c" stroke-width="0.75"/>
<circle cx="266.51" cy="354.46" r="1.55" fill="none" stroke="#d5857c" stroke-width="0.75"/>
<circle cx="266.51" cy="408.82" r="1.55" fill="none" stroke="#d5857c" stroke-width="0.75"/>
<circle cx="269.75" cy="354.87" r="1.55" fill="none" stroke="#d5857c" stroke-width="0.75"/>
<circle cx="269.75" cy="408.93" r="1.55" fill="none" stroke="#d5857c" stroke-width="0.75"/>
<circle cx="272.98" cy="355.24" r="1.55" fill="none" stroke="#d5857c" stroke-width="0.75"/>
<circle cx="272.98" cy="409.02" r="1.55" fill="none" stroke="#d5857c" stroke-width="0.75"/>
<circle cx="276.21" cy="355.58" r="1.55" fill="none" stroke="#d5857c" stroke-width="0.75"/>
<circle cx="276.21" cy="409.1" r="1.55" fill="none" stroke="#d5857c" stroke-width="0.75"/>
<circle cx="279.44" cy="355.89" r="1.55" fill="none" stroke="#d5857c" stroke-width="0.75"/>
<circle cx="279.44" cy="409.17" r="1.55" fill="none" stroke="#d5857c" stroke-width="0.75"/>
<circle cx="282.67" cy="356.18" r="1.55" fill="none" stroke="#d5857c" stroke-width="0.75"/>
<circle cx="282.67" cy="409.24" r="1.55" fill="none" stroke="#d5857c" stroke-width="0.75"/>
<circle cx="285.9" cy="356.43" r="1.55" fill="none" stroke="#d5857c" stroke-width="0.75"/>
<circle cx="285.9" cy="409.31" r="1.55" fill="none" stroke="#d5857c" stroke-width="0.75"/>
<circle cx="289.13" cy="356.59" r="1.55" fill="none" stroke="#d5857c" stroke-width="0.75"/>
<circle cx="289.13" cy="409.38" r="1.55" fill="none" stroke="#d5857c" stroke-width="0.75"/>
<circle cx="292.36" cy="356.72" r="1.55" fill="none" stroke="#d5857c" stroke-width="0.75"/>
<circle cx="292.36" cy="409.46" r="1.55" fill="none" stroke="#d5857c" stroke-width="0.75"/>
<circle cx="295.59" cy="356.82" r="1.55" fill="none" stroke="#d5857c" stroke-width="0.75"/>
<circle cx="295.59" cy="409.53" r="1.55" fill="none" stroke="#d5857c" stroke-width="0.75"/>
<circle cx="298.82" cy="356.9" r="1.55" fill="none" stroke="#d5857c" stroke-width="0.75"/>
<circle cx="298.82" cy="409.6" r="1.55" fill="none" stroke="#d5857c" stroke-width="0.75"/>
<circle cx="302.06" cy="356.95" r="1.55" fill="none" stroke="#d5857c" stroke-width="0.75"/>
<circle cx="302.06" cy="409.67" r="1.55" fill="none" stroke="#d5857c" stroke-width="0.75"/>
<circle cx="305.29" cy="356.98" r="1.55" fill="none" stroke="#d5857c" stroke-width="0.75"/>
<circle cx="305.29" cy="409.74" r="1.55" fill="none" stroke="#d5857c" stroke-width="0.75"/>
<circle cx="308.52" cy="356.98" r="1.55" fill="none" stroke="#d5857c" stroke-width="0.75"/>
<circle cx="308.52" cy="409.79" r="1.55" fill="none" stroke="#d5857c" stroke-width="0.75"/>
<circle cx="311.75" cy="356.96" r="1.55" fill="none" stroke="#d5857c" stroke-width="0.75"/>
<circle cx="311.75" cy="409.75" r="1.55" fill="none" stroke="#d5857c" stroke-width="0.75"/>
<circle cx="314.98" cy="356.91" r="1.55" fill="none" stroke="#d5857c" stroke-width="0.75"/>
<circle cx="314.98" cy="409.71" r="1.55" fill="none" stroke="#d5857c" stroke-width="0.75"/>
<circle cx="318.21" cy="356.84" r="1.55" fill="none" stroke="#d5857c" stroke-width="0.75"/>
<circle cx="318.21" cy="409.68" r="1.55" fill="none" stroke="#d5857c" stroke-width="0.75"/>
<circle cx="321.44" cy="356.76" r="1.55" fill="none" stroke="#d5857c" stroke-width="0.75"/>
<circle cx="321.44" cy="409.64" r="1.55" fill="none" stroke="#d5857c" stroke-width="0.75"/>
<circle cx="324.67" cy="356.65" r="1.55" fill="none" stroke="#d5857c" stroke-width="0.75"/>
<circle cx="324.67" cy="409.6" r="1.55" fill="none" stroke="#d5857c" stroke-width="0.75"/>
<circle cx="327.9" cy="356.52" r="1.55" fill="none" stroke="#d5857c" stroke-width="0.75"/>
<circle cx="327.9" cy="409.56" r="1.55" fill="none" stroke="#d5857c" stroke-width="0.75"/>
<circle cx="331.13" cy="356.34" r="1.55" fill="none" stroke="#d5857c" stroke-width="0.75"/>
<circle cx="331.13" cy="409.52" r="1.55" fill="none" stroke="#d5857c" stroke-width="0.75"/>
<path d="M56.5,249.8 L58.23,250.41 L59.97,251 L61.7,251.58 L63.44,252.15 L65.17,252.7 L66.9,253.24 L68.64,253.76 L70.37,254.28 L72.11,254.79 L73.84,255.29 L75.57,255.78 L77.31,256.26 L79.04,256.74 L80.78,257.21 L82.51,257.67 L84.24,258.14 L85.98,258.6 L87.71,259.06 L89.45,259.51 L91.18,259.97 L92.91,260.43 L94.65,260.89 L96.38,261.36 L98.12,261.82 L99.85,262.29 L101.58,262.77 L103.32,263.25 L105.05,263.74 L106.79,264.24 L108.52,264.75 L110.26,265.27 L111.99,265.8 L113.72,266.33 L115.46,266.89 L117.19,267.45 L118.93,268.03 L120.66,268.63 L122.39,269.24 L124.13,269.86 L125.86,270.51 L127.6,271.17 L129.33,271.86 L131.06,272.56 L132.8,273.29 L134.53,274.03 L136.27,274.8 L138,275.58 L139.73,276.38 L141.47,277.21 L143.2,278.05 L144.94,278.91 L146.67,279.78 L148.4,280.68 L150.14,281.59 L151.87,282.52 L153.61,283.47 L155.34,284.44 L157.07,285.42 L158.81,286.42 L160.54,287.43 L162.28,288.47 L164.01,289.51 L165.74,290.58 L167.48,291.65 L169.21,292.75 L170.95,293.85 L172.68,294.97 L174.41,296.11 L176.15,297.26 L177.88,298.43 L179.62,299.6 L181.35,300.79 L183.08,302 L184.82,303.21 L186.55,304.43 L188.29,305.67 L190.02,306.91 L191.75,308.16 L193.49,309.42 L195.22,310.68 L196.96,311.95 L198.69,313.23 L200.43,314.5 L202.16,315.79 L203.89,317.07 L205.63,318.36 L207.36,319.64 L209.1,320.93 L210.83,322.21 L212.56,323.5 L214.3,324.78 L216.03,326.05 L217.77,327.32 L219.5,328.58 L221.23,329.83 L222.97,331.07 L224.7,332.29 L226.44,333.5 L228.17,334.7 L229.9,335.87 L231.64,337.03 L233.37,338.16 L235.11,339.27 L236.84,340.36 L238.57,341.42 L240.31,342.45 L242.04,343.46 L243.78,344.43 L245.51,345.36 L247.24,346.27 L248.98,347.13 L250.71,347.96 L252.45,348.75 L254.18,349.51 L255.91,350.23 L257.65,350.92 L259.38,351.58 L261.12,352.2 L262.85,352.79 L264.58,353.35 L266.32,353.88 L268.05,354.39 L269.79,354.86 L271.52,355.31 L273.25,355.73 L274.99,356.12 L276.72,356.49 L278.46,356.84 L280.19,357.17 L281.92,357.47 L283.66,357.75 L285.39,358.01 L287.13,358.25 L288.86,358.47 L290.6,358.68 L292.33,358.86 L294.06,359.03 L295.8,359.19 L297.53,359.33 L299.27,359.46 L301,359.57 L302.73,359.67 L304.47,359.77 L306.2,359.85 L307.94,359.92 L309.67,359.98 L311.4,360.04 L313.14,360.09 L314.87,360.13 L316.61,360.17 L318.34,360.2 L320.07,360.23 L321.81,360.26 L323.54,360.29 L325.28,360.31 L327.01,360.33 L328.74,360.36 L330.48,360.39" fill="none" stroke="#4f2467" stroke-width="1.2"/>
<line x1="56.5" y1="383.2" x2="332" y2="383.2" stroke="#4f2467" stroke-width="0.9"/>
<circle cx="56.5" cy="249.8" r="1.55" fill="none" stroke="#8e74ab" stroke-width="0.75"/>
<circle cx="56.5" cy="383.2" r="1.55" fill="none" stroke="#8e74ab" stroke-width="0.75"/>
<circle cx="59.73" cy="250.74" r="1.55" fill="none" stroke="#8e74ab" stroke-width="0.75"/>
<circle cx="59.73" cy="383.02" r="1.55" fill="none" stroke="#8e74ab" stroke-width="0.75"/>
<circle cx="62.96" cy="251.63" r="1.55" fill="none" stroke="#8e74ab" stroke-width="0.75"/>
<circle cx="62.96" cy="382.84" r="1.55" fill="none" stroke="#8e74ab" stroke-width="0.75"/>
<circle cx="66.19" cy="252.48" r="1.55" fill="none" stroke="#8e74ab" stroke-width="0.75"/>
<circle cx="66.19" cy="382.66" r="1.55" fill="none" stroke="#8e74ab" stroke-width="0.75"/>
<circle cx="69.42" cy="253.28" r="1.55" fill="none" stroke="#8e74ab" stroke-width="0.75"/>
<circle cx="69.42" cy="382.48" r="1.55" fill="none" stroke="#8e74ab" stroke-width="0.75"/>
<circle cx="72.65" cy="254.17" r="1.55" fill="none" stroke="#8e74ab" stroke-width="0.75"/>
<circle cx="72.65" cy="382.3" r="1.55" fill="none" stroke="#8e74ab" stroke-width="0.75"/>
<circle cx="75.89" cy="255.12" r="1.55" fill="none" stroke="#8e74ab" stroke-width="0.75"/>
<circle cx="75.89" cy="382.12" r="1.55" fill="none" stroke="#8e74ab" stroke-width="0.75"/>
<circle cx="79.12" cy="256.05" r="1.55" fill="none" stroke="#8e74ab" stroke-width="0.75"/>
<circle cx="79.12" cy="381.94" r="1.55" fill="none" stroke="#8e74ab" stroke-width="0.75"/>
<circle cx="82.35" cy="256.96" r="1.55" fill="none" stroke="#8e74ab" stroke-width="0.75"/>
<circle cx="82.35" cy="381.8" r="1.55" fill="none" stroke="#8e74ab" stroke-width="0.75"/>
<circle cx="85.58" cy="257.86" r="1.55" fill="none" stroke="#8e74ab" stroke-width="0.75"/>
<circle cx="85.58" cy="381.82" r="1.55" fill="none" stroke="#8e74ab" stroke-width="0.75"/>
<circle cx="88.81" cy="258.75" r="1.55" fill="none" stroke="#8e74ab" stroke-width="0.75"/>
<circle cx="88.81" cy="381.84" r="1.55" fill="none" stroke="#8e74ab" stroke-width="0.75"/>
<circle cx="92.04" cy="259.65" r="1.55" fill="none" stroke="#8e74ab" stroke-width="0.75"/>
<circle cx="92.04" cy="381.86" r="1.55" fill="none" stroke="#8e74ab" stroke-width="0.75"/>
<circle cx="95.27" cy="260.54" r="1.55" fill="none" stroke="#8e74ab" stroke-width="0.75"/>
<circle cx="95.27" cy="381.88" r="1.55" fill="none" stroke="#8e74ab" stroke-width="0.75"/>
<circle cx="98.5" cy="261.45" r="1.55" fill="none" stroke="#8e74ab" stroke-width="0.75"/>
<circle cx="98.5" cy="381.9" r="1.55" fill="none" stroke="#8e74ab" stroke-width="0.75"/>
<circle cx="101.73" cy="262.37" r="1.55" fill="none" stroke="#8e74ab" stroke-width="0.75"/>
<circle cx="101.73" cy="381.92" r="1.55" fill="none" stroke="#8e74ab" stroke-width="0.75"/>
<circle cx="104.96" cy="263.32" r="1.55" fill="none" stroke="#8e74ab" stroke-width="0.75"/>
<circle cx="104.96" cy="381.94" r="1.55" fill="none" stroke="#8e74ab" stroke-width="0.75"/>
<circle cx="108.2" cy="264.29" r="1.55" fill="none" stroke="#8e74ab" stroke-width="0.75"/>
<circle cx="108.2" cy="381.96" r="1.55" fill="none" stroke="#8e74ab" stroke-width="0.75"/>
<circle cx="111.43" cy="265.29" r="1.55" fill="none" stroke="#8e74ab" stroke-width="0.75"/>
<circle cx="111.43" cy="381.98" r="1.55" fill="none" stroke="#8e74ab" stroke-width="0.75"/>
<circle cx="114.66" cy="266.37" r="1.55" fill="none" stroke="#8e74ab" stroke-width="0.75"/>
<circle cx="114.66" cy="382.05" r="1.55" fill="none" stroke="#8e74ab" stroke-width="0.75"/>
<circle cx="117.89" cy="267.59" r="1.55" fill="none" stroke="#8e74ab" stroke-width="0.75"/>
<circle cx="117.89" cy="382.27" r="1.55" fill="none" stroke="#8e74ab" stroke-width="0.75"/>
<circle cx="121.12" cy="268.86" r="1.55" fill="none" stroke="#8e74ab" stroke-width="0.75"/>
<circle cx="121.12" cy="382.5" r="1.55" fill="none" stroke="#8e74ab" stroke-width="0.75"/>
<circle cx="124.35" cy="270.19" r="1.55" fill="none" stroke="#8e74ab" stroke-width="0.75"/>
<circle cx="124.35" cy="382.72" r="1.55" fill="none" stroke="#8e74ab" stroke-width="0.75"/>
<circle cx="127.58" cy="271.58" r="1.55" fill="none" stroke="#8e74ab" stroke-width="0.75"/>
<circle cx="127.58" cy="382.95" r="1.55" fill="none" stroke="#8e74ab" stroke-width="0.75"/>
<circle cx="130.81" cy="273.04" r="1.55" fill="none" stroke="#8e74ab" stroke-width="0.75"/>
<circle cx="130.81" cy="383.17" r="1.55" fill="none" stroke="#8e74ab" stroke-width="0.75"/>
<circle cx="134.04" cy="274.57" r="1.55" fill="none" stroke="#8e74ab" stroke-width="0.75"/>
<circle cx="134.04" cy="383.4" r="1.55" fill="none" stroke="#8e74ab" stroke-width="0.75"/>
<circle cx="137.27" cy="276.17" r="1.55" fill="none" stroke="#8e74ab" stroke-width="0.75"/>
<circle cx="137.27" cy="383.62" r="1.55" fill="none" stroke="#8e74ab" stroke-width="0.75"/>
<circle cx="140.51" cy="277.83" r="1.55" fill="none" stroke="#8e74ab" stroke-width="0.75"/>
<circle cx="140.51" cy="383.85" r="1.55" fill="none" stroke="#8e74ab" stroke-width="0.75"/>
<circle cx="143.74" cy="279.54" r="1.55" fill="none" stroke="#8e74ab" stroke-width="0.75"/>
<circle cx="143.74" cy="384" r="1.55" fill="none" stroke="#8e74ab" stroke-width="0.75"/>
<circle cx="146.97" cy="281.26" r="1.55" fill="none" stroke="#8e74ab" stroke-width="0.75"/>
<circle cx="146.97" cy="384.02" r="1.55" fill="none" stroke="#8e74ab" stroke-width="0.75"/>
<circle cx="150.2" cy="283.04" r="1.55" fill="none" stroke="#8e74ab" stroke-width="0.75"/>
<circle cx="150.2" cy="384.03" r="1.55" fill="none" stroke="#8e74ab" stroke-width="0.75"/>
<circle cx="153.43" cy="284.88" r="1.55" fill="none" stroke="#8e74ab" stroke-width="0.75"/>
<circle cx="153.43" cy="384.05" r="1.55" fill="none" stroke="#8e74ab" stroke-width="0.75"/>
<circle cx="156.66" cy="286.78" r="1.55" fill="none" stroke="#8e74ab" stroke-width="0.75"/>
<circle cx="156.66" cy="384.06" r="1.55" fill="none" stroke="#8e74ab" stroke-width="0.75"/>
<circle cx="159.89" cy="288.73" r="1.55" fill="none" stroke="#8e74ab" stroke-width="0.75"/>
<circle cx="159.89" cy="384.08" r="1.55" fill="none" stroke="#8e74ab" stroke-width="0.75"/>
<circle cx="163.12" cy="290.75" r="1.55" fill="none" stroke="#8e74ab" stroke-width="0.75"/>
<circle cx="163.12" cy="384.09" r="1.55" fill="none" stroke="#8e74ab" stroke-width="0.75"/>
<circle cx="166.35" cy="292.72" r="1.55" fill="none" stroke="#8e74ab" stroke-width="0.75"/>
<circle cx="166.35" cy="384.11" r="1.55" fill="none" stroke="#8e74ab" stroke-width="0.75"/>
<circle cx="169.58" cy="294.71" r="1.55" fill="none" stroke="#8e74ab" stroke-width="0.75"/>
<circle cx="169.58" cy="384.12" r="1.55" fill="none" stroke="#8e74ab" stroke-width="0.75"/>
<circle cx="172.82" cy="296.74" r="1.55" fill="none" stroke="#8e74ab" stroke-width="0.75"/>
<circle cx="172.82" cy="384.14" r="1.55" fill="none" stroke="#8e74ab" stroke-width="0.75"/>
<circle cx="176.05" cy="298.83" r="1.55" fill="none" stroke="#8e74ab" stroke-width="0.75"/>
<circle cx="176.05" cy="384.15" r="1.55" fill="none" stroke="#8e74ab" stroke-width="0.75"/>
<circle cx="179.28" cy="300.96" r="1.55" fill="none" stroke="#8e74ab" stroke-width="0.75"/>
<circle cx="179.28" cy="384.17" r="1.55" fill="none" stroke="#8e74ab" stroke-width="0.75"/>
<circle cx="182.51" cy="303.14" r="1.55" fill="none" stroke="#8e74ab" stroke-width="0.75"/>
<circle cx="182.51" cy="384.19" r="1.55" fill="none" stroke="#8e74ab" stroke-width="0.75"/>
<circle cx="185.74" cy="305.36" r="1.55" fill="none" stroke="#8e74ab" stroke-width="0.75"/>
<circle cx="185.74" cy="384.2" r="1.55" fill="none" stroke="#8e74ab" stroke-width="0.75"/>
<circle cx="188.97" cy="307.51" r="1.55" fill="none" stroke="#8e74ab" stroke-width="0.75"/>
<circle cx="188.97" cy="384.11" r="1.55" fill="none" stroke="#8e74ab" stroke-width="0.75"/>
<circle cx="192.2" cy="309.68" r="1.55" fill="none" stroke="#8e74ab" stroke-width="0.75"/>
<circle cx="192.2" cy="384.02" r="1.55" fill="none" stroke="#8e74ab" stroke-width="0.75"/>
<circle cx="195.43" cy="311.89" r="1.55" fill="none" stroke="#8e74ab" stroke-width="0.75"/>
<circle cx="195.43" cy="383.93" r="1.55" fill="none" stroke="#8e74ab" stroke-width="0.75"/>
<circle cx="198.66" cy="314.11" r="1.55" fill="none" stroke="#8e74ab" stroke-width="0.75"/>
<circle cx="198.66" cy="383.84" r="1.55" fill="none" stroke="#8e74ab" stroke-width="0.75"/>
<circle cx="201.89" cy="316.34" r="1.55" fill="none" stroke="#8e74ab" stroke-width="0.75"/>
<circle cx="201.89" cy="383.75" r="1.55" fill="none" stroke="#8e74ab" stroke-width="0.75"/>
<circle cx="205.13" cy="318.58" r="1.55" fill="none" stroke="#8e74ab" stroke-width="0.75"/>
<circle cx="205.13" cy="383.66" r="1.55" fill="none" stroke="#8e74ab" stroke-width="0.75"/>
<circle cx="208.36" cy="320.83" r="1.55" fill="none" stroke="#8e74ab" stroke-width="0.75"/>
<circle cx="208.36" cy="383.57" r="1.55" fill="none" stroke="#8e74ab" stroke-width="0.75"/>
<circle cx="211.59" cy="323.07" r="1.55" fill="none" stroke="#8e74ab" stroke-width="0.75"/>
<circle cx="211.59" cy="383.48" r="1.55" fill="none" stroke="#8e74ab" stroke-width="0.75"/>
<circle cx="214.82" cy="325.31" r="1.55" fill="none" stroke="#8e74ab" stroke-width="0.75"/>
<circle cx="214.82" cy="383.39" r="1.55" fill="none" stroke="#8e74ab" stroke-width="0.75"/>
<circle cx="218.05" cy="327.53" r="1.55" fill="none" stroke="#8e74ab" stroke-width="0.75"/>
<circle cx="218.05" cy="383.3" r="1.55" fill="none" stroke="#8e74ab" stroke-width="0.75"/>
<circle cx="221.28" cy="329.71" r="1.55" fill="none" stroke="#8e74ab" stroke-width="0.75"/>
<circle cx="221.28" cy="383.21" r="1.55" fill="none" stroke="#8e74ab" stroke-width="0.75"/>
<circle cx="224.51" cy="331.86" r="1.55" fill="none" stroke="#8e74ab" stroke-width="0.75"/>
<circle cx="224.51" cy="383.25" r="1.55" fill="none" stroke="#8e74ab" stroke-width="0.75"/>
<circle cx="227.74" cy="333.96" r="1.55" fill="none" stroke="#8e74ab" stroke-width="0.75"/>
<circle cx="227.74" cy="383.3" r="1.55" fill="none" stroke="#8e74ab" stroke-width="0.75"/>
<circle cx="230.97" cy="336.14" r="1.55" fill="none" stroke="#8e74ab" stroke-width="0.75"/>
<circle cx="230.97" cy="383.36" r="1.55" fill="none" stroke="#8e74ab" stroke-width="0.75"/>
<circle cx="234.2" cy="338.33" r="1.55" fill="none" stroke="#8e74ab" stroke-width="0.75"/>
<circle cx="234.2" cy="383.41" r="1.55" fill="none" stroke="#8e74ab" stroke-width="0.75"/>
<circle cx="237.44" cy="340.43" r="1.55" fill="none" stroke="#8e74ab" stroke-width="0.75"/>
<circle cx="237.44" cy="383.46" r="1.55" fill="none" stroke="#8e74ab" stroke-width="0.75"/>
<circle cx="240.67" cy="342.44" r="1.55" fill="none" stroke="#8e74ab" stroke-width="0.75"/>
<circle cx="240.67" cy="383.52" r="1.55" fill="none" stroke="#8e74ab" stroke-width="0.75"/>
<circle cx="243.9" cy="344.34" r="1.55" fill="none" stroke="#8e74ab" stroke-width="0.75"/>
<circle cx="243.9" cy="383.57" r="1.55" fill="none" stroke="#8e74ab" stroke-width="0.75"/>
<circle cx="247.13" cy="346.13" r="1.55" fill="none" stroke="#8e74ab" stroke-width="0.75"/>
<circle cx="247.13" cy="383.63" r="1.55" fill="none" stroke="#8e74ab" stroke-width="0.75"/>
<circle cx="250.36" cy="347.8" r="1.55" fill="none" stroke="#8e74ab" stroke-width="0.75"/>
<circle cx="250.36" cy="383.68" r="1.55" fill="none" stroke="#8e74ab" stroke-width="0.75"/>
<circle cx="253.59" cy="349.33" r="1.55" fill="none" stroke="#8e74ab" stroke-width="0.75"/>
<circle cx="253.59" cy="383.73" r="1.55" fill="none" stroke="#8e74ab" stroke-width="0.75"/>
<circle cx="256.82" cy="350.75" r="1.55" fill="none" stroke="#8e74ab" stroke-width="0.75"/>
<circle cx="256.82" cy="383.79" r="1.55" fill="none" stroke="#8e74ab" stroke-width="0.75"/>
<circle cx="260.05" cy="352.05" r="1.55" fill="none" stroke="#8e74ab" stroke-width="0.75"/>
<circle cx="260.05" cy="383.73" r="1.55" fill="none" stroke="#8e74ab" stroke-width="0.75"/>
<circle cx="263.28" cy="353.24" r="1.55" fill="none" stroke="#8e74ab" stroke-width="0.75"/>
<circle cx="263.28" cy="383.64" r="1.55" fill="none" stroke="#8e74ab" stroke-width="0.75"/>
<circle cx="266.51" cy="354.32" r="1.55" fill="none" stroke="#8e74ab" stroke-width="0.75"/>
<circle cx="266.51" cy="383.55" r="1.55" fill="none" stroke="#8e74ab" stroke-width="0.75"/>
<circle cx="269.75" cy="355.3" r="1.55" fill="none" stroke="#8e74ab" stroke-width="0.75"/>
<circle cx="269.75" cy="383.46" r="1.55" fill="none" stroke="#8e74ab" stroke-width="0.75"/>
<circle cx="272.98" cy="356.17" r="1.55" fill="none" stroke="#8e74ab" stroke-width="0.75"/>
<circle cx="272.98" cy="383.37" r="1.55" fill="none" stroke="#8e74ab" stroke-width="0.75"/>
<circle cx="276.21" cy="356.91" r="1.55" fill="none" stroke="#8e74ab" stroke-width="0.75"/>
<circle cx="276.21" cy="383.28" r="1.55" fill="none" stroke="#8e74ab" stroke-width="0.75"/>
<circle cx="279.44" cy="357.57" r="1.55" fill="none" stroke="#8e74ab" stroke-width="0.75"/>
<circle cx="279.44" cy="383.19" r="1.55" fill="none" stroke="#8e74ab" stroke-width="0.75"/>
<circle cx="282.67" cy="358.15" r="1.55" fill="none" stroke="#8e74ab" stroke-width="0.75"/>
<circle cx="282.67" cy="383.1" r="1.55" fill="none" stroke="#8e74ab" stroke-width="0.75"/>
<circle cx="285.9" cy="358.65" r="1.55" fill="none" stroke="#8e74ab" stroke-width="0.75"/>
<circle cx="285.9" cy="383.01" r="1.55" fill="none" stroke="#8e74ab" stroke-width="0.75"/>
<circle cx="289.13" cy="359.09" r="1.55" fill="none" stroke="#8e74ab" stroke-width="0.75"/>
<circle cx="289.13" cy="382.92" r="1.55" fill="none" stroke="#8e74ab" stroke-width="0.75"/>
<circle cx="292.36" cy="359.47" r="1.55" fill="none" stroke="#8e74ab" stroke-width="0.75"/>
<circle cx="292.36" cy="382.83" r="1.55" fill="none" stroke="#8e74ab" stroke-width="0.75"/>
<circle cx="295.59" cy="359.8" r="1.55" fill="none" stroke="#8e74ab" stroke-width="0.75"/>
<circle cx="295.59" cy="382.82" r="1.55" fill="none" stroke="#8e74ab" stroke-width="0.75"/>
<circle cx="298.82" cy="360.07" r="1.55" fill="none" stroke="#8e74ab" stroke-width="0.75"/>
<circle cx="298.82" cy="382.85" r="1.55" fill="none" stroke="#8e74ab" stroke-width="0.75"/>
<circle cx="302.06" cy="360.29" r="1.55" fill="none" stroke="#8e74ab" stroke-width="0.75"/>
<circle cx="302.06" cy="382.89" r="1.55" fill="none" stroke="#8e74ab" stroke-width="0.75"/>
<circle cx="305.29" cy="360.48" r="1.55" fill="none" stroke="#8e74ab" stroke-width="0.75"/>
<circle cx="305.29" cy="382.92" r="1.55" fill="none" stroke="#8e74ab" stroke-width="0.75"/>
<circle cx="308.52" cy="360.63" r="1.55" fill="none" stroke="#8e74ab" stroke-width="0.75"/>
<circle cx="308.52" cy="382.95" r="1.55" fill="none" stroke="#8e74ab" stroke-width="0.75"/>
<circle cx="311.75" cy="360.76" r="1.55" fill="none" stroke="#8e74ab" stroke-width="0.75"/>
<circle cx="311.75" cy="382.99" r="1.55" fill="none" stroke="#8e74ab" stroke-width="0.75"/>
<circle cx="314.98" cy="360.86" r="1.55" fill="none" stroke="#8e74ab" stroke-width="0.75"/>
<circle cx="314.98" cy="383.02" r="1.55" fill="none" stroke="#8e74ab" stroke-width="0.75"/>
<circle cx="318.21" cy="360.94" r="1.55" fill="none" stroke="#8e74ab" stroke-width="0.75"/>
<circle cx="318.21" cy="383.05" r="1.55" fill="none" stroke="#8e74ab" stroke-width="0.75"/>
<circle cx="321.44" cy="361.01" r="1.55" fill="none" stroke="#8e74ab" stroke-width="0.75"/>
<circle cx="321.44" cy="383.08" r="1.55" fill="none" stroke="#8e74ab" stroke-width="0.75"/>
<circle cx="324.67" cy="361.08" r="1.55" fill="none" stroke="#8e74ab" stroke-width="0.75"/>
<circle cx="324.67" cy="383.12" r="1.55" fill="none" stroke="#8e74ab" stroke-width="0.75"/>
<circle cx="327.9" cy="361.14" r="1.55" fill="none" stroke="#8e74ab" stroke-width="0.75"/>
<circle cx="327.9" cy="383.15" r="1.55" fill="none" stroke="#8e74ab" stroke-width="0.75"/>
<circle cx="331.13" cy="361.2" r="1.55" fill="none" stroke="#8e74ab" stroke-width="0.75"/>
<circle cx="331.13" cy="383.18" r="1.55" fill="none" stroke="#8e74ab" stroke-width="0.75"/>
<text x="20.2" y="310.3" font-size="14.5" fill="#111" text-anchor="middle" transform="rotate(-90 20.2 310.3)" dy="5">Amplitude</text>
<text x="15.8" y="394.8" font-size="9.3" fill="#111" text-anchor="middle" transform="rotate(-90 15.8 394.8)" dy="3.3">Residual</text>
<text x="229" y="262.3" font-size="10" fill="#b22a22" font-weight="bold">WT</text>
<text x="229" y="273.7" font-size="9.85" fill="#5a1f6a" font-weight="bold">WT + geldanamycin</text>
<text x="46" y="449.3" font-size="14.5" fill="#111">10<tspan font-size="10" dy="-9">2</tspan></text>
<text x="117.8" y="449.3" font-size="14.5" fill="#111">10<tspan font-size="10" dy="-9">3</tspan></text>
<text x="189.6" y="449.3" font-size="14.5" fill="#111">10<tspan font-size="10" dy="-9">4</tspan></text>
<text x="261.4" y="449.3" font-size="14.5" fill="#111">10<tspan font-size="10" dy="-9">5</tspan></text>
<text x="163.5" y="461.4" font-size="14.5" fill="#111">Time (µs)</text>
<text x="12" y="457.8" font-size="11" fill="#111">d</text>
<line x1="66.2" y1="477.3" x2="319.8" y2="477.3" stroke="#848484" stroke-width="1"/>
<line x1="66.2" y1="477.3" x2="66.2" y2="649" stroke="#848484" stroke-width="1"/>
<line x1="319.8" y1="477.3" x2="319.8" y2="649" stroke="#848484" stroke-width="1"/>
<line x1="66.2" y1="649" x2="319.8" y2="649" stroke="#848484" stroke-width="1"/>
<line x1="66.2" y1="586.2" x2="319.8" y2="586.2" stroke="#848484" stroke-width="1"/>
<text transform="matrix(0.97 0 0 1.1 63.7 590.95)" font-size="13.5" fill="#111" text-anchor="end">0.0</text>
<line x1="66.2" y1="565.02" x2="70.2" y2="565.02" stroke="#848484" stroke-width="1"/>
<text transform="matrix(0.97 0 0 1.1 63.7 569.77)" font-size="13.5" fill="#111" text-anchor="end">0.2</text>
<line x1="66.2" y1="543.84" x2="70.2" y2="543.84" stroke="#848484" stroke-width="1"/>
<text transform="matrix(0.97 0 0 1.1 63.7 548.59)" font-size="13.5" fill="#111" text-anchor="end">0.4</text>
<line x1="66.2" y1="522.66" x2="70.2" y2="522.66" stroke="#848484" stroke-width="1"/>
<text transform="matrix(0.97 0 0 1.1 63.7 527.41)" font-size="13.5" fill="#111" text-anchor="end">0.6</text>
<line x1="66.2" y1="501.48" x2="70.2" y2="501.48" stroke="#848484" stroke-width="1"/>
<text transform="matrix(0.97 0 0 1.1 63.7 506.23)" font-size="13.5" fill="#111" text-anchor="end">0.8</text>
<text transform="matrix(0.97 0 0 1.1 63.7 485.05)" font-size="13.5" fill="#111" text-anchor="end">1.0</text>
<line x1="66.2" y1="601.3" x2="70.2" y2="601.3" stroke="#848484" stroke-width="1"/>
<text x="64.2" y="603.82" font-size="7" fill="#111" text-anchor="end">0.10</text>
<line x1="66.2" y1="608" x2="70.2" y2="608" stroke="#848484" stroke-width="1"/>
<text x="64.2" y="610.52" font-size="7" fill="#111" text-anchor="end">0.00</text>
<line x1="66.2" y1="615.2" x2="70.2" y2="615.2" stroke="#848484" stroke-width="1"/>
<text x="64.2" y="617.72" font-size="7" fill="#111" text-anchor="end">-0.10</text>
<line x1="66.2" y1="627.5" x2="70.2" y2="627.5" stroke="#848484" stroke-width="1"/>
<text x="64.2" y="630.02" font-size="7" fill="#111" text-anchor="end">0.1</text>
<line x1="66.2" y1="633.8" x2="70.2" y2="633.8" stroke="#848484" stroke-width="1"/>
<text x="64.2" y="636.32" font-size="7" fill="#111" text-anchor="end">0.0</text>
<line x1="66.2" y1="640.9" x2="70.2" y2="640.9" stroke="#848484" stroke-width="1"/>
<text x="64.2" y="643.42" font-size="7" fill="#111" text-anchor="end">-0.1</text>
<line x1="66.2" y1="597.3" x2="70.2" y2="597.3" stroke="#848484" stroke-width="1"/>
<text x="64.2" y="599.82" font-size="7" fill="#111" text-anchor="end"></text>
<line x1="66.2" y1="649" x2="66.2" y2="644.5" stroke="#848484" stroke-width="1"/>
<line x1="86.04" y1="649" x2="86.04" y2="646.7" stroke="#848484" stroke-width="1"/>
<line x1="97.64" y1="649" x2="97.64" y2="646.7" stroke="#848484" stroke-width="1"/>
<line x1="105.88" y1="649" x2="105.88" y2="646.7" stroke="#848484" stroke-width="1"/>
<line x1="112.26" y1="649" x2="112.26" y2="646.7" stroke="#848484" stroke-width="1"/>
<line x1="117.48" y1="649" x2="117.48" y2="646.7" stroke="#848484" stroke-width="1"/>
<line x1="121.89" y1="649" x2="121.89" y2="646.7" stroke="#848484" stroke-width="1"/>
<line x1="125.71" y1="649" x2="125.71" y2="646.7" stroke="#848484" stroke-width="1"/>
<line x1="129.08" y1="649" x2="129.08" y2="646.7" stroke="#848484" stroke-width="1"/>
<line x1="132.1" y1="649" x2="132.1" y2="644.5" stroke="#848484" stroke-width="1"/>
<line x1="151.94" y1="649" x2="151.94" y2="646.7" stroke="#848484" stroke-width="1"/>
<line x1="163.54" y1="649" x2="163.54" y2="646.7" stroke="#848484" stroke-width="1"/>
<line x1="171.78" y1="649" x2="171.78" y2="646.7" stroke="#848484" stroke-width="1"/>
<line x1="178.16" y1="649" x2="178.16" y2="646.7" stroke="#848484" stroke-width="1"/>
<line x1="183.38" y1="649" x2="183.38" y2="646.7" stroke="#848484" stroke-width="1"/>
<line x1="187.79" y1="649" x2="187.79" y2="646.7" stroke="#848484" stroke-width="1"/>
<line x1="191.61" y1="649" x2="191.61" y2="646.7" stroke="#848484" stroke-width="1"/>
<line x1="194.98" y1="649" x2="194.98" y2="646.7" stroke="#848484" stroke-width="1"/>
<line x1="198" y1="649" x2="198" y2="644.5" stroke="#848484" stroke-width="1"/>
<line x1="217.84" y1="649" x2="217.84" y2="646.7" stroke="#848484" stroke-width="1"/>
<line x1="229.44" y1="649" x2="229.44" y2="646.7" stroke="#848484" stroke-width="1"/>
<line x1="237.68" y1="649" x2="237.68" y2="646.7" stroke="#848484" stroke-width="1"/>
<line x1="244.06" y1="649" x2="244.06" y2="646.7" stroke="#848484" stroke-width="1"/>
<line x1="249.28" y1="649" x2="249.28" y2="646.7" stroke="#848484" stroke-width="1"/>
<line x1="253.69" y1="649" x2="253.69" y2="646.7" stroke="#848484" stroke-width="1"/>
<line x1="257.51" y1="649" x2="257.51" y2="646.7" stroke="#848484" stroke-width="1"/>
<line x1="260.88" y1="649" x2="260.88" y2="646.7" stroke="#848484" stroke-width="1"/>
<line x1="263.9" y1="649" x2="263.9" y2="644.5" stroke="#848484" stroke-width="1"/>
<line x1="283.74" y1="649" x2="283.74" y2="646.7" stroke="#848484" stroke-width="1"/>
<line x1="295.34" y1="649" x2="295.34" y2="646.7" stroke="#848484" stroke-width="1"/>
<line x1="303.58" y1="649" x2="303.58" y2="646.7" stroke="#848484" stroke-width="1"/>
<line x1="309.96" y1="649" x2="309.96" y2="646.7" stroke="#848484" stroke-width="1"/>
<line x1="315.18" y1="649" x2="315.18" y2="646.7" stroke="#848484" stroke-width="1"/>
<path d="M66.2,479.75 L67.8,481.08 L69.39,482.42 L70.99,483.75 L72.58,485.08 L74.18,486.42 L75.77,487.75 L77.37,489.07 L78.97,490.4 L80.56,491.73 L82.16,493.05 L83.75,494.37 L85.35,495.69 L86.94,497.01 L88.54,498.32 L90.14,499.63 L91.73,500.93 L93.33,502.24 L94.92,503.54 L96.52,504.83 L98.11,506.12 L99.71,507.41 L101.31,508.69 L102.9,509.97 L104.5,511.24 L106.09,512.5 L107.69,513.76 L109.28,515.02 L110.88,516.27 L112.48,517.51 L114.07,518.74 L115.67,519.97 L117.26,521.2 L118.86,522.41 L120.45,523.62 L122.05,524.82 L123.64,526.01 L125.24,527.2 L126.84,528.38 L128.43,529.54 L130.03,530.7 L131.62,531.85 L133.22,533 L134.81,534.13 L136.41,535.25 L138.01,536.36 L139.6,537.47 L141.2,538.56 L142.79,539.64 L144.39,540.72 L145.98,541.78 L147.58,542.83 L149.18,543.87 L150.77,544.9 L152.37,545.91 L153.96,546.92 L155.56,547.91 L157.15,548.89 L158.75,549.86 L160.35,550.81 L161.94,551.75 L163.54,552.68 L165.13,553.6 L166.73,554.5 L168.32,555.38 L169.92,556.26 L171.52,557.12 L173.11,557.96 L174.71,558.79 L176.3,559.61 L177.9,560.41 L179.49,561.19 L181.09,561.96 L182.69,562.71 L184.28,563.45 L185.88,564.17 L187.47,564.88 L189.07,565.56 L190.66,566.24 L192.26,566.89 L193.86,567.53 L195.45,568.15 L197.05,568.76 L198.64,569.35 L200.24,569.92 L201.83,570.48 L203.43,571.02 L205.03,571.55 L206.62,572.07 L208.22,572.57 L209.81,573.05 L211.41,573.52 L213,573.98 L214.6,574.43 L216.2,574.86 L217.79,575.27 L219.39,575.68 L220.98,576.07 L222.58,576.44 L224.17,576.81 L225.77,577.16 L227.36,577.5 L228.96,577.83 L230.56,578.15 L232.15,578.45 L233.75,578.75 L235.34,579.03 L236.94,579.3 L238.53,579.56 L240.13,579.81 L241.73,580.05 L243.32,580.28 L244.92,580.5 L246.51,580.71 L248.11,580.92 L249.7,581.11 L251.3,581.29 L252.9,581.46 L254.49,581.63 L256.09,581.78 L257.68,581.93 L259.28,582.07 L260.87,582.2 L262.47,582.32 L264.07,582.44 L265.66,582.55 L267.26,582.65 L268.85,582.74 L270.45,582.83 L272.04,582.91 L273.64,582.98 L275.24,583.05 L276.83,583.11 L278.43,583.17 L280.02,583.22 L281.62,583.27 L283.21,583.31 L284.81,583.34 L286.41,583.37 L288,583.4 L289.6,583.42 L291.19,583.44 L292.79,583.45 L294.38,583.46 L295.98,583.46 L297.58,583.47 L299.17,583.47 L300.77,583.46 L302.36,583.45 L303.96,583.44 L305.55,583.43 L307.15,583.42 L308.75,583.4 L310.34,583.38 L311.94,583.37" fill="none" stroke="#dd2a22" stroke-width="1.2"/>
<line x1="66.2" y1="634" x2="313" y2="634" stroke="#dd2a22" stroke-width="0.9"/>
<circle cx="66.2" cy="479.75" r="1.55" fill="none" stroke="#e8837a" stroke-width="0.75"/>
<circle cx="66.2" cy="634" r="1.55" fill="none" stroke="#e8837a" stroke-width="0.75"/>
<circle cx="69.23" cy="481.61" r="1.55" fill="none" stroke="#e8837a" stroke-width="0.75"/>
<circle cx="69.23" cy="633.72" r="1.55" fill="none" stroke="#e8837a" stroke-width="0.75"/>
<circle cx="72.26" cy="483.47" r="1.55" fill="none" stroke="#e8837a" stroke-width="0.75"/>
<circle cx="72.26" cy="633.45" r="1.55" fill="none" stroke="#e8837a" stroke-width="0.75"/>
<circle cx="75.29" cy="485.32" r="1.55" fill="none" stroke="#e8837a" stroke-width="0.75"/>
<circle cx="75.29" cy="633.17" r="1.55" fill="none" stroke="#e8837a" stroke-width="0.75"/>
<circle cx="78.33" cy="487.69" r="1.55" fill="none" stroke="#e8837a" stroke-width="0.75"/>
<circle cx="78.33" cy="632.9" r="1.55" fill="none" stroke="#e8837a" stroke-width="0.75"/>
<circle cx="81.36" cy="490.22" r="1.55" fill="none" stroke="#e8837a" stroke-width="0.75"/>
<circle cx="81.36" cy="632.62" r="1.55" fill="none" stroke="#e8837a" stroke-width="0.75"/>
<circle cx="84.39" cy="492.75" r="1.55" fill="none" stroke="#e8837a" stroke-width="0.75"/>
<circle cx="84.39" cy="632.34" r="1.55" fill="none" stroke="#e8837a" stroke-width="0.75"/>
<circle cx="87.42" cy="495.27" r="1.55" fill="none" stroke="#e8837a" stroke-width="0.75"/>
<circle cx="87.42" cy="632.21" r="1.55" fill="none" stroke="#e8837a" stroke-width="0.75"/>
<circle cx="90.45" cy="497.78" r="1.55" fill="none" stroke="#e8837a" stroke-width="0.75"/>
<circle cx="90.45" cy="632.24" r="1.55" fill="none" stroke="#e8837a" stroke-width="0.75"/>
<circle cx="93.48" cy="500.28" r="1.55" fill="none" stroke="#e8837a" stroke-width="0.75"/>
<circle cx="93.48" cy="632.27" r="1.55" fill="none" stroke="#e8837a" stroke-width="0.75"/>
<circle cx="96.51" cy="502.77" r="1.55" fill="none" stroke="#e8837a" stroke-width="0.75"/>
<circle cx="96.51" cy="632.3" r="1.55" fill="none" stroke="#e8837a" stroke-width="0.75"/>
<circle cx="99.55" cy="505.23" r="1.55" fill="none" stroke="#e8837a" stroke-width="0.75"/>
<circle cx="99.55" cy="632.32" r="1.55" fill="none" stroke="#e8837a" stroke-width="0.75"/>
<circle cx="102.58" cy="507.68" r="1.55" fill="none" stroke="#e8837a" stroke-width="0.75"/>
<circle cx="102.58" cy="632.35" r="1.55" fill="none" stroke="#e8837a" stroke-width="0.75"/>
<circle cx="105.61" cy="510.12" r="1.55" fill="none" stroke="#e8837a" stroke-width="0.75"/>
<circle cx="105.61" cy="632.38" r="1.55" fill="none" stroke="#e8837a" stroke-width="0.75"/>
<circle cx="108.64" cy="512.6" r="1.55" fill="none" stroke="#e8837a" stroke-width="0.75"/>
<circle cx="108.64" cy="632.41" r="1.55" fill="none" stroke="#e8837a" stroke-width="0.75"/>
<circle cx="111.67" cy="515.06" r="1.55" fill="none" stroke="#e8837a" stroke-width="0.75"/>
<circle cx="111.67" cy="632.43" r="1.55" fill="none" stroke="#e8837a" stroke-width="0.75"/>
<circle cx="114.7" cy="517.5" r="1.55" fill="none" stroke="#e8837a" stroke-width="0.75"/>
<circle cx="114.7" cy="632.46" r="1.55" fill="none" stroke="#e8837a" stroke-width="0.75"/>
<circle cx="117.73" cy="519.92" r="1.55" fill="none" stroke="#e8837a" stroke-width="0.75"/>
<circle cx="117.73" cy="632.49" r="1.55" fill="none" stroke="#e8837a" stroke-width="0.75"/>
<circle cx="120.77" cy="522.31" r="1.55" fill="none" stroke="#e8837a" stroke-width="0.75"/>
<circle cx="120.77" cy="632.62" r="1.55" fill="none" stroke="#e8837a" stroke-width="0.75"/>
<circle cx="123.8" cy="524.67" r="1.55" fill="none" stroke="#e8837a" stroke-width="0.75"/>
<circle cx="123.8" cy="632.81" r="1.55" fill="none" stroke="#e8837a" stroke-width="0.75"/>
<circle cx="126.83" cy="527.01" r="1.55" fill="none" stroke="#e8837a" stroke-width="0.75"/>
<circle cx="126.83" cy="633" r="1.55" fill="none" stroke="#e8837a" stroke-width="0.75"/>
<circle cx="129.86" cy="529.31" r="1.55" fill="none" stroke="#e8837a" stroke-width="0.75"/>
<circle cx="129.86" cy="633.2" r="1.55" fill="none" stroke="#e8837a" stroke-width="0.75"/>
<circle cx="132.89" cy="531.58" r="1.55" fill="none" stroke="#e8837a" stroke-width="0.75"/>
<circle cx="132.89" cy="633.39" r="1.55" fill="none" stroke="#e8837a" stroke-width="0.75"/>
<circle cx="135.92" cy="533.81" r="1.55" fill="none" stroke="#e8837a" stroke-width="0.75"/>
<circle cx="135.92" cy="633.58" r="1.55" fill="none" stroke="#e8837a" stroke-width="0.75"/>
<circle cx="138.95" cy="536" r="1.55" fill="none" stroke="#e8837a" stroke-width="0.75"/>
<circle cx="138.95" cy="633.78" r="1.55" fill="none" stroke="#e8837a" stroke-width="0.75"/>
<circle cx="141.98" cy="538.16" r="1.55" fill="none" stroke="#e8837a" stroke-width="0.75"/>
<circle cx="141.98" cy="633.97" r="1.55" fill="none" stroke="#e8837a" stroke-width="0.75"/>
<circle cx="145.02" cy="540.28" r="1.55" fill="none" stroke="#e8837a" stroke-width="0.75"/>
<circle cx="145.02" cy="634.16" r="1.55" fill="none" stroke="#e8837a" stroke-width="0.75"/>
<circle cx="148.05" cy="542.36" r="1.55" fill="none" stroke="#e8837a" stroke-width="0.75"/>
<circle cx="148.05" cy="634.36" r="1.55" fill="none" stroke="#e8837a" stroke-width="0.75"/>
<circle cx="151.08" cy="544.4" r="1.55" fill="none" stroke="#e8837a" stroke-width="0.75"/>
<circle cx="151.08" cy="634.55" r="1.55" fill="none" stroke="#e8837a" stroke-width="0.75"/>
<circle cx="154.11" cy="546.39" r="1.55" fill="none" stroke="#e8837a" stroke-width="0.75"/>
<circle cx="154.11" cy="634.61" r="1.55" fill="none" stroke="#e8837a" stroke-width="0.75"/>
<circle cx="157.14" cy="548.35" r="1.55" fill="none" stroke="#e8837a" stroke-width="0.75"/>
<circle cx="157.14" cy="634.63" r="1.55" fill="none" stroke="#e8837a" stroke-width="0.75"/>
<circle cx="160.17" cy="550.18" r="1.55" fill="none" stroke="#e8837a" stroke-width="0.75"/>
<circle cx="160.17" cy="634.65" r="1.55" fill="none" stroke="#e8837a" stroke-width="0.75"/>
<circle cx="163.2" cy="551.92" r="1.55" fill="none" stroke="#e8837a" stroke-width="0.75"/>
<circle cx="163.2" cy="634.67" r="1.55" fill="none" stroke="#e8837a" stroke-width="0.75"/>
<circle cx="166.24" cy="553.6" r="1.55" fill="none" stroke="#e8837a" stroke-width="0.75"/>
<circle cx="166.24" cy="634.69" r="1.55" fill="none" stroke="#e8837a" stroke-width="0.75"/>
<circle cx="169.27" cy="555.24" r="1.55" fill="none" stroke="#e8837a" stroke-width="0.75"/>
<circle cx="169.27" cy="634.71" r="1.55" fill="none" stroke="#e8837a" stroke-width="0.75"/>
<circle cx="172.3" cy="556.82" r="1.55" fill="none" stroke="#e8837a" stroke-width="0.75"/>
<circle cx="172.3" cy="634.72" r="1.55" fill="none" stroke="#e8837a" stroke-width="0.75"/>
<circle cx="175.33" cy="558.36" r="1.55" fill="none" stroke="#e8837a" stroke-width="0.75"/>
<circle cx="175.33" cy="634.74" r="1.55" fill="none" stroke="#e8837a" stroke-width="0.75"/>
<circle cx="178.36" cy="559.83" r="1.55" fill="none" stroke="#e8837a" stroke-width="0.75"/>
<circle cx="178.36" cy="634.76" r="1.55" fill="none" stroke="#e8837a" stroke-width="0.75"/>
<circle cx="181.39" cy="561.26" r="1.55" fill="none" stroke="#e8837a" stroke-width="0.75"/>
<circle cx="181.39" cy="634.78" r="1.55" fill="none" stroke="#e8837a" stroke-width="0.75"/>
<circle cx="184.42" cy="562.62" r="1.55" fill="none" stroke="#e8837a" stroke-width="0.75"/>
<circle cx="184.42" cy="634.8" r="1.55" fill="none" stroke="#e8837a" stroke-width="0.75"/>
<circle cx="187.46" cy="563.93" r="1.55" fill="none" stroke="#e8837a" stroke-width="0.75"/>
<circle cx="187.46" cy="634.67" r="1.55" fill="none" stroke="#e8837a" stroke-width="0.75"/>
<circle cx="190.49" cy="565.18" r="1.55" fill="none" stroke="#e8837a" stroke-width="0.75"/>
<circle cx="190.49" cy="634.52" r="1.55" fill="none" stroke="#e8837a" stroke-width="0.75"/>
<circle cx="193.52" cy="566.3" r="1.55" fill="none" stroke="#e8837a" stroke-width="0.75"/>
<circle cx="193.52" cy="634.38" r="1.55" fill="none" stroke="#e8837a" stroke-width="0.75"/>
<circle cx="196.55" cy="567.33" r="1.55" fill="none" stroke="#e8837a" stroke-width="0.75"/>
<circle cx="196.55" cy="634.23" r="1.55" fill="none" stroke="#e8837a" stroke-width="0.75"/>
<circle cx="199.58" cy="568.31" r="1.55" fill="none" stroke="#e8837a" stroke-width="0.75"/>
<circle cx="199.58" cy="634.08" r="1.55" fill="none" stroke="#e8837a" stroke-width="0.75"/>
<circle cx="202.61" cy="569.24" r="1.55" fill="none" stroke="#e8837a" stroke-width="0.75"/>
<circle cx="202.61" cy="633.94" r="1.55" fill="none" stroke="#e8837a" stroke-width="0.75"/>
<circle cx="205.64" cy="570.11" r="1.55" fill="none" stroke="#e8837a" stroke-width="0.75"/>
<circle cx="205.64" cy="633.79" r="1.55" fill="none" stroke="#e8837a" stroke-width="0.75"/>
<circle cx="208.68" cy="570.92" r="1.55" fill="none" stroke="#e8837a" stroke-width="0.75"/>
<circle cx="208.68" cy="633.64" r="1.55" fill="none" stroke="#e8837a" stroke-width="0.75"/>
<circle cx="211.71" cy="571.69" r="1.55" fill="none" stroke="#e8837a" stroke-width="0.75"/>
<circle cx="211.71" cy="633.49" r="1.55" fill="none" stroke="#e8837a" stroke-width="0.75"/>
<circle cx="214.74" cy="572.4" r="1.55" fill="none" stroke="#e8837a" stroke-width="0.75"/>
<circle cx="214.74" cy="633.35" r="1.55" fill="none" stroke="#e8837a" stroke-width="0.75"/>
<circle cx="217.77" cy="573.07" r="1.55" fill="none" stroke="#e8837a" stroke-width="0.75"/>
<circle cx="217.77" cy="633.2" r="1.55" fill="none" stroke="#e8837a" stroke-width="0.75"/>
<circle cx="220.8" cy="573.92" r="1.55" fill="none" stroke="#e8837a" stroke-width="0.75"/>
<circle cx="220.8" cy="633.17" r="1.55" fill="none" stroke="#e8837a" stroke-width="0.75"/>
<circle cx="223.83" cy="574.72" r="1.55" fill="none" stroke="#e8837a" stroke-width="0.75"/>
<circle cx="223.83" cy="633.14" r="1.55" fill="none" stroke="#e8837a" stroke-width="0.75"/>
<circle cx="226.86" cy="575.47" r="1.55" fill="none" stroke="#e8837a" stroke-width="0.75"/>
<circle cx="226.86" cy="633.11" r="1.55" fill="none" stroke="#e8837a" stroke-width="0.75"/>
<circle cx="229.9" cy="576.19" r="1.55" fill="none" stroke="#e8837a" stroke-width="0.75"/>
<circle cx="229.9" cy="633.08" r="1.55" fill="none" stroke="#e8837a" stroke-width="0.75"/>
<circle cx="232.93" cy="576.86" r="1.55" fill="none" stroke="#e8837a" stroke-width="0.75"/>
<circle cx="232.93" cy="633.05" r="1.55" fill="none" stroke="#e8837a" stroke-width="0.75"/>
<circle cx="235.96" cy="577.49" r="1.55" fill="none" stroke="#e8837a" stroke-width="0.75"/>
<circle cx="235.96" cy="633.02" r="1.55" fill="none" stroke="#e8837a" stroke-width="0.75"/>
<circle cx="238.99" cy="578.08" r="1.55" fill="none" stroke="#e8837a" stroke-width="0.75"/>
<circle cx="238.99" cy="633.06" r="1.55" fill="none" stroke="#e8837a" stroke-width="0.75"/>
<circle cx="242.02" cy="578.63" r="1.55" fill="none" stroke="#e8837a" stroke-width="0.75"/>
<circle cx="242.02" cy="633.18" r="1.55" fill="none" stroke="#e8837a" stroke-width="0.75"/>
<circle cx="245.05" cy="579.15" r="1.55" fill="none" stroke="#e8837a" stroke-width="0.75"/>
<circle cx="245.05" cy="633.3" r="1.55" fill="none" stroke="#e8837a" stroke-width="0.75"/>
<circle cx="248.08" cy="579.62" r="1.55" fill="none" stroke="#e8837a" stroke-width="0.75"/>
<circle cx="248.08" cy="633.42" r="1.55" fill="none" stroke="#e8837a" stroke-width="0.75"/>
<circle cx="251.12" cy="580.06" r="1.55" fill="none" stroke="#e8837a" stroke-width="0.75"/>
<circle cx="251.12" cy="633.54" r="1.55" fill="none" stroke="#e8837a" stroke-width="0.75"/>
<circle cx="254.15" cy="580.46" r="1.55" fill="none" stroke="#e8837a" stroke-width="0.75"/>
<circle cx="254.15" cy="633.66" r="1.55" fill="none" stroke="#e8837a" stroke-width="0.75"/>
<circle cx="257.18" cy="580.84" r="1.55" fill="none" stroke="#e8837a" stroke-width="0.75"/>
<circle cx="257.18" cy="633.77" r="1.55" fill="none" stroke="#e8837a" stroke-width="0.75"/>
<circle cx="260.21" cy="581.18" r="1.55" fill="none" stroke="#e8837a" stroke-width="0.75"/>
<circle cx="260.21" cy="633.89" r="1.55" fill="none" stroke="#e8837a" stroke-width="0.75"/>
<circle cx="263.24" cy="581.5" r="1.55" fill="none" stroke="#e8837a" stroke-width="0.75"/>
<circle cx="263.24" cy="634.01" r="1.55" fill="none" stroke="#e8837a" stroke-width="0.75"/>
<circle cx="266.27" cy="581.79" r="1.55" fill="none" stroke="#e8837a" stroke-width="0.75"/>
<circle cx="266.27" cy="634.13" r="1.55" fill="none" stroke="#e8837a" stroke-width="0.75"/>
<circle cx="269.3" cy="582.05" r="1.55" fill="none" stroke="#e8837a" stroke-width="0.75"/>
<circle cx="269.3" cy="634.25" r="1.55" fill="none" stroke="#e8837a" stroke-width="0.75"/>
<circle cx="272.34" cy="582.29" r="1.55" fill="none" stroke="#e8837a" stroke-width="0.75"/>
<circle cx="272.34" cy="634.33" r="1.55" fill="none" stroke="#e8837a" stroke-width="0.75"/>
<circle cx="275.37" cy="582.51" r="1.55" fill="none" stroke="#e8837a" stroke-width="0.75"/>
<circle cx="275.37" cy="634.37" r="1.55" fill="none" stroke="#e8837a" stroke-width="0.75"/>
<circle cx="278.4" cy="582.7" r="1.55" fill="none" stroke="#e8837a" stroke-width="0.75"/>
<circle cx="278.4" cy="634.42" r="1.55" fill="none" stroke="#e8837a" stroke-width="0.75"/>
<circle cx="281.43" cy="582.87" r="1.55" fill="none" stroke="#e8837a" stroke-width="0.75"/>
<circle cx="281.43" cy="634.47" r="1.55" fill="none" stroke="#e8837a" stroke-width="0.75"/>
<circle cx="284.46" cy="583.02" r="1.55" fill="none" stroke="#e8837a" stroke-width="0.75"/>
<circle cx="284.46" cy="634.51" r="1.55" fill="none" stroke="#e8837a" stroke-width="0.75"/>
<circle cx="287.49" cy="583.15" r="1.55" fill="none" stroke="#e8837a" stroke-width="0.75"/>
<circle cx="287.49" cy="634.56" r="1.55" fill="none" stroke="#e8837a" stroke-width="0.75"/>
<circle cx="290.52" cy="583.27" r="1.55" fill="none" stroke="#e8837a" stroke-width="0.75"/>
<circle cx="290.52" cy="634.6" r="1.55" fill="none" stroke="#e8837a" stroke-width="0.75"/>
<circle cx="293.56" cy="583.37" r="1.55" fill="none" stroke="#e8837a" stroke-width="0.75"/>
<circle cx="293.56" cy="634.65" r="1.55" fill="none" stroke="#e8837a" stroke-width="0.75"/>
<circle cx="296.59" cy="583.46" r="1.55" fill="none" stroke="#e8837a" stroke-width="0.75"/>
<circle cx="296.59" cy="634.7" r="1.55" fill="none" stroke="#e8837a" stroke-width="0.75"/>
<circle cx="299.62" cy="583.53" r="1.55" fill="none" stroke="#e8837a" stroke-width="0.75"/>
<circle cx="299.62" cy="634.74" r="1.55" fill="none" stroke="#e8837a" stroke-width="0.75"/>
<circle cx="302.65" cy="583.6" r="1.55" fill="none" stroke="#e8837a" stroke-width="0.75"/>
<circle cx="302.65" cy="634.79" r="1.55" fill="none" stroke="#e8837a" stroke-width="0.75"/>
<circle cx="305.68" cy="583.66" r="1.55" fill="none" stroke="#e8837a" stroke-width="0.75"/>
<circle cx="305.68" cy="634.73" r="1.55" fill="none" stroke="#e8837a" stroke-width="0.75"/>
<circle cx="308.71" cy="583.7" r="1.55" fill="none" stroke="#e8837a" stroke-width="0.75"/>
<circle cx="308.71" cy="634.64" r="1.55" fill="none" stroke="#e8837a" stroke-width="0.75"/>
<circle cx="311.74" cy="583.74" r="1.55" fill="none" stroke="#e8837a" stroke-width="0.75"/>
<circle cx="311.74" cy="634.55" r="1.55" fill="none" stroke="#e8837a" stroke-width="0.75"/>
<circle cx="314.77" cy="583.78" r="1.55" fill="none" stroke="#e8837a" stroke-width="0.75"/>
<circle cx="314.77" cy="634.46" r="1.55" fill="none" stroke="#e8837a" stroke-width="0.75"/>
<circle cx="317.81" cy="583.78" r="1.55" fill="none" stroke="#e8837a" stroke-width="0.75"/>
<circle cx="317.81" cy="634.36" r="1.55" fill="none" stroke="#e8837a" stroke-width="0.75"/>
<path d="M66.2,480.57 L67.8,481.27 L69.39,481.97 L70.99,482.67 L72.58,483.36 L74.18,484.05 L75.77,484.74 L77.37,485.43 L78.97,486.12 L80.56,486.81 L82.16,487.49 L83.75,488.17 L85.35,488.86 L86.94,489.54 L88.54,490.22 L90.14,490.9 L91.73,491.58 L93.33,492.25 L94.92,492.93 L96.52,493.61 L98.11,494.29 L99.71,494.97 L101.31,495.64 L102.9,496.32 L104.5,497 L106.09,497.68 L107.69,498.36 L109.28,499.04 L110.88,499.72 L112.48,500.4 L114.07,501.09 L115.67,501.77 L117.26,502.45 L118.86,503.14 L120.45,503.83 L122.05,504.52 L123.64,505.21 L125.24,505.9 L126.84,506.6 L128.43,507.29 L130.03,507.99 L131.62,508.69 L133.22,509.4 L134.81,510.1 L136.41,510.81 L138.01,511.52 L139.6,512.24 L141.2,512.95 L142.79,513.67 L144.39,514.39 L145.98,515.12 L147.58,515.85 L149.18,516.58 L150.77,517.32 L152.37,518.06 L153.96,518.8 L155.56,519.55 L157.15,520.3 L158.75,521.06 L160.35,521.82 L161.94,522.59 L163.54,523.36 L165.13,524.13 L166.73,524.91 L168.32,525.69 L169.92,526.48 L171.52,527.27 L173.11,528.07 L174.71,528.88 L176.3,529.69 L177.9,530.5 L179.49,531.32 L181.09,532.15 L182.69,532.98 L184.28,533.82 L185.88,534.66 L187.47,535.51 L189.07,536.37 L190.66,537.23 L192.26,538.1 L193.86,538.97 L195.45,539.85 L197.05,540.73 L198.64,541.62 L200.24,542.51 L201.83,543.4 L203.43,544.3 L205.03,545.19 L206.62,546.09 L208.22,546.99 L209.81,547.89 L211.41,548.79 L213,549.69 L214.6,550.59 L216.2,551.48 L217.79,552.38 L219.39,553.27 L220.98,554.16 L222.58,555.04 L224.17,555.92 L225.77,556.8 L227.36,557.67 L228.96,558.53 L230.56,559.39 L232.15,560.25 L233.75,561.09 L235.34,561.93 L236.94,562.76 L238.53,563.59 L240.13,564.4 L241.73,565.2 L243.32,566 L244.92,566.78 L246.51,567.56 L248.11,568.32 L249.7,569.07 L251.3,569.81 L252.9,570.53 L254.49,571.25 L256.09,571.94 L257.68,572.63 L259.28,573.3 L260.87,573.96 L262.47,574.6 L264.07,575.23 L265.66,575.84 L267.26,576.44 L268.85,577.03 L270.45,577.59 L272.04,578.14 L273.64,578.68 L275.24,579.2 L276.83,579.7 L278.43,580.18 L280.02,580.65 L281.62,581.1 L283.21,581.53 L284.81,581.94 L286.41,582.34 L288,582.72 L289.6,583.07 L291.19,583.41 L292.79,583.73 L294.38,584.03 L295.98,584.31 L297.58,584.57 L299.17,584.8 L300.77,585.02 L302.36,585.22 L303.96,585.39 L305.55,585.54 L307.15,585.67 L308.75,585.78 L310.34,585.87 L311.94,585.93 L313.53,585.97 L315.13,585.99 L316.72,585.98 L318.32,585.95" fill="none" stroke="#d93ad2" stroke-width="1.2"/>
<line x1="66.2" y1="608.3" x2="319.8" y2="608.3" stroke="#d93ad2" stroke-width="0.9"/>
<circle cx="66.2" cy="480.57" r="1.55" fill="none" stroke="#ec82e2" stroke-width="0.75"/>
<circle cx="66.2" cy="608.3" r="1.55" fill="none" stroke="#ec82e2" stroke-width="0.75"/>
<circle cx="69.23" cy="481.63" r="1.55" fill="none" stroke="#ec82e2" stroke-width="0.75"/>
<circle cx="69.23" cy="608.45" r="1.55" fill="none" stroke="#ec82e2" stroke-width="0.75"/>
<circle cx="72.26" cy="482.67" r="1.55" fill="none" stroke="#ec82e2" stroke-width="0.75"/>
<circle cx="72.26" cy="608.61" r="1.55" fill="none" stroke="#ec82e2" stroke-width="0.75"/>
<circle cx="75.29" cy="483.71" r="1.55" fill="none" stroke="#ec82e2" stroke-width="0.75"/>
<circle cx="75.29" cy="608.76" r="1.55" fill="none" stroke="#ec82e2" stroke-width="0.75"/>
<circle cx="78.33" cy="484.74" r="1.55" fill="none" stroke="#ec82e2" stroke-width="0.75"/>
<circle cx="78.33" cy="608.91" r="1.55" fill="none" stroke="#ec82e2" stroke-width="0.75"/>
<circle cx="81.36" cy="485.99" r="1.55" fill="none" stroke="#ec82e2" stroke-width="0.75"/>
<circle cx="81.36" cy="609.07" r="1.55" fill="none" stroke="#ec82e2" stroke-width="0.75"/>
<circle cx="84.39" cy="487.35" r="1.55" fill="none" stroke="#ec82e2" stroke-width="0.75"/>
<circle cx="84.39" cy="609.22" r="1.55" fill="none" stroke="#ec82e2" stroke-width="0.75"/>
<circle cx="87.42" cy="488.71" r="1.55" fill="none" stroke="#ec82e2" stroke-width="0.75"/>
<circle cx="87.42" cy="609.28" r="1.55" fill="none" stroke="#ec82e2" stroke-width="0.75"/>
<circle cx="90.45" cy="490.07" r="1.55" fill="none" stroke="#ec82e2" stroke-width="0.75"/>
<circle cx="90.45" cy="609.23" r="1.55" fill="none" stroke="#ec82e2" stroke-width="0.75"/>
<circle cx="93.48" cy="491.42" r="1.55" fill="none" stroke="#ec82e2" stroke-width="0.75"/>
<circle cx="93.48" cy="609.19" r="1.55" fill="none" stroke="#ec82e2" stroke-width="0.75"/>
<circle cx="96.51" cy="492.77" r="1.55" fill="none" stroke="#ec82e2" stroke-width="0.75"/>
<circle cx="96.51" cy="609.14" r="1.55" fill="none" stroke="#ec82e2" stroke-width="0.75"/>
<circle cx="99.55" cy="494.13" r="1.55" fill="none" stroke="#ec82e2" stroke-width="0.75"/>
<circle cx="99.55" cy="609.09" r="1.55" fill="none" stroke="#ec82e2" stroke-width="0.75"/>
<circle cx="102.58" cy="495.48" r="1.55" fill="none" stroke="#ec82e2" stroke-width="0.75"/>
<circle cx="102.58" cy="609.05" r="1.55" fill="none" stroke="#ec82e2" stroke-width="0.75"/>
<circle cx="105.61" cy="496.83" r="1.55" fill="none" stroke="#ec82e2" stroke-width="0.75"/>
<circle cx="105.61" cy="609" r="1.55" fill="none" stroke="#ec82e2" stroke-width="0.75"/>
<circle cx="108.64" cy="498.19" r="1.55" fill="none" stroke="#ec82e2" stroke-width="0.75"/>
<circle cx="108.64" cy="608.96" r="1.55" fill="none" stroke="#ec82e2" stroke-width="0.75"/>
<circle cx="111.67" cy="499.54" r="1.55" fill="none" stroke="#ec82e2" stroke-width="0.75"/>
<circle cx="111.67" cy="608.91" r="1.55" fill="none" stroke="#ec82e2" stroke-width="0.75"/>
<circle cx="114.7" cy="501.01" r="1.55" fill="none" stroke="#ec82e2" stroke-width="0.75"/>
<circle cx="114.7" cy="608.8" r="1.55" fill="none" stroke="#ec82e2" stroke-width="0.75"/>
<circle cx="117.73" cy="502.51" r="1.55" fill="none" stroke="#ec82e2" stroke-width="0.75"/>
<circle cx="117.73" cy="608.67" r="1.55" fill="none" stroke="#ec82e2" stroke-width="0.75"/>
<circle cx="120.77" cy="504.02" r="1.55" fill="none" stroke="#ec82e2" stroke-width="0.75"/>
<circle cx="120.77" cy="608.54" r="1.55" fill="none" stroke="#ec82e2" stroke-width="0.75"/>
<circle cx="123.8" cy="505.53" r="1.55" fill="none" stroke="#ec82e2" stroke-width="0.75"/>
<circle cx="123.8" cy="608.41" r="1.55" fill="none" stroke="#ec82e2" stroke-width="0.75"/>
<circle cx="126.83" cy="507.05" r="1.55" fill="none" stroke="#ec82e2" stroke-width="0.75"/>
<circle cx="126.83" cy="608.28" r="1.55" fill="none" stroke="#ec82e2" stroke-width="0.75"/>
<circle cx="129.86" cy="508.57" r="1.55" fill="none" stroke="#ec82e2" stroke-width="0.75"/>
<circle cx="129.86" cy="608.16" r="1.55" fill="none" stroke="#ec82e2" stroke-width="0.75"/>
<circle cx="132.89" cy="510.08" r="1.55" fill="none" stroke="#ec82e2" stroke-width="0.75"/>
<circle cx="132.89" cy="608.03" r="1.55" fill="none" stroke="#ec82e2" stroke-width="0.75"/>
<circle cx="135.92" cy="511.55" r="1.55" fill="none" stroke="#ec82e2" stroke-width="0.75"/>
<circle cx="135.92" cy="607.9" r="1.55" fill="none" stroke="#ec82e2" stroke-width="0.75"/>
<circle cx="138.95" cy="513.02" r="1.55" fill="none" stroke="#ec82e2" stroke-width="0.75"/>
<circle cx="138.95" cy="607.77" r="1.55" fill="none" stroke="#ec82e2" stroke-width="0.75"/>
<circle cx="141.98" cy="514.51" r="1.55" fill="none" stroke="#ec82e2" stroke-width="0.75"/>
<circle cx="141.98" cy="607.64" r="1.55" fill="none" stroke="#ec82e2" stroke-width="0.75"/>
<circle cx="145.02" cy="516" r="1.55" fill="none" stroke="#ec82e2" stroke-width="0.75"/>
<circle cx="145.02" cy="607.51" r="1.55" fill="none" stroke="#ec82e2" stroke-width="0.75"/>
<circle cx="148.05" cy="517.51" r="1.55" fill="none" stroke="#ec82e2" stroke-width="0.75"/>
<circle cx="148.05" cy="607.48" r="1.55" fill="none" stroke="#ec82e2" stroke-width="0.75"/>
<circle cx="151.08" cy="519.03" r="1.55" fill="none" stroke="#ec82e2" stroke-width="0.75"/>
<circle cx="151.08" cy="607.46" r="1.55" fill="none" stroke="#ec82e2" stroke-width="0.75"/>
<circle cx="154.11" cy="520.47" r="1.55" fill="none" stroke="#ec82e2" stroke-width="0.75"/>
<circle cx="154.11" cy="607.45" r="1.55" fill="none" stroke="#ec82e2" stroke-width="0.75"/>
<circle cx="157.14" cy="521.9" r="1.55" fill="none" stroke="#ec82e2" stroke-width="0.75"/>
<circle cx="157.14" cy="607.43" r="1.55" fill="none" stroke="#ec82e2" stroke-width="0.75"/>
<circle cx="160.17" cy="523.34" r="1.55" fill="none" stroke="#ec82e2" stroke-width="0.75"/>
<circle cx="160.17" cy="607.41" r="1.55" fill="none" stroke="#ec82e2" stroke-width="0.75"/>
<circle cx="163.2" cy="524.79" r="1.55" fill="none" stroke="#ec82e2" stroke-width="0.75"/>
<circle cx="163.2" cy="607.39" r="1.55" fill="none" stroke="#ec82e2" stroke-width="0.75"/>
<circle cx="166.24" cy="526.27" r="1.55" fill="none" stroke="#ec82e2" stroke-width="0.75"/>
<circle cx="166.24" cy="607.37" r="1.55" fill="none" stroke="#ec82e2" stroke-width="0.75"/>
<circle cx="169.27" cy="527.76" r="1.55" fill="none" stroke="#ec82e2" stroke-width="0.75"/>
<circle cx="169.27" cy="607.35" r="1.55" fill="none" stroke="#ec82e2" stroke-width="0.75"/>
<circle cx="172.3" cy="529.27" r="1.55" fill="none" stroke="#ec82e2" stroke-width="0.75"/>
<circle cx="172.3" cy="607.34" r="1.55" fill="none" stroke="#ec82e2" stroke-width="0.75"/>
<circle cx="175.33" cy="530.79" r="1.55" fill="none" stroke="#ec82e2" stroke-width="0.75"/>
<circle cx="175.33" cy="607.32" r="1.55" fill="none" stroke="#ec82e2" stroke-width="0.75"/>
<circle cx="178.36" cy="532.33" r="1.55" fill="none" stroke="#ec82e2" stroke-width="0.75"/>
<circle cx="178.36" cy="607.3" r="1.55" fill="none" stroke="#ec82e2" stroke-width="0.75"/>
<circle cx="181.39" cy="533.75" r="1.55" fill="none" stroke="#ec82e2" stroke-width="0.75"/>
<circle cx="181.39" cy="607.4" r="1.55" fill="none" stroke="#ec82e2" stroke-width="0.75"/>
<circle cx="184.42" cy="535.18" r="1.55" fill="none" stroke="#ec82e2" stroke-width="0.75"/>
<circle cx="184.42" cy="607.49" r="1.55" fill="none" stroke="#ec82e2" stroke-width="0.75"/>
<circle cx="187.46" cy="536.64" r="1.55" fill="none" stroke="#ec82e2" stroke-width="0.75"/>
<circle cx="187.46" cy="607.58" r="1.55" fill="none" stroke="#ec82e2" stroke-width="0.75"/>
<circle cx="190.49" cy="538.12" r="1.55" fill="none" stroke="#ec82e2" stroke-width="0.75"/>
<circle cx="190.49" cy="607.67" r="1.55" fill="none" stroke="#ec82e2" stroke-width="0.75"/>
<circle cx="193.52" cy="539.62" r="1.55" fill="none" stroke="#ec82e2" stroke-width="0.75"/>
<circle cx="193.52" cy="607.76" r="1.55" fill="none" stroke="#ec82e2" stroke-width="0.75"/>
<circle cx="196.55" cy="541.13" r="1.55" fill="none" stroke="#ec82e2" stroke-width="0.75"/>
<circle cx="196.55" cy="607.86" r="1.55" fill="none" stroke="#ec82e2" stroke-width="0.75"/>
<circle cx="199.58" cy="542.65" r="1.55" fill="none" stroke="#ec82e2" stroke-width="0.75"/>
<circle cx="199.58" cy="607.95" r="1.55" fill="none" stroke="#ec82e2" stroke-width="0.75"/>
<circle cx="202.61" cy="544.16" r="1.55" fill="none" stroke="#ec82e2" stroke-width="0.75"/>
<circle cx="202.61" cy="608.04" r="1.55" fill="none" stroke="#ec82e2" stroke-width="0.75"/>
<circle cx="205.64" cy="545.68" r="1.55" fill="none" stroke="#ec82e2" stroke-width="0.75"/>
<circle cx="205.64" cy="608.13" r="1.55" fill="none" stroke="#ec82e2" stroke-width="0.75"/>
<circle cx="208.68" cy="547.2" r="1.55" fill="none" stroke="#ec82e2" stroke-width="0.75"/>
<circle cx="208.68" cy="608.22" r="1.55" fill="none" stroke="#ec82e2" stroke-width="0.75"/>
<circle cx="211.71" cy="548.73" r="1.55" fill="none" stroke="#ec82e2" stroke-width="0.75"/>
<circle cx="211.71" cy="608.29" r="1.55" fill="none" stroke="#ec82e2" stroke-width="0.75"/>
<circle cx="214.74" cy="550.25" r="1.55" fill="none" stroke="#ec82e2" stroke-width="0.75"/>
<circle cx="214.74" cy="608.22" r="1.55" fill="none" stroke="#ec82e2" stroke-width="0.75"/>
<circle cx="217.77" cy="551.76" r="1.55" fill="none" stroke="#ec82e2" stroke-width="0.75"/>
<circle cx="217.77" cy="608.15" r="1.55" fill="none" stroke="#ec82e2" stroke-width="0.75"/>
<circle cx="220.8" cy="553.27" r="1.55" fill="none" stroke="#ec82e2" stroke-width="0.75"/>
<circle cx="220.8" cy="608.08" r="1.55" fill="none" stroke="#ec82e2" stroke-width="0.75"/>
<circle cx="223.83" cy="554.77" r="1.55" fill="none" stroke="#ec82e2" stroke-width="0.75"/>
<circle cx="223.83" cy="608.01" r="1.55" fill="none" stroke="#ec82e2" stroke-width="0.75"/>
<circle cx="226.86" cy="556.4" r="1.55" fill="none" stroke="#ec82e2" stroke-width="0.75"/>
<circle cx="226.86" cy="607.94" r="1.55" fill="none" stroke="#ec82e2" stroke-width="0.75"/>
<circle cx="229.9" cy="558.04" r="1.55" fill="none" stroke="#ec82e2" stroke-width="0.75"/>
<circle cx="229.9" cy="607.87" r="1.55" fill="none" stroke="#ec82e2" stroke-width="0.75"/>
<circle cx="232.93" cy="559.66" r="1.55" fill="none" stroke="#ec82e2" stroke-width="0.75"/>
<circle cx="232.93" cy="607.8" r="1.55" fill="none" stroke="#ec82e2" stroke-width="0.75"/>
<circle cx="235.96" cy="561.25" r="1.55" fill="none" stroke="#ec82e2" stroke-width="0.75"/>
<circle cx="235.96" cy="607.74" r="1.55" fill="none" stroke="#ec82e2" stroke-width="0.75"/>
<circle cx="238.99" cy="562.82" r="1.55" fill="none" stroke="#ec82e2" stroke-width="0.75"/>
<circle cx="238.99" cy="607.69" r="1.55" fill="none" stroke="#ec82e2" stroke-width="0.75"/>
<circle cx="242.02" cy="564.35" r="1.55" fill="none" stroke="#ec82e2" stroke-width="0.75"/>
<circle cx="242.02" cy="607.67" r="1.55" fill="none" stroke="#ec82e2" stroke-width="0.75"/>
<circle cx="245.05" cy="565.85" r="1.55" fill="none" stroke="#ec82e2" stroke-width="0.75"/>
<circle cx="245.05" cy="607.65" r="1.55" fill="none" stroke="#ec82e2" stroke-width="0.75"/>
<circle cx="248.08" cy="567.31" r="1.55" fill="none" stroke="#ec82e2" stroke-width="0.75"/>
<circle cx="248.08" cy="607.64" r="1.55" fill="none" stroke="#ec82e2" stroke-width="0.75"/>
<circle cx="251.12" cy="568.72" r="1.55" fill="none" stroke="#ec82e2" stroke-width="0.75"/>
<circle cx="251.12" cy="607.62" r="1.55" fill="none" stroke="#ec82e2" stroke-width="0.75"/>
<circle cx="254.15" cy="570.09" r="1.55" fill="none" stroke="#ec82e2" stroke-width="0.75"/>
<circle cx="254.15" cy="607.6" r="1.55" fill="none" stroke="#ec82e2" stroke-width="0.75"/>
<circle cx="257.18" cy="571.41" r="1.55" fill="none" stroke="#ec82e2" stroke-width="0.75"/>
<circle cx="257.18" cy="607.58" r="1.55" fill="none" stroke="#ec82e2" stroke-width="0.75"/>
<circle cx="260.21" cy="572.69" r="1.55" fill="none" stroke="#ec82e2" stroke-width="0.75"/>
<circle cx="260.21" cy="607.56" r="1.55" fill="none" stroke="#ec82e2" stroke-width="0.75"/>
<circle cx="263.24" cy="573.91" r="1.55" fill="none" stroke="#ec82e2" stroke-width="0.75"/>
<circle cx="263.24" cy="607.54" r="1.55" fill="none" stroke="#ec82e2" stroke-width="0.75"/>
<circle cx="266.27" cy="575.15" r="1.55" fill="none" stroke="#ec82e2" stroke-width="0.75"/>
<circle cx="266.27" cy="607.53" r="1.55" fill="none" stroke="#ec82e2" stroke-width="0.75"/>
<circle cx="269.3" cy="576.35" r="1.55" fill="none" stroke="#ec82e2" stroke-width="0.75"/>
<circle cx="269.3" cy="607.51" r="1.55" fill="none" stroke="#ec82e2" stroke-width="0.75"/>
<circle cx="272.34" cy="577.5" r="1.55" fill="none" stroke="#ec82e2" stroke-width="0.75"/>
<circle cx="272.34" cy="607.53" r="1.55" fill="none" stroke="#ec82e2" stroke-width="0.75"/>
<circle cx="275.37" cy="578.59" r="1.55" fill="none" stroke="#ec82e2" stroke-width="0.75"/>
<circle cx="275.37" cy="607.57" r="1.55" fill="none" stroke="#ec82e2" stroke-width="0.75"/>
<circle cx="278.4" cy="579.61" r="1.55" fill="none" stroke="#ec82e2" stroke-width="0.75"/>
<circle cx="278.4" cy="607.62" r="1.55" fill="none" stroke="#ec82e2" stroke-width="0.75"/>
<circle cx="281.43" cy="580.58" r="1.55" fill="none" stroke="#ec82e2" stroke-width="0.75"/>
<circle cx="281.43" cy="607.67" r="1.55" fill="none" stroke="#ec82e2" stroke-width="0.75"/>
<circle cx="284.46" cy="581.48" r="1.55" fill="none" stroke="#ec82e2" stroke-width="0.75"/>
<circle cx="284.46" cy="607.71" r="1.55" fill="none" stroke="#ec82e2" stroke-width="0.75"/>
<circle cx="287.49" cy="582.31" r="1.55" fill="none" stroke="#ec82e2" stroke-width="0.75"/>
<circle cx="287.49" cy="607.76" r="1.55" fill="none" stroke="#ec82e2" stroke-width="0.75"/>
<circle cx="290.52" cy="583.08" r="1.55" fill="none" stroke="#ec82e2" stroke-width="0.75"/>
<circle cx="290.52" cy="607.8" r="1.55" fill="none" stroke="#ec82e2" stroke-width="0.75"/>
<circle cx="293.56" cy="583.78" r="1.55" fill="none" stroke="#ec82e2" stroke-width="0.75"/>
<circle cx="293.56" cy="607.85" r="1.55" fill="none" stroke="#ec82e2" stroke-width="0.75"/>
<circle cx="296.59" cy="584.4" r="1.55" fill="none" stroke="#ec82e2" stroke-width="0.75"/>
<circle cx="296.59" cy="607.9" r="1.55" fill="none" stroke="#ec82e2" stroke-width="0.75"/>
<circle cx="299.62" cy="584.94" r="1.55" fill="none" stroke="#ec82e2" stroke-width="0.75"/>
<circle cx="299.62" cy="607.94" r="1.55" fill="none" stroke="#ec82e2" stroke-width="0.75"/>
<circle cx="302.65" cy="585.4" r="1.55" fill="none" stroke="#ec82e2" stroke-width="0.75"/>
<circle cx="302.65" cy="607.99" r="1.55" fill="none" stroke="#ec82e2" stroke-width="0.75"/>
<circle cx="305.68" cy="585.78" r="1.55" fill="none" stroke="#ec82e2" stroke-width="0.75"/>
<circle cx="305.68" cy="608.04" r="1.55" fill="none" stroke="#ec82e2" stroke-width="0.75"/>
<circle cx="308.71" cy="586.08" r="1.55" fill="none" stroke="#ec82e2" stroke-width="0.75"/>
<circle cx="308.71" cy="608.1" r="1.55" fill="none" stroke="#ec82e2" stroke-width="0.75"/>
<circle cx="311.74" cy="586.3" r="1.55" fill="none" stroke="#ec82e2" stroke-width="0.75"/>
<circle cx="311.74" cy="608.15" r="1.55" fill="none" stroke="#ec82e2" stroke-width="0.75"/>
<circle cx="314.77" cy="586.44" r="1.55" fill="none" stroke="#ec82e2" stroke-width="0.75"/>
<circle cx="314.77" cy="608.21" r="1.55" fill="none" stroke="#ec82e2" stroke-width="0.75"/>
<circle cx="317.81" cy="586.47" r="1.55" fill="none" stroke="#ec82e2" stroke-width="0.75"/>
<circle cx="317.81" cy="608.26" r="1.55" fill="none" stroke="#ec82e2" stroke-width="0.75"/>
<text x="33.5" y="532.5" font-size="14.5" fill="#111" text-anchor="middle" transform="rotate(-90 33.5 532.5)" dy="5">Amplitude</text>
<text x="34.5" y="623.3" font-size="9.5" fill="#111" text-anchor="middle" transform="rotate(-90 34.5 623.3)" dy="3.4">Residual</text>
<text x="254" y="491.6" font-size="9" fill="#e5140f" font-weight="bold">WT</text>
<text x="254.3" y="502.7" font-size="9" fill="#e040d8" font-weight="bold"><tspan font-style="italic">Cahsp90</tspan> null</text>
<text x="56.2" y="673.6" font-size="14" fill="#111">10<tspan font-size="9.5" dy="-9">2</tspan></text>
<text x="122.1" y="673.6" font-size="14" fill="#111">10<tspan font-size="9.5" dy="-9">3</tspan></text>
<text x="188" y="673.6" font-size="14" fill="#111">10<tspan font-size="9.5" dy="-9">4</tspan></text>
<text x="253.9" y="673.6" font-size="14" fill="#111">10<tspan font-size="9.5" dy="-9">5</tspan></text>
<text x="165" y="685.6" font-size="13.5" fill="#111">Time (µs)</text>
<text x="347.5" y="248.2" font-size="10.5" fill="#111">c</text>
<line x1="390.2" y1="250.9" x2="390.2" y2="422.9" stroke="#eeeeee" stroke-width="0.8"/>
<line x1="410.76" y1="250.9" x2="410.76" y2="422.9" stroke="#eeeeee" stroke-width="0.8"/>
<line x1="422.79" y1="250.9" x2="422.79" y2="422.9" stroke="#eeeeee" stroke-width="0.8"/>
<line x1="431.32" y1="250.9" x2="431.32" y2="422.9" stroke="#eeeeee" stroke-width="0.8"/>
<line x1="437.94" y1="250.9" x2="437.94" y2="422.9" stroke="#eeeeee" stroke-width="0.8"/>
<line x1="443.35" y1="250.9" x2="443.35" y2="422.9" stroke="#eeeeee" stroke-width="0.8"/>
<line x1="447.92" y1="250.9" x2="447.92" y2="422.9" stroke="#eeeeee" stroke-width="0.8"/>
<line x1="451.88" y1="250.9" x2="451.88" y2="422.9" stroke="#eeeeee" stroke-width="0.8"/>
<line x1="455.37" y1="250.9" x2="455.37" y2="422.9" stroke="#eeeeee" stroke-width="0.8"/>
<line x1="458.5" y1="250.9" x2="458.5" y2="422.9" stroke="#eeeeee" stroke-width="0.8"/>
<line x1="479.06" y1="250.9" x2="479.06" y2="422.9" stroke="#eeeeee" stroke-width="0.8"/>
<line x1="491.09" y1="250.9" x2="491.09" y2="422.9" stroke="#eeeeee" stroke-width="0.8"/>
<line x1="499.62" y1="250.9" x2="499.62" y2="422.9" stroke="#eeeeee" stroke-width="0.8"/>
<line x1="506.24" y1="250.9" x2="506.24" y2="422.9" stroke="#eeeeee" stroke-width="0.8"/>
<line x1="511.65" y1="250.9" x2="511.65" y2="422.9" stroke="#eeeeee" stroke-width="0.8"/>
<line x1="516.22" y1="250.9" x2="516.22" y2="422.9" stroke="#eeeeee" stroke-width="0.8"/>
<line x1="520.18" y1="250.9" x2="520.18" y2="422.9" stroke="#eeeeee" stroke-width="0.8"/>
<line x1="523.67" y1="250.9" x2="523.67" y2="422.9" stroke="#eeeeee" stroke-width="0.8"/>
<line x1="526.8" y1="250.9" x2="526.8" y2="422.9" stroke="#eeeeee" stroke-width="0.8"/>
<line x1="547.36" y1="250.9" x2="547.36" y2="422.9" stroke="#eeeeee" stroke-width="0.8"/>
<line x1="559.39" y1="250.9" x2="559.39" y2="422.9" stroke="#eeeeee" stroke-width="0.8"/>
<line x1="567.92" y1="250.9" x2="567.92" y2="422.9" stroke="#eeeeee" stroke-width="0.8"/>
<line x1="574.54" y1="250.9" x2="574.54" y2="422.9" stroke="#eeeeee" stroke-width="0.8"/>
<line x1="579.95" y1="250.9" x2="579.95" y2="422.9" stroke="#eeeeee" stroke-width="0.8"/>
<line x1="584.52" y1="250.9" x2="584.52" y2="422.9" stroke="#eeeeee" stroke-width="0.8"/>
<line x1="588.48" y1="250.9" x2="588.48" y2="422.9" stroke="#eeeeee" stroke-width="0.8"/>
<line x1="591.97" y1="250.9" x2="591.97" y2="422.9" stroke="#eeeeee" stroke-width="0.8"/>
<line x1="595.1" y1="250.9" x2="595.1" y2="422.9" stroke="#eeeeee" stroke-width="0.8"/>
<line x1="615.66" y1="250.9" x2="615.66" y2="422.9" stroke="#eeeeee" stroke-width="0.8"/>
<line x1="627.69" y1="250.9" x2="627.69" y2="422.9" stroke="#eeeeee" stroke-width="0.8"/>
<line x1="636.22" y1="250.9" x2="636.22" y2="422.9" stroke="#eeeeee" stroke-width="0.8"/>
<line x1="642.84" y1="250.9" x2="642.84" y2="422.9" stroke="#eeeeee" stroke-width="0.8"/>
<line x1="648.25" y1="250.9" x2="648.25" y2="422.9" stroke="#eeeeee" stroke-width="0.8"/>
<line x1="652.82" y1="250.9" x2="652.82" y2="422.9" stroke="#eeeeee" stroke-width="0.8"/>
<line x1="388.3" y1="250.4" x2="655.3" y2="250.4" stroke="#848484" stroke-width="1"/>
<line x1="388.3" y1="250.4" x2="388.3" y2="423.4" stroke="#848484" stroke-width="1"/>
<line x1="655.3" y1="250.4" x2="655.3" y2="423.4" stroke="#848484" stroke-width="1"/>
<line x1="388.3" y1="423.4" x2="655.3" y2="423.4" stroke="#848484" stroke-width="1"/>
<line x1="388.3" y1="421.2" x2="391.8" y2="421.2" stroke="#848484" stroke-width="1"/>
<text transform="matrix(0.97 0 0 1.12 385.8 425.92)" font-size="13.2" fill="#111" text-anchor="end">0.0</text>
<line x1="388.3" y1="387.54" x2="391.8" y2="387.54" stroke="#848484" stroke-width="1"/>
<text transform="matrix(0.97 0 0 1.12 385.8 392.26)" font-size="13.2" fill="#111" text-anchor="end">0.2</text>
<line x1="388.3" y1="353.88" x2="391.8" y2="353.88" stroke="#848484" stroke-width="1"/>
<text transform="matrix(0.97 0 0 1.12 385.8 358.6)" font-size="13.2" fill="#111" text-anchor="end">0.4</text>
<line x1="388.3" y1="320.22" x2="391.8" y2="320.22" stroke="#848484" stroke-width="1"/>
<text transform="matrix(0.97 0 0 1.12 385.8 324.94)" font-size="13.2" fill="#111" text-anchor="end">0.6</text>
<line x1="388.3" y1="286.56" x2="391.8" y2="286.56" stroke="#848484" stroke-width="1"/>
<text transform="matrix(0.97 0 0 1.12 385.8 291.28)" font-size="13.2" fill="#111" text-anchor="end">0.8</text>
<line x1="388.3" y1="252.9" x2="391.8" y2="252.9" stroke="#848484" stroke-width="1"/>
<text transform="matrix(0.97 0 0 1.12 385.8 257.62)" font-size="13.2" fill="#111" text-anchor="end">1.0</text>
<line x1="390.2" y1="423.4" x2="390.2" y2="418.9" stroke="#848484" stroke-width="1"/>
<line x1="410.76" y1="423.4" x2="410.76" y2="421.1" stroke="#848484" stroke-width="1"/>
<line x1="422.79" y1="423.4" x2="422.79" y2="421.1" stroke="#848484" stroke-width="1"/>
<line x1="431.32" y1="423.4" x2="431.32" y2="421.1" stroke="#848484" stroke-width="1"/>
<line x1="437.94" y1="423.4" x2="437.94" y2="421.1" stroke="#848484" stroke-width="1"/>
<line x1="443.35" y1="423.4" x2="443.35" y2="421.1" stroke="#848484" stroke-width="1"/>
<line x1="447.92" y1="423.4" x2="447.92" y2="421.1" stroke="#848484" stroke-width="1"/>
<line x1="451.88" y1="423.4" x2="451.88" y2="421.1" stroke="#848484" stroke-width="1"/>
<line x1="455.37" y1="423.4" x2="455.37" y2="421.1" stroke="#848484" stroke-width="1"/>
<line x1="458.5" y1="423.4" x2="458.5" y2="418.9" stroke="#848484" stroke-width="1"/>
<line x1="479.06" y1="423.4" x2="479.06" y2="421.1" stroke="#848484" stroke-width="1"/>
<line x1="491.09" y1="423.4" x2="491.09" y2="421.1" stroke="#848484" stroke-width="1"/>
<line x1="499.62" y1="423.4" x2="499.62" y2="421.1" stroke="#848484" stroke-width="1"/>
<line x1="506.24" y1="423.4" x2="506.24" y2="421.1" stroke="#848484" stroke-width="1"/>
<line x1="511.65" y1="423.4" x2="511.65" y2="421.1" stroke="#848484" stroke-width="1"/>
<line x1="516.22" y1="423.4" x2="516.22" y2="421.1" stroke="#848484" stroke-width="1"/>
<line x1="520.18" y1="423.4" x2="520.18" y2="421.1" stroke="#848484" stroke-width="1"/>
<line x1="523.67" y1="423.4" x2="523.67" y2="421.1" stroke="#848484" stroke-width="1"/>
<line x1="526.8" y1="423.4" x2="526.8" y2="418.9" stroke="#848484" stroke-width="1"/>
<line x1="547.36" y1="423.4" x2="547.36" y2="421.1" stroke="#848484" stroke-width="1"/>
<line x1="559.39" y1="423.4" x2="559.39" y2="421.1" stroke="#848484" stroke-width="1"/>
<line x1="567.92" y1="423.4" x2="567.92" y2="421.1" stroke="#848484" stroke-width="1"/>
<line x1="574.54" y1="423.4" x2="574.54" y2="421.1" stroke="#848484" stroke-width="1"/>
<line x1="579.95" y1="423.4" x2="579.95" y2="421.1" stroke="#848484" stroke-width="1"/>
<line x1="584.52" y1="423.4" x2="584.52" y2="421.1" stroke="#848484" stroke-width="1"/>
<line x1="588.48" y1="423.4" x2="588.48" y2="421.1" stroke="#848484" stroke-width="1"/>
<line x1="591.97" y1="423.4" x2="591.97" y2="421.1" stroke="#848484" stroke-width="1"/>
<line x1="595.1" y1="423.4" x2="595.1" y2="418.9" stroke="#848484" stroke-width="1"/>
<line x1="615.66" y1="423.4" x2="615.66" y2="421.1" stroke="#848484" stroke-width="1"/>
<line x1="627.69" y1="423.4" x2="627.69" y2="421.1" stroke="#848484" stroke-width="1"/>
<line x1="636.22" y1="423.4" x2="636.22" y2="421.1" stroke="#848484" stroke-width="1"/>
<line x1="642.84" y1="423.4" x2="642.84" y2="421.1" stroke="#848484" stroke-width="1"/>
<line x1="648.25" y1="423.4" x2="648.25" y2="421.1" stroke="#848484" stroke-width="1"/>
<line x1="652.82" y1="423.4" x2="652.82" y2="421.1" stroke="#848484" stroke-width="1"/>
<circle cx="397.1" cy="299.1" r="2.05" fill="#e8100e"/>
<circle cx="397.1" cy="302.1" r="2.05" fill="#e8100e"/>
<circle cx="397.1" cy="305.1" r="2.05" fill="#e8100e"/>
<circle cx="397.1" cy="308.1" r="2.05" fill="#e8100e"/>
<circle cx="397.1" cy="311.1" r="2.05" fill="#e8100e"/>
<circle cx="397.1" cy="317.1" r="2.05" fill="#e8100e"/>
<circle cx="397.1" cy="320.1" r="2.05" fill="#e8100e"/>
<circle cx="397.1" cy="323.1" r="2.05" fill="#e8100e"/>
<circle cx="397.1" cy="326.1" r="2.05" fill="#e8100e"/>
<circle cx="397.1" cy="329.1" r="2.05" fill="#e8100e"/>
<circle cx="397.1" cy="332.1" r="2.05" fill="#e8100e"/>
<circle cx="397.1" cy="335.1" r="2.05" fill="#e8100e"/>
<circle cx="397.1" cy="341.1" r="2.05" fill="#e8100e"/>
<circle cx="397.1" cy="344.1" r="2.05" fill="#e8100e"/>
<circle cx="397.1" cy="347.1" r="2.05" fill="#e8100e"/>
<circle cx="397.1" cy="350.1" r="2.05" fill="#e8100e"/>
<circle cx="397.1" cy="353.1" r="2.05" fill="#e8100e"/>
<circle cx="397.1" cy="356.1" r="2.05" fill="#e8100e"/>
<circle cx="397.1" cy="359.1" r="2.05" fill="#e8100e"/>
<circle cx="397.1" cy="362.1" r="2.05" fill="#e8100e"/>
<circle cx="397.1" cy="365.1" r="2.05" fill="#e8100e"/>
<circle cx="471.8" cy="306.8" r="2.05" fill="#e8100e"/>
<circle cx="475.9" cy="310.5" r="2.05" fill="#e8100e"/>
<circle cx="477.9" cy="308.9" r="2.05" fill="#e8100e"/>
<circle cx="478.5" cy="309.8" r="2.05" fill="#e8100e"/>
<circle cx="486.1" cy="310.5" r="2.05" fill="#e8100e"/>
<circle cx="480.8" cy="313.9" r="2.05" fill="#e8100e"/>
<circle cx="482.7" cy="321.1" r="2.05" fill="#e8100e"/>
<circle cx="474.7" cy="329.2" r="2.05" fill="#e8100e"/>
<circle cx="483.8" cy="328.8" r="2.05" fill="#e8100e"/>
<circle cx="487.3" cy="328.6" r="2.05" fill="#e8100e"/>
<circle cx="488" cy="330.3" r="2.05" fill="#e8100e"/>
<circle cx="499.1" cy="327" r="2.05" fill="#e8100e"/>
<circle cx="505.9" cy="330.3" r="2.05" fill="#e8100e"/>
<circle cx="508.5" cy="328.6" r="2.05" fill="#e8100e"/>
<circle cx="484.2" cy="336.5" r="2.05" fill="#e8100e"/>
<circle cx="491.4" cy="340" r="2.05" fill="#e8100e"/>
<circle cx="483" cy="345.5" r="2.05" fill="#e8100e"/>
<circle cx="490.6" cy="343.8" r="2.05" fill="#e8100e"/>
<circle cx="496.4" cy="349.1" r="2.05" fill="#e8100e"/>
<circle cx="495.6" cy="351.1" r="2.05" fill="#e8100e"/>
<circle cx="498.6" cy="350.8" r="2.05" fill="#e8100e"/>
<circle cx="503.2" cy="351.1" r="2.05" fill="#e8100e"/>
<circle cx="489.8" cy="353.6" r="2.05" fill="#e8100e"/>
<circle cx="495.6" cy="352.6" r="2.05" fill="#e8100e"/>
<circle cx="495.2" cy="356.1" r="2.05" fill="#e8100e"/>
<circle cx="487.6" cy="364.2" r="2.05" fill="#e8100e"/>
<circle cx="494.5" cy="363.5" r="2.05" fill="#e8100e"/>
<circle cx="500.6" cy="365.2" r="2.05" fill="#e8100e"/>
<circle cx="493.6" cy="368.2" r="2.05" fill="#e8100e"/>
<circle cx="510" cy="370.5" r="2.05" fill="#e8100e"/>
<circle cx="497.6" cy="373.9" r="2.05" fill="#e8100e"/>
<circle cx="397.1" cy="367.2" r="2.05" fill="#5c1462"/>
<circle cx="397.1" cy="369.6" r="2.05" fill="#5c1462"/>
<circle cx="397.1" cy="376.9" r="2.05" fill="#5c1462"/>
<circle cx="397.1" cy="379.5" r="2.05" fill="#5c1462"/>
<circle cx="397.1" cy="382.1" r="2.05" fill="#5c1462"/>
<circle cx="397.1" cy="384.7" r="2.05" fill="#5c1462"/>
<circle cx="397.1" cy="387.3" r="2.05" fill="#5c1462"/>
<circle cx="397.1" cy="389.9" r="2.05" fill="#5c1462"/>
<circle cx="397.1" cy="392.5" r="2.05" fill="#5c1462"/>
<circle cx="397.1" cy="395.1" r="2.05" fill="#5c1462"/>
<circle cx="397.1" cy="397.7" r="2.05" fill="#5c1462"/>
<circle cx="397.1" cy="406.6" r="2.05" fill="#5c1462"/>
<circle cx="397.1" cy="412.7" r="2.05" fill="#5c1462"/>
<circle cx="397.1" cy="418.1" r="2.05" fill="#5c1462"/>
<circle cx="522.9" cy="255.3" r="2.05" fill="#5c1462"/>
<circle cx="524.7" cy="260.6" r="2.05" fill="#5c1462"/>
<circle cx="503.9" cy="267.4" r="2.05" fill="#5c1462"/>
<circle cx="519.1" cy="267.4" r="2.05" fill="#5c1462"/>
<circle cx="513" cy="276.8" r="2.05" fill="#5c1462"/>
<circle cx="505" cy="279.1" r="2.05" fill="#5c1462"/>
<circle cx="505.9" cy="280.9" r="2.05" fill="#5c1462"/>
<circle cx="525.9" cy="279.1" r="2.05" fill="#5c1462"/>
<circle cx="540.3" cy="279.4" r="2.05" fill="#5c1462"/>
<circle cx="527.4" cy="283.3" r="2.05" fill="#5c1462"/>
<circle cx="533.5" cy="282.6" r="2.05" fill="#5c1462"/>
<circle cx="544.5" cy="283" r="2.05" fill="#5c1462"/>
<circle cx="511.8" cy="288.3" r="2.05" fill="#5c1462"/>
<circle cx="517.6" cy="290.2" r="2.05" fill="#5c1462"/>
<circle cx="520.6" cy="286.8" r="2.05" fill="#5c1462"/>
<circle cx="522.1" cy="286.4" r="2.05" fill="#5c1462"/>
<circle cx="528.9" cy="289.1" r="2.05" fill="#5c1462"/>
<circle cx="536.2" cy="288" r="2.05" fill="#5c1462"/>
<circle cx="508.5" cy="291.5" r="2.05" fill="#5c1462"/>
<circle cx="513.5" cy="295.3" r="2.05" fill="#5c1462"/>
<circle cx="534.7" cy="295.5" r="2.05" fill="#5c1462"/>
<circle cx="536.5" cy="293.8" r="2.05" fill="#5c1462"/>
<circle cx="546.8" cy="294.4" r="2.05" fill="#5c1462"/>
<circle cx="523.6" cy="306.2" r="2.05" fill="#5c1462"/>
<circle cx="528.5" cy="303.9" r="2.05" fill="#5c1462"/>
<text x="346.7" y="336.9" font-size="13.5" fill="#111" text-anchor="middle" transform="rotate(-90 346.7 336.9)" dy="4.7">Amplitude</text>
<text x="566.3" y="262.2" font-size="9" fill="#e8100e" font-weight="bold">WT</text>
<text x="566.3" y="272.8" font-size="9" fill="#5c1462" font-weight="bold">WT + geldanamycin</text>
<text x="380.8" y="446.6" font-size="13" fill="#111">10<tspan font-size="9" dy="-8.5">2</tspan></text>
<text x="449.1" y="446.6" font-size="13" fill="#111">10<tspan font-size="9" dy="-8.5">3</tspan></text>
<text x="517.4" y="446.6" font-size="13" fill="#111">10<tspan font-size="9" dy="-8.5">4</tspan></text>
<text x="585.7" y="446.6" font-size="13" fill="#111">10<tspan font-size="9" dy="-8.5">5</tspan></text>
<text x="494" y="458.3" font-size="13.2" fill="#111">Time (µs)</text>
<text x="348.8" y="467.6" font-size="10.5" fill="#111">e</text>
<line x1="384.6" y1="474" x2="384.6" y2="650.7" stroke="#eeeeee" stroke-width="0.8"/>
<line x1="405.55" y1="474" x2="405.55" y2="650.7" stroke="#eeeeee" stroke-width="0.8"/>
<line x1="417.81" y1="474" x2="417.81" y2="650.7" stroke="#eeeeee" stroke-width="0.8"/>
<line x1="426.5" y1="474" x2="426.5" y2="650.7" stroke="#eeeeee" stroke-width="0.8"/>
<line x1="433.25" y1="474" x2="433.25" y2="650.7" stroke="#eeeeee" stroke-width="0.8"/>
<line x1="438.76" y1="474" x2="438.76" y2="650.7" stroke="#eeeeee" stroke-width="0.8"/>
<line x1="443.42" y1="474" x2="443.42" y2="650.7" stroke="#eeeeee" stroke-width="0.8"/>
<line x1="447.46" y1="474" x2="447.46" y2="650.7" stroke="#eeeeee" stroke-width="0.8"/>
<line x1="451.02" y1="474" x2="451.02" y2="650.7" stroke="#eeeeee" stroke-width="0.8"/>
<line x1="454.2" y1="474" x2="454.2" y2="650.7" stroke="#eeeeee" stroke-width="0.8"/>
<line x1="475.15" y1="474" x2="475.15" y2="650.7" stroke="#eeeeee" stroke-width="0.8"/>
<line x1="487.41" y1="474" x2="487.41" y2="650.7" stroke="#eeeeee" stroke-width="0.8"/>
<line x1="496.1" y1="474" x2="496.1" y2="650.7" stroke="#eeeeee" stroke-width="0.8"/>
<line x1="502.85" y1="474" x2="502.85" y2="650.7" stroke="#eeeeee" stroke-width="0.8"/>
<line x1="508.36" y1="474" x2="508.36" y2="650.7" stroke="#eeeeee" stroke-width="0.8"/>
<line x1="513.02" y1="474" x2="513.02" y2="650.7" stroke="#eeeeee" stroke-width="0.8"/>
<line x1="517.06" y1="474" x2="517.06" y2="650.7" stroke="#eeeeee" stroke-width="0.8"/>
<line x1="520.62" y1="474" x2="520.62" y2="650.7" stroke="#eeeeee" stroke-width="0.8"/>
<line x1="523.8" y1="474" x2="523.8" y2="650.7" stroke="#eeeeee" stroke-width="0.8"/>
<line x1="544.75" y1="474" x2="544.75" y2="650.7" stroke="#eeeeee" stroke-width="0.8"/>
<line x1="557.01" y1="474" x2="557.01" y2="650.7" stroke="#eeeeee" stroke-width="0.8"/>
<line x1="565.7" y1="474" x2="565.7" y2="650.7" stroke="#eeeeee" stroke-width="0.8"/>
<line x1="572.45" y1="474" x2="572.45" y2="650.7" stroke="#eeeeee" stroke-width="0.8"/>
<line x1="577.96" y1="474" x2="577.96" y2="650.7" stroke="#eeeeee" stroke-width="0.8"/>
<line x1="582.62" y1="474" x2="582.62" y2="650.7" stroke="#eeeeee" stroke-width="0.8"/>
<line x1="586.66" y1="474" x2="586.66" y2="650.7" stroke="#eeeeee" stroke-width="0.8"/>
<line x1="590.22" y1="474" x2="590.22" y2="650.7" stroke="#eeeeee" stroke-width="0.8"/>
<line x1="593.4" y1="474" x2="593.4" y2="650.7" stroke="#eeeeee" stroke-width="0.8"/>
<line x1="614.35" y1="474" x2="614.35" y2="650.7" stroke="#eeeeee" stroke-width="0.8"/>
<line x1="626.61" y1="474" x2="626.61" y2="650.7" stroke="#eeeeee" stroke-width="0.8"/>
<line x1="635.3" y1="474" x2="635.3" y2="650.7" stroke="#eeeeee" stroke-width="0.8"/>
<line x1="642.05" y1="474" x2="642.05" y2="650.7" stroke="#eeeeee" stroke-width="0.8"/>
<line x1="647.56" y1="474" x2="647.56" y2="650.7" stroke="#eeeeee" stroke-width="0.8"/>
<line x1="652.22" y1="474" x2="652.22" y2="650.7" stroke="#eeeeee" stroke-width="0.8"/>
<line x1="381.6" y1="473.5" x2="655.5" y2="473.5" stroke="#848484" stroke-width="1"/>
<line x1="381.6" y1="473.5" x2="381.6" y2="651.2" stroke="#848484" stroke-width="1"/>
<line x1="655.5" y1="473.5" x2="655.5" y2="651.2" stroke="#848484" stroke-width="1"/>
<line x1="381.6" y1="651.2" x2="655.5" y2="651.2" stroke="#848484" stroke-width="1"/>
<line x1="381.6" y1="649.4" x2="385.1" y2="649.4" stroke="#848484" stroke-width="1"/>
<text transform="matrix(0.97 0 0 1.12 379.1 654.32)" font-size="13.2" fill="#111" text-anchor="end">0.0</text>
<line x1="381.6" y1="614.64" x2="385.1" y2="614.64" stroke="#848484" stroke-width="1"/>
<text transform="matrix(0.97 0 0 1.12 379.1 619.56)" font-size="13.2" fill="#111" text-anchor="end">0.2</text>
<line x1="381.6" y1="579.88" x2="385.1" y2="579.88" stroke="#848484" stroke-width="1"/>
<text transform="matrix(0.97 0 0 1.12 379.1 584.8)" font-size="13.2" fill="#111" text-anchor="end">0.4</text>
<line x1="381.6" y1="545.12" x2="385.1" y2="545.12" stroke="#848484" stroke-width="1"/>
<text transform="matrix(0.97 0 0 1.12 379.1 550.04)" font-size="13.2" fill="#111" text-anchor="end">0.6</text>
<line x1="381.6" y1="510.36" x2="385.1" y2="510.36" stroke="#848484" stroke-width="1"/>
<text transform="matrix(0.97 0 0 1.12 379.1 515.28)" font-size="13.2" fill="#111" text-anchor="end">0.8</text>
<line x1="381.6" y1="475.6" x2="385.1" y2="475.6" stroke="#848484" stroke-width="1"/>
<text transform="matrix(0.97 0 0 1.12 379.1 480.52)" font-size="13.2" fill="#111" text-anchor="end">1.0</text>
<line x1="384.6" y1="651.2" x2="384.6" y2="646.7" stroke="#848484" stroke-width="1"/>
<line x1="405.55" y1="651.2" x2="405.55" y2="648.9" stroke="#848484" stroke-width="1"/>
<line x1="417.81" y1="651.2" x2="417.81" y2="648.9" stroke="#848484" stroke-width="1"/>
<line x1="426.5" y1="651.2" x2="426.5" y2="648.9" stroke="#848484" stroke-width="1"/>
<line x1="433.25" y1="651.2" x2="433.25" y2="648.9" stroke="#848484" stroke-width="1"/>
<line x1="438.76" y1="651.2" x2="438.76" y2="648.9" stroke="#848484" stroke-width="1"/>
<line x1="443.42" y1="651.2" x2="443.42" y2="648.9" stroke="#848484" stroke-width="1"/>
<line x1="447.46" y1="651.2" x2="447.46" y2="648.9" stroke="#848484" stroke-width="1"/>
<line x1="451.02" y1="651.2" x2="451.02" y2="648.9" stroke="#848484" stroke-width="1"/>
<line x1="454.2" y1="651.2" x2="454.2" y2="646.7" stroke="#848484" stroke-width="1"/>
<line x1="475.15" y1="651.2" x2="475.15" y2="648.9" stroke="#848484" stroke-width="1"/>
<line x1="487.41" y1="651.2" x2="487.41" y2="648.9" stroke="#848484" stroke-width="1"/>
<line x1="496.1" y1="651.2" x2="496.1" y2="648.9" stroke="#848484" stroke-width="1"/>
<line x1="502.85" y1="651.2" x2="502.85" y2="648.9" stroke="#848484" stroke-width="1"/>
<line x1="508.36" y1="651.2" x2="508.36" y2="648.9" stroke="#848484" stroke-width="1"/>
<line x1="513.02" y1="651.2" x2="513.02" y2="648.9" stroke="#848484" stroke-width="1"/>
<line x1="517.06" y1="651.2" x2="517.06" y2="648.9" stroke="#848484" stroke-width="1"/>
<line x1="520.62" y1="651.2" x2="520.62" y2="648.9" stroke="#848484" stroke-width="1"/>
<line x1="523.8" y1="651.2" x2="523.8" y2="646.7" stroke="#848484" stroke-width="1"/>
<line x1="544.75" y1="651.2" x2="544.75" y2="648.9" stroke="#848484" stroke-width="1"/>
<line x1="557.01" y1="651.2" x2="557.01" y2="648.9" stroke="#848484" stroke-width="1"/>
<line x1="565.7" y1="651.2" x2="565.7" y2="648.9" stroke="#848484" stroke-width="1"/>
<line x1="572.45" y1="651.2" x2="572.45" y2="648.9" stroke="#848484" stroke-width="1"/>
<line x1="577.96" y1="651.2" x2="577.96" y2="648.9" stroke="#848484" stroke-width="1"/>
<line x1="582.62" y1="651.2" x2="582.62" y2="648.9" stroke="#848484" stroke-width="1"/>
<line x1="586.66" y1="651.2" x2="586.66" y2="648.9" stroke="#848484" stroke-width="1"/>
<line x1="590.22" y1="651.2" x2="590.22" y2="648.9" stroke="#848484" stroke-width="1"/>
<line x1="593.4" y1="651.2" x2="593.4" y2="646.7" stroke="#848484" stroke-width="1"/>
<line x1="614.35" y1="651.2" x2="614.35" y2="648.9" stroke="#848484" stroke-width="1"/>
<line x1="626.61" y1="651.2" x2="626.61" y2="648.9" stroke="#848484" stroke-width="1"/>
<line x1="635.3" y1="651.2" x2="635.3" y2="648.9" stroke="#848484" stroke-width="1"/>
<line x1="642.05" y1="651.2" x2="642.05" y2="648.9" stroke="#848484" stroke-width="1"/>
<line x1="647.56" y1="651.2" x2="647.56" y2="648.9" stroke="#848484" stroke-width="1"/>
<line x1="652.22" y1="651.2" x2="652.22" y2="648.9" stroke="#848484" stroke-width="1"/>
<circle cx="391" cy="524.6" r="2.05" fill="#f244dc"/>
<circle cx="391" cy="526.8" r="2.05" fill="#f244dc"/>
<circle cx="391" cy="529" r="2.05" fill="#f244dc"/>
<circle cx="391" cy="531.2" r="2.05" fill="#f244dc"/>
<circle cx="391" cy="533.4" r="2.05" fill="#f244dc"/>
<circle cx="391" cy="535.6" r="2.05" fill="#f244dc"/>
<circle cx="391" cy="537.8" r="2.05" fill="#f244dc"/>
<circle cx="391" cy="540" r="2.05" fill="#f244dc"/>
<circle cx="391" cy="542.2" r="2.05" fill="#f244dc"/>
<circle cx="391" cy="544.4" r="2.05" fill="#f244dc"/>
<circle cx="391" cy="546.6" r="2.05" fill="#f244dc"/>
<circle cx="391" cy="548.8" r="2.05" fill="#f244dc"/>
<circle cx="391" cy="551" r="2.05" fill="#f244dc"/>
<circle cx="391" cy="553.2" r="2.05" fill="#f244dc"/>
<circle cx="391" cy="555.4" r="2.05" fill="#f244dc"/>
<circle cx="391" cy="557.6" r="2.05" fill="#f244dc"/>
<circle cx="391" cy="559.8" r="2.05" fill="#f244dc"/>
<circle cx="391" cy="562" r="2.05" fill="#f244dc"/>
<circle cx="391" cy="564.2" r="2.05" fill="#f244dc"/>
<circle cx="391" cy="566.4" r="2.05" fill="#f244dc"/>
<circle cx="391" cy="568.6" r="2.05" fill="#f244dc"/>
<circle cx="391" cy="570.8" r="2.05" fill="#f244dc"/>
<circle cx="391" cy="573" r="2.05" fill="#f244dc"/>
<circle cx="391" cy="575.2" r="2.05" fill="#f244dc"/>
<circle cx="391" cy="577.4" r="2.05" fill="#f244dc"/>
<circle cx="391" cy="579.6" r="2.05" fill="#f244dc"/>
<circle cx="391" cy="581.8" r="2.05" fill="#f244dc"/>
<circle cx="391" cy="584" r="2.05" fill="#f244dc"/>
<circle cx="391" cy="586.2" r="2.05" fill="#f244dc"/>
<circle cx="391" cy="588.4" r="2.05" fill="#f244dc"/>
<circle cx="391" cy="590.6" r="2.05" fill="#f244dc"/>
<circle cx="391" cy="592.8" r="2.05" fill="#f244dc"/>
<circle cx="391" cy="524.6" r="2.05" fill="#e8100e"/>
<circle cx="391" cy="531.5" r="2.05" fill="#e8100e"/>
<circle cx="391" cy="533.5" r="2.05" fill="#e8100e"/>
<circle cx="391" cy="535.6" r="2.05" fill="#e8100e"/>
<circle cx="391" cy="543" r="2.05" fill="#e8100e"/>
<circle cx="391" cy="549.4" r="2.05" fill="#e8100e"/>
<circle cx="391" cy="558" r="2.05" fill="#e8100e"/>
<circle cx="391" cy="589.7" r="2.05" fill="#e8100e"/>
<circle cx="467.6" cy="531.4" r="2.05" fill="#e8100e"/>
<circle cx="471.8" cy="535.2" r="2.05" fill="#e8100e"/>
<circle cx="473.6" cy="533.3" r="2.05" fill="#e8100e"/>
<circle cx="474.7" cy="534.4" r="2.05" fill="#e8100e"/>
<circle cx="482" cy="534.8" r="2.05" fill="#e8100e"/>
<circle cx="476.7" cy="538.5" r="2.05" fill="#e8100e"/>
<circle cx="478.6" cy="546.1" r="2.05" fill="#e8100e"/>
<circle cx="470.3" cy="554.5" r="2.05" fill="#e8100e"/>
<circle cx="479.4" cy="553.9" r="2.05" fill="#e8100e"/>
<circle cx="483.2" cy="553.3" r="2.05" fill="#e8100e"/>
<circle cx="483.9" cy="555.6" r="2.05" fill="#e8100e"/>
<circle cx="495.2" cy="551.8" r="2.05" fill="#e8100e"/>
<circle cx="502.4" cy="555.6" r="2.05" fill="#e8100e"/>
<circle cx="505.2" cy="553.6" r="2.05" fill="#e8100e"/>
<circle cx="480" cy="561.7" r="2.05" fill="#e8100e"/>
<circle cx="487.6" cy="565.2" r="2.05" fill="#e8100e"/>
<circle cx="486.5" cy="569.2" r="2.05" fill="#e8100e"/>
<circle cx="478.9" cy="570.9" r="2.05" fill="#e8100e"/>
<circle cx="492.5" cy="575.1" r="2.05" fill="#e8100e"/>
<circle cx="495.2" cy="576.1" r="2.05" fill="#e8100e"/>
<circle cx="491.9" cy="577.5" r="2.05" fill="#e8100e"/>
<circle cx="499.4" cy="576.3" r="2.05" fill="#e8100e"/>
<circle cx="485.8" cy="579.1" r="2.05" fill="#e8100e"/>
<circle cx="491.8" cy="581.5" r="2.05" fill="#e8100e"/>
<circle cx="483.6" cy="590" r="2.05" fill="#e8100e"/>
<circle cx="490.7" cy="589.2" r="2.05" fill="#e8100e"/>
<circle cx="497.2" cy="591.2" r="2.05" fill="#e8100e"/>
<circle cx="489.7" cy="594" r="2.05" fill="#e8100e"/>
<circle cx="506.7" cy="596.4" r="2.05" fill="#e8100e"/>
<circle cx="494" cy="600.1" r="2.05" fill="#e8100e"/>
<circle cx="479.2" cy="571.2" r="2.05" fill="#e8100e"/>
<circle cx="486.7" cy="570" r="2.05" fill="#e8100e"/>
<circle cx="520.6" cy="529.7" r="2.05" fill="#f244dc"/>
<circle cx="528.9" cy="530.9" r="2.05" fill="#f244dc"/>
<circle cx="542.6" cy="532.4" r="2.05" fill="#f244dc"/>
<circle cx="540.8" cy="537.1" r="2.05" fill="#f244dc"/>
<circle cx="539.5" cy="539.7" r="2.05" fill="#f244dc"/>
<circle cx="513.8" cy="540.5" r="2.05" fill="#f244dc"/>
<circle cx="529.7" cy="542.7" r="2.05" fill="#f244dc"/>
<circle cx="532.4" cy="543.9" r="2.05" fill="#f244dc"/>
<circle cx="532.7" cy="546.5" r="2.05" fill="#f244dc"/>
<circle cx="549.1" cy="544.5" r="2.05" fill="#f244dc"/>
<circle cx="522.4" cy="545.5" r="2.05" fill="#f244dc"/>
<circle cx="520.6" cy="548" r="2.05" fill="#f244dc"/>
<circle cx="511.5" cy="547.3" r="2.05" fill="#f244dc"/>
<circle cx="510.5" cy="548.5" r="2.05" fill="#f244dc"/>
<circle cx="539.1" cy="545.8" r="2.05" fill="#f244dc"/>
<circle cx="538.5" cy="551.1" r="2.05" fill="#f244dc"/>
<circle cx="547.9" cy="552.6" r="2.05" fill="#f244dc"/>
<circle cx="552.7" cy="554.1" r="2.05" fill="#f244dc"/>
<circle cx="523.9" cy="552.3" r="2.05" fill="#f244dc"/>
<circle cx="508.8" cy="551.8" r="2.05" fill="#f244dc"/>
<circle cx="509.2" cy="554.1" r="2.05" fill="#f244dc"/>
<circle cx="513" cy="555.8" r="2.05" fill="#f244dc"/>
<circle cx="508.5" cy="559.1" r="2.05" fill="#f244dc"/>
<circle cx="511.2" cy="560.6" r="2.05" fill="#f244dc"/>
<circle cx="515.8" cy="559.7" r="2.05" fill="#f244dc"/>
<circle cx="518" cy="558.2" r="2.05" fill="#f244dc"/>
<circle cx="510.5" cy="564.2" r="2.05" fill="#f244dc"/>
<circle cx="530.5" cy="563.9" r="2.05" fill="#f244dc"/>
<circle cx="529.7" cy="568.9" r="2.05" fill="#f244dc"/>
<circle cx="511.2" cy="571.2" r="2.05" fill="#f244dc"/>
<circle cx="513" cy="571.8" r="2.05" fill="#f244dc"/>
<circle cx="514.5" cy="571.5" r="2.05" fill="#f244dc"/>
<circle cx="522.1" cy="570.8" r="2.05" fill="#f244dc"/>
<circle cx="521.4" cy="572.3" r="2.05" fill="#f244dc"/>
<circle cx="542.1" cy="572.3" r="2.05" fill="#f244dc"/>
<circle cx="527.7" cy="577" r="2.05" fill="#f244dc"/>
<circle cx="514.8" cy="578.3" r="2.05" fill="#f244dc"/>
<circle cx="518.3" cy="585.2" r="2.05" fill="#f244dc"/>
<circle cx="527.4" cy="585.5" r="2.05" fill="#f244dc"/>
<circle cx="530" cy="586.7" r="2.05" fill="#f244dc"/>
<circle cx="511.5" cy="595.3" r="2.05" fill="#f244dc"/>
<text x="20.5" y="0" font-size="13.5" fill="#111" text-anchor="middle" transform="translate(0 0)"></text>
<text x="340" y="562" font-size="13.5" fill="#111" text-anchor="middle" transform="rotate(-90 340 562)" dy="4.7">Amplitude</text>
<text x="582.4" y="489.1" font-size="9" fill="#e8100e" font-weight="bold">WT</text>
<text x="582.4" y="500.2" font-size="9" fill="#f244dc" font-weight="bold"><tspan font-style="italic">Cahsp90</tspan> null</text>
<text x="375.2" y="675" font-size="13" fill="#111">10<tspan font-size="9" dy="-8.5">2</tspan></text>
<text x="444.8" y="675" font-size="13" fill="#111">10<tspan font-size="9" dy="-8.5">3</tspan></text>
<text x="514.4" y="675" font-size="13" fill="#111">10<tspan font-size="9" dy="-8.5">4</tspan></text>
<text x="584" y="675" font-size="13" fill="#111">10<tspan font-size="9" dy="-8.5">5</tspan></text>
<text x="490" y="686.4" font-size="13.2" fill="#111">Time (µs)</text>
</svg>
</body></html>
